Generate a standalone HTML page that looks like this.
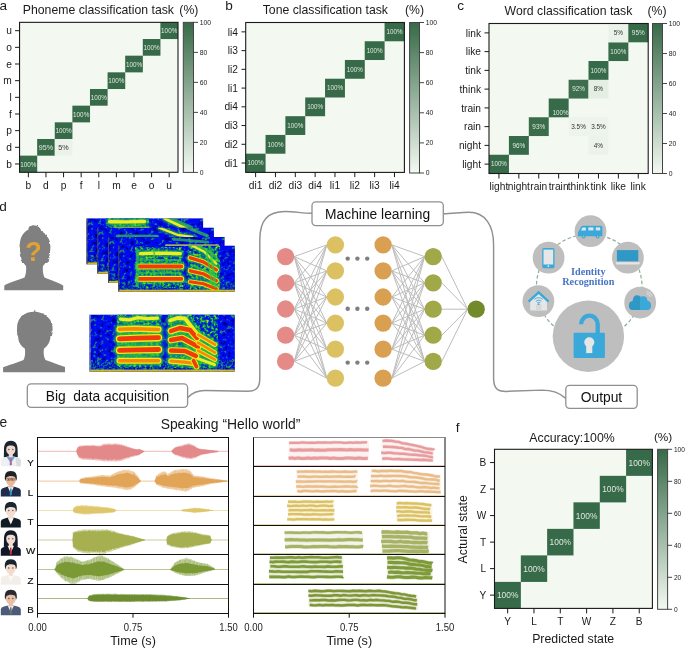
<!DOCTYPE html>
<html><head><meta charset="utf-8"><title>Figure</title>
<style>html,body{margin:0;padding:0;background:#fff;overflow:hidden}svg{display:block}</style>
</head><body>
<svg width="685" height="648" viewBox="0 0 685 648" font-family="Liberation Sans, Arial, sans-serif">
<rect width="685" height="648" fill="#fff"/>
<defs><linearGradient id="cbg" x1="0" y1="1" x2="0" y2="0"><stop offset="0" stop-color="#f3f9f1"/><stop offset="1" stop-color="#376a48"/></linearGradient></defs>
<rect x="19.55" y="22.35" width="158.45" height="149.95" fill="#f3f9f1"/>
<rect x="19.55" y="155.64" width="17.66" height="16.71" fill="#376a48"/>
<text x="28.35" y="166.56" font-size="7.2" text-anchor="middle" fill="#dfe9de" textLength="16.2" lengthAdjust="spacingAndGlyphs">100%</text>
<rect x="37.16" y="138.98" width="17.66" height="16.71" fill="#376a48"/>
<text x="45.96" y="149.90" font-size="7.2" text-anchor="middle" fill="#dfe9de" >95%</text>
<rect x="54.76" y="122.32" width="17.66" height="16.71" fill="#376a48"/>
<text x="63.56" y="133.24" font-size="7.2" text-anchor="middle" fill="#dfe9de" textLength="16.2" lengthAdjust="spacingAndGlyphs">100%</text>
<rect x="72.37" y="105.66" width="17.66" height="16.71" fill="#376a48"/>
<text x="81.17" y="116.58" font-size="7.2" text-anchor="middle" fill="#dfe9de" textLength="16.2" lengthAdjust="spacingAndGlyphs">100%</text>
<rect x="89.97" y="88.99" width="17.66" height="16.71" fill="#376a48"/>
<text x="98.77" y="99.92" font-size="7.2" text-anchor="middle" fill="#dfe9de" textLength="16.2" lengthAdjust="spacingAndGlyphs">100%</text>
<rect x="107.58" y="72.33" width="17.66" height="16.71" fill="#376a48"/>
<text x="116.38" y="83.26" font-size="7.2" text-anchor="middle" fill="#dfe9de" textLength="16.2" lengthAdjust="spacingAndGlyphs">100%</text>
<rect x="125.18" y="55.67" width="17.66" height="16.71" fill="#376a48"/>
<text x="133.99" y="66.59" font-size="7.2" text-anchor="middle" fill="#dfe9de" textLength="16.2" lengthAdjust="spacingAndGlyphs">100%</text>
<rect x="142.79" y="39.01" width="17.66" height="16.71" fill="#376a48"/>
<text x="151.59" y="49.93" font-size="7.2" text-anchor="middle" fill="#dfe9de" textLength="16.2" lengthAdjust="spacingAndGlyphs">100%</text>
<rect x="160.39" y="22.35" width="17.66" height="16.71" fill="#376a48"/>
<text x="169.20" y="33.27" font-size="7.2" text-anchor="middle" fill="#dfe9de" textLength="16.2" lengthAdjust="spacingAndGlyphs">100%</text>
<rect x="54.76" y="138.98" width="17.66" height="16.71" fill="#eaf2e9"/>
<text x="63.56" y="149.90" font-size="7.2" text-anchor="middle" fill="#333" >5%</text>
<rect x="19.55" y="22.35" width="158.45" height="149.95" fill="none" stroke="#1a1a1a" stroke-width="1.1"/>
<line x1="15.05" y1="163.97" x2="19.55" y2="163.97" stroke="#1a1a1a" stroke-width="1"/>
<text x="11.85" y="167.64" font-size="10.2" text-anchor="end" fill="#1a1a1a" >b</text>
<line x1="28.35" y1="172.3" x2="28.35" y2="177.3" stroke="#1a1a1a" stroke-width="1"/>
<text x="28.35" y="188.50" font-size="10.2" text-anchor="middle" fill="#1a1a1a" >b</text>
<line x1="15.05" y1="147.31" x2="19.55" y2="147.31" stroke="#1a1a1a" stroke-width="1"/>
<text x="11.85" y="150.98" font-size="10.2" text-anchor="end" fill="#1a1a1a" >d</text>
<line x1="45.96" y1="172.3" x2="45.96" y2="177.3" stroke="#1a1a1a" stroke-width="1"/>
<text x="45.96" y="188.50" font-size="10.2" text-anchor="middle" fill="#1a1a1a" >d</text>
<line x1="15.05" y1="130.65" x2="19.55" y2="130.65" stroke="#1a1a1a" stroke-width="1"/>
<text x="11.85" y="134.32" font-size="10.2" text-anchor="end" fill="#1a1a1a" >p</text>
<line x1="63.56" y1="172.3" x2="63.56" y2="177.3" stroke="#1a1a1a" stroke-width="1"/>
<text x="63.56" y="188.50" font-size="10.2" text-anchor="middle" fill="#1a1a1a" >p</text>
<line x1="15.05" y1="113.99" x2="19.55" y2="113.99" stroke="#1a1a1a" stroke-width="1"/>
<text x="11.85" y="117.66" font-size="10.2" text-anchor="end" fill="#1a1a1a" >f</text>
<line x1="81.17" y1="172.3" x2="81.17" y2="177.3" stroke="#1a1a1a" stroke-width="1"/>
<text x="81.17" y="188.50" font-size="10.2" text-anchor="middle" fill="#1a1a1a" >f</text>
<line x1="15.05" y1="97.33" x2="19.55" y2="97.33" stroke="#1a1a1a" stroke-width="1"/>
<text x="11.85" y="101.00" font-size="10.2" text-anchor="end" fill="#1a1a1a" >l</text>
<line x1="98.77" y1="172.3" x2="98.77" y2="177.3" stroke="#1a1a1a" stroke-width="1"/>
<text x="98.77" y="188.50" font-size="10.2" text-anchor="middle" fill="#1a1a1a" >l</text>
<line x1="15.05" y1="80.66" x2="19.55" y2="80.66" stroke="#1a1a1a" stroke-width="1"/>
<text x="11.85" y="84.34" font-size="10.2" text-anchor="end" fill="#1a1a1a" >m</text>
<line x1="116.38" y1="172.3" x2="116.38" y2="177.3" stroke="#1a1a1a" stroke-width="1"/>
<text x="116.38" y="188.50" font-size="10.2" text-anchor="middle" fill="#1a1a1a" >m</text>
<line x1="15.05" y1="64.00" x2="19.55" y2="64.00" stroke="#1a1a1a" stroke-width="1"/>
<text x="11.85" y="67.67" font-size="10.2" text-anchor="end" fill="#1a1a1a" >e</text>
<line x1="133.99" y1="172.3" x2="133.99" y2="177.3" stroke="#1a1a1a" stroke-width="1"/>
<text x="133.99" y="188.50" font-size="10.2" text-anchor="middle" fill="#1a1a1a" >e</text>
<line x1="15.05" y1="47.34" x2="19.55" y2="47.34" stroke="#1a1a1a" stroke-width="1"/>
<text x="11.85" y="51.01" font-size="10.2" text-anchor="end" fill="#1a1a1a" >o</text>
<line x1="151.59" y1="172.3" x2="151.59" y2="177.3" stroke="#1a1a1a" stroke-width="1"/>
<text x="151.59" y="188.50" font-size="10.2" text-anchor="middle" fill="#1a1a1a" >o</text>
<line x1="15.05" y1="30.68" x2="19.55" y2="30.68" stroke="#1a1a1a" stroke-width="1"/>
<text x="11.85" y="34.35" font-size="10.2" text-anchor="end" fill="#1a1a1a" >u</text>
<line x1="169.20" y1="172.3" x2="169.20" y2="177.3" stroke="#1a1a1a" stroke-width="1"/>
<text x="169.20" y="188.50" font-size="10.2" text-anchor="middle" fill="#1a1a1a" >u</text>
<rect x="183.3" y="22.35" width="10.20" height="150.05" fill="url(#cbg)"/>
<rect x="183.3" y="22.35" width="10.20" height="150.05" fill="none" stroke="#444" stroke-width="1"/>
<line x1="193.5" y1="172.40" x2="198.0" y2="172.40" stroke="#333" stroke-width="0.9"/>
<text x="199.80" y="174.85" font-size="6.8" text-anchor="start" fill="#222" >0</text>
<line x1="193.5" y1="142.39" x2="198.0" y2="142.39" stroke="#333" stroke-width="0.9"/>
<text x="199.80" y="144.84" font-size="6.8" text-anchor="start" fill="#222" >20</text>
<line x1="193.5" y1="112.38" x2="198.0" y2="112.38" stroke="#333" stroke-width="0.9"/>
<text x="199.80" y="114.83" font-size="6.8" text-anchor="start" fill="#222" >40</text>
<line x1="193.5" y1="82.37" x2="198.0" y2="82.37" stroke="#333" stroke-width="0.9"/>
<text x="199.80" y="84.82" font-size="6.8" text-anchor="start" fill="#222" >60</text>
<line x1="193.5" y1="52.36" x2="198.0" y2="52.36" stroke="#333" stroke-width="0.9"/>
<text x="199.80" y="54.81" font-size="6.8" text-anchor="start" fill="#222" >80</text>
<line x1="193.5" y1="22.35" x2="198.0" y2="22.35" stroke="#333" stroke-width="0.9"/>
<text x="199.80" y="24.80" font-size="6.8" text-anchor="start" fill="#222" >100</text>
<text x="-0.50" y="9.80" font-size="13.6" text-anchor="start" fill="#1a1a1a" >a</text>
<text x="22.80" y="14.00" font-size="12.25" text-anchor="start" fill="#1a1a1a" >Phoneme classification task</text>
<text x="179.30" y="14.00" font-size="12.25" text-anchor="start" fill="#1a1a1a" >(%)</text>
<rect x="245.7" y="22.5" width="158.70" height="149.90" fill="#f3f9f1"/>
<rect x="245.70" y="153.66" width="19.89" height="18.79" fill="#376a48"/>
<text x="255.62" y="165.34" font-size="6.4" text-anchor="middle" fill="#dfe9de" textLength="16.0" lengthAdjust="spacingAndGlyphs">100%</text>
<rect x="265.54" y="134.93" width="19.89" height="18.79" fill="#376a48"/>
<text x="275.46" y="146.60" font-size="6.4" text-anchor="middle" fill="#dfe9de" textLength="16.0" lengthAdjust="spacingAndGlyphs">100%</text>
<rect x="285.38" y="116.19" width="19.89" height="18.79" fill="#376a48"/>
<text x="295.29" y="127.86" font-size="6.4" text-anchor="middle" fill="#dfe9de" textLength="16.0" lengthAdjust="spacingAndGlyphs">100%</text>
<rect x="305.21" y="97.45" width="19.89" height="18.79" fill="#376a48"/>
<text x="315.13" y="109.12" font-size="6.4" text-anchor="middle" fill="#dfe9de" textLength="16.0" lengthAdjust="spacingAndGlyphs">100%</text>
<rect x="325.05" y="78.71" width="19.89" height="18.79" fill="#376a48"/>
<text x="334.97" y="90.39" font-size="6.4" text-anchor="middle" fill="#dfe9de" textLength="16.0" lengthAdjust="spacingAndGlyphs">100%</text>
<rect x="344.89" y="59.97" width="19.89" height="18.79" fill="#376a48"/>
<text x="354.81" y="71.65" font-size="6.4" text-anchor="middle" fill="#dfe9de" textLength="16.0" lengthAdjust="spacingAndGlyphs">100%</text>
<rect x="364.72" y="41.24" width="19.89" height="18.79" fill="#376a48"/>
<text x="374.64" y="52.91" font-size="6.4" text-anchor="middle" fill="#dfe9de" textLength="16.0" lengthAdjust="spacingAndGlyphs">100%</text>
<rect x="384.56" y="22.50" width="19.89" height="18.79" fill="#376a48"/>
<text x="394.48" y="34.17" font-size="6.4" text-anchor="middle" fill="#dfe9de" textLength="16.0" lengthAdjust="spacingAndGlyphs">100%</text>
<rect x="245.7" y="22.5" width="158.70" height="149.90" fill="none" stroke="#1a1a1a" stroke-width="1.1"/>
<line x1="241.5" y1="163.03" x2="245.7" y2="163.03" stroke="#1a1a1a" stroke-width="1"/>
<text x="238.00" y="166.70" font-size="10.2" text-anchor="end" fill="#1a1a1a" >di1</text>
<line x1="255.62" y1="172.4" x2="255.62" y2="177.1" stroke="#1a1a1a" stroke-width="1"/>
<text x="255.62" y="188.50" font-size="10.2" text-anchor="middle" fill="#1a1a1a" >di1</text>
<line x1="241.5" y1="144.29" x2="245.7" y2="144.29" stroke="#1a1a1a" stroke-width="1"/>
<text x="238.00" y="147.97" font-size="10.2" text-anchor="end" fill="#1a1a1a" >di2</text>
<line x1="275.46" y1="172.4" x2="275.46" y2="177.1" stroke="#1a1a1a" stroke-width="1"/>
<text x="275.46" y="188.50" font-size="10.2" text-anchor="middle" fill="#1a1a1a" >di2</text>
<line x1="241.5" y1="125.56" x2="245.7" y2="125.56" stroke="#1a1a1a" stroke-width="1"/>
<text x="238.00" y="129.23" font-size="10.2" text-anchor="end" fill="#1a1a1a" >di3</text>
<line x1="295.29" y1="172.4" x2="295.29" y2="177.1" stroke="#1a1a1a" stroke-width="1"/>
<text x="295.29" y="188.50" font-size="10.2" text-anchor="middle" fill="#1a1a1a" >di3</text>
<line x1="241.5" y1="106.82" x2="245.7" y2="106.82" stroke="#1a1a1a" stroke-width="1"/>
<text x="238.00" y="110.49" font-size="10.2" text-anchor="end" fill="#1a1a1a" >di4</text>
<line x1="315.13" y1="172.4" x2="315.13" y2="177.1" stroke="#1a1a1a" stroke-width="1"/>
<text x="315.13" y="188.50" font-size="10.2" text-anchor="middle" fill="#1a1a1a" >di4</text>
<line x1="241.5" y1="88.08" x2="245.7" y2="88.08" stroke="#1a1a1a" stroke-width="1"/>
<text x="238.00" y="91.75" font-size="10.2" text-anchor="end" fill="#1a1a1a" >li1</text>
<line x1="334.97" y1="172.4" x2="334.97" y2="177.1" stroke="#1a1a1a" stroke-width="1"/>
<text x="334.97" y="188.50" font-size="10.2" text-anchor="middle" fill="#1a1a1a" >li1</text>
<line x1="241.5" y1="69.34" x2="245.7" y2="69.34" stroke="#1a1a1a" stroke-width="1"/>
<text x="238.00" y="73.02" font-size="10.2" text-anchor="end" fill="#1a1a1a" >li2</text>
<line x1="354.81" y1="172.4" x2="354.81" y2="177.1" stroke="#1a1a1a" stroke-width="1"/>
<text x="354.81" y="188.50" font-size="10.2" text-anchor="middle" fill="#1a1a1a" >li2</text>
<line x1="241.5" y1="50.61" x2="245.7" y2="50.61" stroke="#1a1a1a" stroke-width="1"/>
<text x="238.00" y="54.28" font-size="10.2" text-anchor="end" fill="#1a1a1a" >li3</text>
<line x1="374.64" y1="172.4" x2="374.64" y2="177.1" stroke="#1a1a1a" stroke-width="1"/>
<text x="374.64" y="188.50" font-size="10.2" text-anchor="middle" fill="#1a1a1a" >li3</text>
<line x1="241.5" y1="31.87" x2="245.7" y2="31.87" stroke="#1a1a1a" stroke-width="1"/>
<text x="238.00" y="35.54" font-size="10.2" text-anchor="end" fill="#1a1a1a" >li4</text>
<line x1="394.48" y1="172.4" x2="394.48" y2="177.1" stroke="#1a1a1a" stroke-width="1"/>
<text x="394.48" y="188.50" font-size="10.2" text-anchor="middle" fill="#1a1a1a" >li4</text>
<rect x="409.6" y="22.5" width="9.90" height="150.50" fill="url(#cbg)"/>
<rect x="409.6" y="22.5" width="9.90" height="150.50" fill="none" stroke="#444" stroke-width="1"/>
<line x1="419.5" y1="173.00" x2="424.0" y2="173.00" stroke="#333" stroke-width="0.9"/>
<text x="425.80" y="175.45" font-size="6.8" text-anchor="start" fill="#222" >0</text>
<line x1="419.5" y1="142.90" x2="424.0" y2="142.90" stroke="#333" stroke-width="0.9"/>
<text x="425.80" y="145.35" font-size="6.8" text-anchor="start" fill="#222" >20</text>
<line x1="419.5" y1="112.80" x2="424.0" y2="112.80" stroke="#333" stroke-width="0.9"/>
<text x="425.80" y="115.25" font-size="6.8" text-anchor="start" fill="#222" >40</text>
<line x1="419.5" y1="82.70" x2="424.0" y2="82.70" stroke="#333" stroke-width="0.9"/>
<text x="425.80" y="85.15" font-size="6.8" text-anchor="start" fill="#222" >60</text>
<line x1="419.5" y1="52.60" x2="424.0" y2="52.60" stroke="#333" stroke-width="0.9"/>
<text x="425.80" y="55.05" font-size="6.8" text-anchor="start" fill="#222" >80</text>
<line x1="419.5" y1="22.50" x2="424.0" y2="22.50" stroke="#333" stroke-width="0.9"/>
<text x="425.80" y="24.95" font-size="6.8" text-anchor="start" fill="#222" >100</text>
<text x="225.30" y="9.80" font-size="13.6" text-anchor="start" fill="#1a1a1a" >b</text>
<text x="262.70" y="14.00" font-size="12.25" text-anchor="start" fill="#1a1a1a" >Tone classification task</text>
<text x="405.00" y="14.00" font-size="12.25" text-anchor="start" fill="#1a1a1a" >(%)</text>
<rect x="489.0" y="23.5" width="159.20" height="150.00" fill="#f3f9f1"/>
<rect x="489.00" y="154.75" width="19.95" height="18.80" fill="#376a48"/>
<text x="498.95" y="166.43" font-size="6.4" text-anchor="middle" fill="#dfe9de" textLength="16.0" lengthAdjust="spacingAndGlyphs">100%</text>
<rect x="508.90" y="136.00" width="19.95" height="18.80" fill="#376a48"/>
<text x="518.85" y="147.68" font-size="6.4" text-anchor="middle" fill="#dfe9de" >96%</text>
<rect x="588.50" y="136.00" width="19.95" height="18.80" fill="#ebf3ea"/>
<text x="598.45" y="147.68" font-size="6.4" text-anchor="middle" fill="#333" >4%</text>
<rect x="528.80" y="117.25" width="19.95" height="18.80" fill="#3b6d4b"/>
<text x="538.75" y="128.93" font-size="6.4" text-anchor="middle" fill="#dfe9de" >93%</text>
<rect x="568.60" y="117.25" width="19.95" height="18.80" fill="#ecf4eb"/>
<text x="578.55" y="128.93" font-size="6.4" text-anchor="middle" fill="#333" >3.5%</text>
<rect x="588.50" y="117.25" width="19.95" height="18.80" fill="#ecf4eb"/>
<text x="598.45" y="128.93" font-size="6.4" text-anchor="middle" fill="#333" >3.5%</text>
<rect x="548.70" y="98.50" width="19.95" height="18.80" fill="#376a48"/>
<text x="560.65" y="114.98" font-size="6.4" text-anchor="middle" fill="#dfe9de" textLength="16.0" lengthAdjust="spacingAndGlyphs">100%</text>
<rect x="568.60" y="79.75" width="19.95" height="18.80" fill="#3d6e4d"/>
<text x="578.55" y="91.43" font-size="6.4" text-anchor="middle" fill="#dfe9de" >92%</text>
<rect x="588.50" y="79.75" width="19.95" height="18.80" fill="#e4eee3"/>
<text x="598.45" y="91.43" font-size="6.4" text-anchor="middle" fill="#333" >8%</text>
<rect x="588.50" y="61.00" width="19.95" height="18.80" fill="#376a48"/>
<text x="598.45" y="72.68" font-size="6.4" text-anchor="middle" fill="#dfe9de" textLength="16.0" lengthAdjust="spacingAndGlyphs">100%</text>
<rect x="608.40" y="42.25" width="19.95" height="18.80" fill="#376a48"/>
<text x="618.35" y="53.93" font-size="6.4" text-anchor="middle" fill="#dfe9de" textLength="16.0" lengthAdjust="spacingAndGlyphs">100%</text>
<rect x="608.40" y="23.50" width="19.95" height="18.80" fill="#eaf2e9"/>
<text x="618.35" y="35.18" font-size="6.4" text-anchor="middle" fill="#333" >5%</text>
<rect x="628.30" y="23.50" width="19.95" height="18.80" fill="#376a48"/>
<text x="638.25" y="35.18" font-size="6.4" text-anchor="middle" fill="#dfe9de" >95%</text>
<rect x="489.0" y="23.5" width="159.20" height="150.00" fill="none" stroke="#1a1a1a" stroke-width="1.1"/>
<line x1="484.5" y1="164.12" x2="489.0" y2="164.12" stroke="#1a1a1a" stroke-width="1"/>
<text x="481.00" y="167.80" font-size="10.2" text-anchor="end" fill="#1a1a1a" >light</text>
<line x1="498.95" y1="173.5" x2="498.95" y2="178.5" stroke="#1a1a1a" stroke-width="1"/>
<text x="498.95" y="189.50" font-size="10.2" text-anchor="middle" fill="#1a1a1a" >light</text>
<line x1="484.5" y1="145.38" x2="489.0" y2="145.38" stroke="#1a1a1a" stroke-width="1"/>
<text x="481.00" y="149.05" font-size="10.2" text-anchor="end" fill="#1a1a1a" >night</text>
<line x1="518.85" y1="173.5" x2="518.85" y2="178.5" stroke="#1a1a1a" stroke-width="1"/>
<text x="518.85" y="189.50" font-size="10.2" text-anchor="middle" fill="#1a1a1a" >night</text>
<line x1="484.5" y1="126.62" x2="489.0" y2="126.62" stroke="#1a1a1a" stroke-width="1"/>
<text x="481.00" y="130.30" font-size="10.2" text-anchor="end" fill="#1a1a1a" >rain</text>
<line x1="538.75" y1="173.5" x2="538.75" y2="178.5" stroke="#1a1a1a" stroke-width="1"/>
<text x="538.75" y="189.50" font-size="10.2" text-anchor="middle" fill="#1a1a1a" >rain</text>
<line x1="484.5" y1="107.88" x2="489.0" y2="107.88" stroke="#1a1a1a" stroke-width="1"/>
<text x="481.00" y="111.55" font-size="10.2" text-anchor="end" fill="#1a1a1a" >train</text>
<line x1="558.65" y1="173.5" x2="558.65" y2="178.5" stroke="#1a1a1a" stroke-width="1"/>
<text x="558.65" y="189.50" font-size="10.2" text-anchor="middle" fill="#1a1a1a" >train</text>
<line x1="484.5" y1="89.12" x2="489.0" y2="89.12" stroke="#1a1a1a" stroke-width="1"/>
<text x="481.00" y="92.80" font-size="10.2" text-anchor="end" fill="#1a1a1a" >think</text>
<line x1="578.55" y1="173.5" x2="578.55" y2="178.5" stroke="#1a1a1a" stroke-width="1"/>
<text x="578.55" y="189.50" font-size="10.2" text-anchor="middle" fill="#1a1a1a" >think</text>
<line x1="484.5" y1="70.38" x2="489.0" y2="70.38" stroke="#1a1a1a" stroke-width="1"/>
<text x="481.00" y="74.05" font-size="10.2" text-anchor="end" fill="#1a1a1a" >tink</text>
<line x1="598.45" y1="173.5" x2="598.45" y2="178.5" stroke="#1a1a1a" stroke-width="1"/>
<text x="598.45" y="189.50" font-size="10.2" text-anchor="middle" fill="#1a1a1a" >tink</text>
<line x1="484.5" y1="51.62" x2="489.0" y2="51.62" stroke="#1a1a1a" stroke-width="1"/>
<text x="481.00" y="55.30" font-size="10.2" text-anchor="end" fill="#1a1a1a" >like</text>
<line x1="618.35" y1="173.5" x2="618.35" y2="178.5" stroke="#1a1a1a" stroke-width="1"/>
<text x="618.35" y="189.50" font-size="10.2" text-anchor="middle" fill="#1a1a1a" >like</text>
<line x1="484.5" y1="32.88" x2="489.0" y2="32.88" stroke="#1a1a1a" stroke-width="1"/>
<text x="481.00" y="36.55" font-size="10.2" text-anchor="end" fill="#1a1a1a" >link</text>
<line x1="638.25" y1="173.5" x2="638.25" y2="178.5" stroke="#1a1a1a" stroke-width="1"/>
<text x="638.25" y="189.50" font-size="10.2" text-anchor="middle" fill="#1a1a1a" >link</text>
<rect x="652.5" y="23.5" width="10.00" height="150.00" fill="url(#cbg)"/>
<rect x="652.5" y="23.5" width="10.00" height="150.00" fill="none" stroke="#444" stroke-width="1"/>
<line x1="662.5" y1="173.50" x2="667.0" y2="173.50" stroke="#333" stroke-width="0.9"/>
<text x="668.80" y="175.95" font-size="6.8" text-anchor="start" fill="#222" >0</text>
<line x1="662.5" y1="143.50" x2="667.0" y2="143.50" stroke="#333" stroke-width="0.9"/>
<text x="668.80" y="145.95" font-size="6.8" text-anchor="start" fill="#222" >20</text>
<line x1="662.5" y1="113.50" x2="667.0" y2="113.50" stroke="#333" stroke-width="0.9"/>
<text x="668.80" y="115.95" font-size="6.8" text-anchor="start" fill="#222" >40</text>
<line x1="662.5" y1="83.50" x2="667.0" y2="83.50" stroke="#333" stroke-width="0.9"/>
<text x="668.80" y="85.95" font-size="6.8" text-anchor="start" fill="#222" >60</text>
<line x1="662.5" y1="53.50" x2="667.0" y2="53.50" stroke="#333" stroke-width="0.9"/>
<text x="668.80" y="55.95" font-size="6.8" text-anchor="start" fill="#222" >80</text>
<line x1="662.5" y1="23.50" x2="667.0" y2="23.50" stroke="#333" stroke-width="0.9"/>
<text x="668.80" y="25.95" font-size="6.8" text-anchor="start" fill="#222" >100</text>
<text x="457.30" y="9.90" font-size="13.6" text-anchor="start" fill="#1a1a1a" >c</text>
<text x="504.60" y="14.60" font-size="12.25" text-anchor="start" fill="#1a1a1a" >Word classification task</text>
<text x="647.50" y="14.60" font-size="12.25" text-anchor="start" fill="#1a1a1a" >(%)</text>
<rect x="494.5" y="449.3" width="157.90" height="159.10" fill="#f3f9f1"/>
<rect x="494.50" y="581.88" width="26.37" height="26.57" fill="#376a48"/>
<text x="507.66" y="598.20" font-size="8.5" text-anchor="middle" fill="#dfe9de" textLength="21.5" lengthAdjust="spacingAndGlyphs">100%</text>
<rect x="520.82" y="555.37" width="26.37" height="26.57" fill="#376a48"/>
<text x="533.97" y="571.68" font-size="8.5" text-anchor="middle" fill="#dfe9de" textLength="21.5" lengthAdjust="spacingAndGlyphs">100%</text>
<rect x="547.13" y="528.85" width="26.37" height="26.57" fill="#376a48"/>
<text x="560.29" y="545.17" font-size="8.5" text-anchor="middle" fill="#dfe9de" textLength="21.5" lengthAdjust="spacingAndGlyphs">100%</text>
<rect x="573.45" y="502.33" width="26.37" height="26.57" fill="#376a48"/>
<text x="586.61" y="518.65" font-size="8.5" text-anchor="middle" fill="#dfe9de" textLength="21.5" lengthAdjust="spacingAndGlyphs">100%</text>
<rect x="599.77" y="475.82" width="26.37" height="26.57" fill="#376a48"/>
<text x="612.92" y="492.13" font-size="8.5" text-anchor="middle" fill="#dfe9de" textLength="21.5" lengthAdjust="spacingAndGlyphs">100%</text>
<rect x="626.08" y="449.30" width="26.37" height="26.57" fill="#376a48"/>
<text x="639.24" y="465.62" font-size="8.5" text-anchor="middle" fill="#dfe9de" textLength="21.5" lengthAdjust="spacingAndGlyphs">100%</text>
<rect x="494.5" y="449.3" width="157.90" height="159.10" fill="none" stroke="#1a1a1a" stroke-width="1.1"/>
<line x1="490.0" y1="595.14" x2="494.5" y2="595.14" stroke="#1a1a1a" stroke-width="1"/>
<text x="486.20" y="598.78" font-size="10.1" text-anchor="end" fill="#1a1a1a" >Y</text>
<line x1="507.66" y1="608.4" x2="507.66" y2="613.4" stroke="#1a1a1a" stroke-width="1"/>
<text x="507.66" y="624.50" font-size="10.1" text-anchor="middle" fill="#1a1a1a" >Y</text>
<line x1="490.0" y1="568.62" x2="494.5" y2="568.62" stroke="#1a1a1a" stroke-width="1"/>
<text x="486.20" y="572.26" font-size="10.1" text-anchor="end" fill="#1a1a1a" >L</text>
<line x1="533.98" y1="608.4" x2="533.98" y2="613.4" stroke="#1a1a1a" stroke-width="1"/>
<text x="533.98" y="624.50" font-size="10.1" text-anchor="middle" fill="#1a1a1a" >L</text>
<line x1="490.0" y1="542.11" x2="494.5" y2="542.11" stroke="#1a1a1a" stroke-width="1"/>
<text x="486.20" y="545.74" font-size="10.1" text-anchor="end" fill="#1a1a1a" >T</text>
<line x1="560.29" y1="608.4" x2="560.29" y2="613.4" stroke="#1a1a1a" stroke-width="1"/>
<text x="560.29" y="624.50" font-size="10.1" text-anchor="middle" fill="#1a1a1a" >T</text>
<line x1="490.0" y1="515.59" x2="494.5" y2="515.59" stroke="#1a1a1a" stroke-width="1"/>
<text x="486.20" y="519.23" font-size="10.1" text-anchor="end" fill="#1a1a1a" >W</text>
<line x1="586.61" y1="608.4" x2="586.61" y2="613.4" stroke="#1a1a1a" stroke-width="1"/>
<text x="586.61" y="624.50" font-size="10.1" text-anchor="middle" fill="#1a1a1a" >W</text>
<line x1="490.0" y1="489.07" x2="494.5" y2="489.07" stroke="#1a1a1a" stroke-width="1"/>
<text x="486.20" y="492.71" font-size="10.1" text-anchor="end" fill="#1a1a1a" >Z</text>
<line x1="612.92" y1="608.4" x2="612.92" y2="613.4" stroke="#1a1a1a" stroke-width="1"/>
<text x="612.92" y="624.50" font-size="10.1" text-anchor="middle" fill="#1a1a1a" >Z</text>
<line x1="490.0" y1="462.56" x2="494.5" y2="462.56" stroke="#1a1a1a" stroke-width="1"/>
<text x="486.20" y="466.19" font-size="10.1" text-anchor="end" fill="#1a1a1a" >B</text>
<line x1="639.24" y1="608.4" x2="639.24" y2="613.4" stroke="#1a1a1a" stroke-width="1"/>
<text x="639.24" y="624.50" font-size="10.1" text-anchor="middle" fill="#1a1a1a" >B</text>
<rect x="657.6" y="449.3" width="10.00" height="160.00" fill="url(#cbg)"/>
<rect x="657.6" y="449.3" width="10.00" height="160.00" fill="none" stroke="#444" stroke-width="1"/>
<line x1="667.6" y1="609.30" x2="672.1" y2="609.30" stroke="#333" stroke-width="0.9"/>
<text x="673.90" y="611.68" font-size="6.6" text-anchor="start" fill="#222" >0</text>
<line x1="667.6" y1="577.30" x2="672.1" y2="577.30" stroke="#333" stroke-width="0.9"/>
<text x="673.90" y="579.68" font-size="6.6" text-anchor="start" fill="#222" >20</text>
<line x1="667.6" y1="545.30" x2="672.1" y2="545.30" stroke="#333" stroke-width="0.9"/>
<text x="673.90" y="547.68" font-size="6.6" text-anchor="start" fill="#222" >40</text>
<line x1="667.6" y1="513.30" x2="672.1" y2="513.30" stroke="#333" stroke-width="0.9"/>
<text x="673.90" y="515.68" font-size="6.6" text-anchor="start" fill="#222" >60</text>
<line x1="667.6" y1="481.30" x2="672.1" y2="481.30" stroke="#333" stroke-width="0.9"/>
<text x="673.90" y="483.68" font-size="6.6" text-anchor="start" fill="#222" >80</text>
<line x1="667.6" y1="449.30" x2="672.1" y2="449.30" stroke="#333" stroke-width="0.9"/>
<text x="673.90" y="451.68" font-size="6.6" text-anchor="start" fill="#222" >100</text>
<text x="455.80" y="432.00" font-size="13.6" text-anchor="start" fill="#1a1a1a" >f</text>
<text x="572.00" y="441.50" font-size="12.3" text-anchor="middle" fill="#1a1a1a" >Accuracy:100%</text>
<text x="653.90" y="441.00" font-size="11.8" text-anchor="start" fill="#1a1a1a" >(%)</text>
<text x="573.20" y="642.50" font-size="12.3" text-anchor="middle" fill="#1a1a1a" >Predicted state</text>
<text transform="translate(466.8,529.3) rotate(-90)" font-size="12.3" text-anchor="middle" fill="#1a1a1a">Actural state</text>
<text x="-0.80" y="210.80" font-size="13.6" text-anchor="start" fill="#1a1a1a" >d</text>
<path d="M312,213.3 C302,213.3 295,211.5 285,211.5 C268,211.5 259.8,220 259.8,240 L259.8,378 C259.8,388 256,391.2 248,391.2 L205,390.5 C196,390.5 191,394 187.6,397.7" fill="none" stroke="#909090" stroke-width="1.45"/>
<path d="M443.3,213.7 C452,213.7 460,212.3 469,212.3 C485,212.3 493.6,225 493.6,245 L493.6,378 C493.6,388 497,391.4 506,391.4 L542,390.1 C552,390.1 560,393 565.8,398.4" fill="none" stroke="#909090" stroke-width="1.45"/>
<rect x="312.0" y="201.8" width="131.30" height="23.80" rx="3.8" fill="#fff" stroke="#909090" stroke-width="1.3"/>
<text x="377.65" y="218.67" font-size="13.8" text-anchor="middle" fill="#111" >Machine learning</text>
<rect x="27.3" y="383.8" width="160.30" height="23.60" rx="3.8" fill="#fff" stroke="#909090" stroke-width="1.3"/>
<text x="107.45" y="400.57" font-size="13.8" text-anchor="middle" fill="#111" >Big&#160;&#160;data acquisition</text>
<rect x="565.8" y="385.3" width="71.40" height="23.00" rx="3.8" fill="#fff" stroke="#909090" stroke-width="1.3"/>
<text x="601.50" y="401.77" font-size="13.8" text-anchor="middle" fill="#111" >Output</text>
<g stroke="#bdbdbd" stroke-width="1.0"><line x1="294.2" y1="256.6" x2="326.8" y2="244.9"/><line x1="294.2" y1="256.6" x2="326.8" y2="270.9"/><line x1="294.2" y1="256.6" x2="326.8" y2="297.0"/><line x1="294.2" y1="256.6" x2="326.8" y2="323.1"/><line x1="294.2" y1="256.6" x2="326.8" y2="349.2"/><line x1="294.2" y1="256.6" x2="326.8" y2="378.2"/><line x1="294.2" y1="282.9" x2="326.8" y2="244.9"/><line x1="294.2" y1="282.9" x2="326.8" y2="270.9"/><line x1="294.2" y1="282.9" x2="326.8" y2="297.0"/><line x1="294.2" y1="282.9" x2="326.8" y2="323.1"/><line x1="294.2" y1="282.9" x2="326.8" y2="349.2"/><line x1="294.2" y1="282.9" x2="326.8" y2="378.2"/><line x1="294.2" y1="309.0" x2="326.8" y2="244.9"/><line x1="294.2" y1="309.0" x2="326.8" y2="270.9"/><line x1="294.2" y1="309.0" x2="326.8" y2="297.0"/><line x1="294.2" y1="309.0" x2="326.8" y2="323.1"/><line x1="294.2" y1="309.0" x2="326.8" y2="349.2"/><line x1="294.2" y1="309.0" x2="326.8" y2="378.2"/><line x1="294.2" y1="335.2" x2="326.8" y2="244.9"/><line x1="294.2" y1="335.2" x2="326.8" y2="270.9"/><line x1="294.2" y1="335.2" x2="326.8" y2="297.0"/><line x1="294.2" y1="335.2" x2="326.8" y2="323.1"/><line x1="294.2" y1="335.2" x2="326.8" y2="349.2"/><line x1="294.2" y1="335.2" x2="326.8" y2="378.2"/><line x1="294.2" y1="361.4" x2="326.8" y2="244.9"/><line x1="294.2" y1="361.4" x2="326.8" y2="270.9"/><line x1="294.2" y1="361.4" x2="326.8" y2="297.0"/><line x1="294.2" y1="361.4" x2="326.8" y2="323.1"/><line x1="294.2" y1="361.4" x2="326.8" y2="349.2"/><line x1="294.2" y1="361.4" x2="326.8" y2="378.2"/><line x1="391.8" y1="244.9" x2="424.6" y2="256.6"/><line x1="391.8" y1="244.9" x2="424.6" y2="282.9"/><line x1="391.8" y1="244.9" x2="424.6" y2="309.2"/><line x1="391.8" y1="244.9" x2="424.6" y2="335.2"/><line x1="391.8" y1="244.9" x2="424.6" y2="361.4"/><line x1="391.8" y1="270.9" x2="424.6" y2="256.6"/><line x1="391.8" y1="270.9" x2="424.6" y2="282.9"/><line x1="391.8" y1="270.9" x2="424.6" y2="309.2"/><line x1="391.8" y1="270.9" x2="424.6" y2="335.2"/><line x1="391.8" y1="270.9" x2="424.6" y2="361.4"/><line x1="391.8" y1="297.0" x2="424.6" y2="256.6"/><line x1="391.8" y1="297.0" x2="424.6" y2="282.9"/><line x1="391.8" y1="297.0" x2="424.6" y2="309.2"/><line x1="391.8" y1="297.0" x2="424.6" y2="335.2"/><line x1="391.8" y1="297.0" x2="424.6" y2="361.4"/><line x1="391.8" y1="323.1" x2="424.6" y2="256.6"/><line x1="391.8" y1="323.1" x2="424.6" y2="282.9"/><line x1="391.8" y1="323.1" x2="424.6" y2="309.2"/><line x1="391.8" y1="323.1" x2="424.6" y2="335.2"/><line x1="391.8" y1="323.1" x2="424.6" y2="361.4"/><line x1="391.8" y1="349.2" x2="424.6" y2="256.6"/><line x1="391.8" y1="349.2" x2="424.6" y2="282.9"/><line x1="391.8" y1="349.2" x2="424.6" y2="309.2"/><line x1="391.8" y1="349.2" x2="424.6" y2="335.2"/><line x1="391.8" y1="349.2" x2="424.6" y2="361.4"/><line x1="391.8" y1="378.2" x2="424.6" y2="256.6"/><line x1="391.8" y1="378.2" x2="424.6" y2="282.9"/><line x1="391.8" y1="378.2" x2="424.6" y2="309.2"/><line x1="391.8" y1="378.2" x2="424.6" y2="335.2"/><line x1="391.8" y1="378.2" x2="424.6" y2="361.4"/><line x1="441.8" y1="256.6" x2="467.6" y2="309.2"/><line x1="441.8" y1="282.9" x2="467.6" y2="309.2"/><line x1="441.8" y1="309.2" x2="467.6" y2="309.2"/><line x1="441.8" y1="335.2" x2="467.6" y2="309.2"/><line x1="441.8" y1="361.4" x2="467.6" y2="309.2"/></g>
<circle cx="285.6" cy="256.6" r="8.65" fill="#e48a87"/>
<circle cx="285.6" cy="282.9" r="8.65" fill="#e48a87"/>
<circle cx="285.6" cy="309.0" r="8.65" fill="#e48a87"/>
<circle cx="285.6" cy="335.2" r="8.65" fill="#e48a87"/>
<circle cx="285.6" cy="361.4" r="8.65" fill="#e48a87"/>
<circle cx="335.4" cy="244.9" r="8.65" fill="#dcc163"/>
<circle cx="335.4" cy="270.9" r="8.65" fill="#dcc163"/>
<circle cx="335.4" cy="297.0" r="8.65" fill="#dcc163"/>
<circle cx="335.4" cy="323.1" r="8.65" fill="#dcc163"/>
<circle cx="335.4" cy="349.2" r="8.65" fill="#dcc163"/>
<circle cx="335.4" cy="378.2" r="8.65" fill="#dcc163"/>
<circle cx="383.1" cy="244.9" r="8.65" fill="#d9a052"/>
<circle cx="383.1" cy="270.9" r="8.65" fill="#d9a052"/>
<circle cx="383.1" cy="297.0" r="8.65" fill="#d9a052"/>
<circle cx="383.1" cy="323.1" r="8.65" fill="#d9a052"/>
<circle cx="383.1" cy="349.2" r="8.65" fill="#d9a052"/>
<circle cx="383.1" cy="378.2" r="8.65" fill="#d9a052"/>
<circle cx="433.2" cy="256.6" r="8.65" fill="#a0a848"/>
<circle cx="433.2" cy="282.9" r="8.65" fill="#a0a848"/>
<circle cx="433.2" cy="309.2" r="8.65" fill="#a0a848"/>
<circle cx="433.2" cy="335.2" r="8.65" fill="#a0a848"/>
<circle cx="433.2" cy="361.4" r="8.65" fill="#a0a848"/>
<circle cx="476.2" cy="309.2" r="8.65" fill="#738a2a"/>
<circle cx="347.7" cy="258.6" r="2.2" fill="#7f7f7f"/>
<circle cx="357.4" cy="258.6" r="2.2" fill="#7f7f7f"/>
<circle cx="367.2" cy="258.6" r="2.2" fill="#7f7f7f"/>
<circle cx="347.7" cy="308.8" r="2.2" fill="#7f7f7f"/>
<circle cx="357.4" cy="308.8" r="2.2" fill="#7f7f7f"/>
<circle cx="367.2" cy="308.8" r="2.2" fill="#7f7f7f"/>
<circle cx="347.7" cy="362.6" r="2.2" fill="#7f7f7f"/>
<circle cx="357.4" cy="362.6" r="2.2" fill="#7f7f7f"/>
<circle cx="367.2" cy="362.6" r="2.2" fill="#7f7f7f"/>
<path d="M4.3,290.3 L4.3,285.5 C8,283 18,280 24.5,277.5 C26,274 26.5,270 26,266 C22,262 20,255 19.8,246 C19.6,236 25,231 28.5,229.5 C28,226.5 31,225.3 34,225.5 C37.5,225.5 40.5,227.5 40,230 C45,233 49.4,238 49.4,246 C49.4,255 47,262 43,266 C42.5,270 43,274 44.5,277.5 C51,280 59,283 63.2,285.5 L63.2,290.3 Z" fill="#808080"/>
<defs><filter id="rough" x="-0.1" y="-0.1" width="1.2" height="1.2"><feTurbulence type="turbulence" baseFrequency="0.9" numOctaves="1" seed="2" result="t"/><feDisplacementMap in="SourceGraphic" in2="t" scale="1.8" xChannelSelector="R" yChannelSelector="G"/></filter></defs>
<path d="M21,262 C19.8,255 19.6,246 19.8,242 C20,236 25,231 28.5,229.5 C28,226.5 31,225.3 34,225.5 C37.5,225.5 40.5,227.5 40,230 C45,233 49.4,238 49.4,244 C49.4,252 48.5,256 47.5,262 Z" fill="#808080" filter="url(#rough)"/>
<path d="M17.6,336 C16.8,332 16.8,328 17.2,325 C18,317 25,311.7 34,311.7 C43,311.7 50.5,317 51.4,325 C51.8,328 51.6,332 51,336 Z" fill="#808080" filter="url(#rough)"/>
<path d="M33,313.5 L35,309.3 L35.6,313 Z" fill="#808080"/>
<text x="33.6" y="261" font-size="27" font-weight="bold" text-anchor="middle" fill="#e2a230">?</text>
<path d="M3.1,372.2 L3.1,367.3 C8,365.5 17,362.5 23.5,360 C25.2,357 25.5,352 24.8,348.5 C20.5,346 18,341 18.2,336.8 C16.8,334 16.8,330 17.2,326 C18,317 25,311.7 34,311.7 C43,311.7 50.5,317 51.4,326 C51.8,330 51.6,334 50.4,336.8 C50.4,341 48,346 44,348.5 C43.3,352 43.6,357 45.5,360 C52,362.5 60,365 65,367 L65,372.2 Z" fill="#808080"/>
<defs>
<filter id="nz" x="0" y="0" width="1" height="1" color-interpolation-filters="sRGB"><feTurbulence type="fractalNoise" baseFrequency="0.26" numOctaves="2" seed="11"/><feColorMatrix type="matrix" values="1 0 0 0 0  1 0 0 0 0  1 0 0 0 0  0 0 0 0 1"/><feComponentTransfer><feFuncR type="table" tableValues="0 0 0 0 0 0 0 0.08 0.12 0.2 0.3"/><feFuncG type="table" tableValues="0 0 0 0 0.03 0.04 0.07 0.42 0.55 0.65 0.7"/><feFuncB type="table" tableValues="0.45 0.45 0.5 0.62 0.9 0.94 0.94 0.55 0.35 0.25 0.2"/></feComponentTransfer></filter>
<filter id="nzv" x="0" y="0" width="1" height="1" color-interpolation-filters="sRGB"><feTurbulence type="fractalNoise" baseFrequency="0.36" numOctaves="2" seed="23"/><feColorMatrix type="matrix" values="1 0 0 0 0  1 0 0 0 0  1 0 0 0 0  0 0 0 0 1"/><feComponentTransfer><feFuncR type="table" tableValues="0 0 0 0 0 0 0.05 0.4 0.85 0.9 0.9"/><feFuncG type="table" tableValues="0 0 0.02 0.06 0.12 0.35 0.72 0.86 0.9 0.9 0.9"/><feFuncB type="table" tableValues="0.6 0.6 0.8 0.9 0.9 0.65 0.2 0.06 0 0 0"/></feComponentTransfer></filter>
<filter id="nzg" x="0" y="0" width="1" height="1" color-interpolation-filters="sRGB"><feTurbulence type="fractalNoise" baseFrequency="0.5" numOctaves="2" seed="4"/><feColorMatrix type="matrix" values="0 0 0 0 0.15  0 0 0 0 0.8  0 0 0 0 0.2  3 0 0 0 -1.2"/></filter>
<filter id="bl" x="-0.2" y="-0.2" width="1.4" height="1.4"><feGaussianBlur stdDeviation="0.55"/></filter>
<filter id="bl3" x="-0.2" y="-0.2" width="1.4" height="1.4"><feGaussianBlur stdDeviation="1.3"/></filter>
</defs>
<g transform="translate(86.6,218.5)"><clipPath id="cspb1"><rect x="0" y="0" width="116.5" height="45.7"/></clipPath><g clip-path="url(#cspb1)"><rect x="0" y="0" width="116.5" height="45.7" fill="#0010f0"/><rect x="0" y="0" width="116.5" height="45.7" filter="url(#nz)"/><rect x="0" y="36.6" width="116.5" height="9.1" filter="url(#nzg)" opacity="0.45"/><rect x="20" y="0" width="42" height="11" filter="url(#nzv)" opacity="0.9"/><g filter="url(#bl3)"><path d="M23.0,3.2 L40.0,3.4 L58.0,3.0" fill="none" stroke="#28c83c" stroke-width="7.2" stroke-linecap="round" stroke-linejoin="round" opacity="0.75"/><path d="M28.0,10.0 L62.0,10.0" fill="none" stroke="#28c83c" stroke-width="4.8" stroke-linecap="round" stroke-linejoin="round" opacity="0.75"/><path d="M78.0,0.0 L95.0,8.0 L110.0,15.0" fill="none" stroke="#28c83c" stroke-width="5.6" stroke-linecap="round" stroke-linejoin="round" opacity="0.75"/></g><g filter="url(#bl)"><path d="M23.0,3.2 L40.0,3.4 L58.0,3.0" fill="none" stroke="#f0ec20" stroke-width="3.4" stroke-linecap="round" stroke-linejoin="round" opacity="1"/><path d="M28.0,10.0 L62.0,10.0" fill="none" stroke="#f0ec20" stroke-width="2.3" stroke-linecap="round" stroke-linejoin="round" opacity="1"/><path d="M78.0,0.0 L95.0,8.0 L110.0,15.0" fill="none" stroke="#f0ec20" stroke-width="2.7" stroke-linecap="round" stroke-linejoin="round" opacity="1"/><path d="M85.0,0.0 L105.0,9.0" fill="none" stroke="#34c840" stroke-width="3.2" stroke-linecap="round" stroke-linejoin="round" opacity="0.7"/></g></g><rect x="0" y="43.9" width="116.5" height="1.8" fill="#d8b800"/><rect x="0" y="0" width="1" height="45.7" fill="#4a4a5a"/></g>
<g transform="translate(97.3,227.8)"><clipPath id="cspb2"><rect x="0" y="0" width="116.5" height="45.7"/></clipPath><g clip-path="url(#cspb2)"><rect x="0" y="0" width="116.5" height="45.7" fill="#0010f0"/><rect x="0" y="0" width="116.5" height="45.7" filter="url(#nz)"/><rect x="0" y="36.6" width="116.5" height="9.1" filter="url(#nzg)" opacity="0.45"/><g filter="url(#bl3)"><path d="M62.0,0.0 L80.0,7.0 L95.0,9.0" fill="none" stroke="#28c83c" stroke-width="4.8" stroke-linecap="round" stroke-linejoin="round" opacity="0.75"/></g><g filter="url(#bl)"><path d="M20.0,8.3 L60.0,8.5" fill="none" stroke="#34c840" stroke-width="3.2" stroke-linecap="round" stroke-linejoin="round" opacity="0.7"/><path d="M62.0,0.0 L80.0,7.0 L95.0,9.0" fill="none" stroke="#f0ec20" stroke-width="2.3" stroke-linecap="round" stroke-linejoin="round" opacity="1"/><path d="M90.0,0.0 L110.0,8.0" fill="none" stroke="#34c840" stroke-width="3.2" stroke-linecap="round" stroke-linejoin="round" opacity="0.7"/></g></g><rect x="0" y="43.9" width="116.5" height="1.8" fill="#d8b800"/><rect x="0" y="0" width="1" height="45.7" fill="#4a4a5a"/></g>
<g transform="translate(108.0,237.1)"><clipPath id="cspb3"><rect x="0" y="0" width="116.5" height="45.7"/></clipPath><g clip-path="url(#cspb3)"><rect x="0" y="0" width="116.5" height="45.7" fill="#0010f0"/><rect x="0" y="0" width="116.5" height="45.7" filter="url(#nz)"/><rect x="0" y="36.6" width="116.5" height="9.1" filter="url(#nzg)" opacity="0.45"/><g filter="url(#bl3)"><path d="M58.0,8.4 L110.0,8.4" fill="none" stroke="#28c83c" stroke-width="4.4" stroke-linecap="round" stroke-linejoin="round" opacity="0.75"/></g><g filter="url(#bl)"><path d="M58.0,8.4 L110.0,8.4" fill="none" stroke="#f0ec20" stroke-width="2.1" stroke-linecap="round" stroke-linejoin="round" opacity="1"/><path d="M65.0,2.0 L100.0,5.0" fill="none" stroke="#34c840" stroke-width="2.6" stroke-linecap="round" stroke-linejoin="round" opacity="0.7"/></g></g><rect x="0" y="43.9" width="116.5" height="1.8" fill="#d8b800"/><rect x="0" y="0" width="1" height="45.7" fill="#4a4a5a"/></g>
<g transform="translate(118.3,245.8)"><clipPath id="csp1"><rect x="0" y="0" width="116.5" height="45.7"/></clipPath><g clip-path="url(#csp1)"><rect x="0" y="0" width="116.5" height="45.7" fill="#0010f0"/><rect x="0" y="0" width="116.5" height="45.7" filter="url(#nz)"/><rect x="0" y="36.6" width="116.5" height="9.1" filter="url(#nzg)" opacity="0.45"/><rect x="17" y="2" width="48" height="40" filter="url(#nzv)" opacity="0.9"/><rect x="70" y="0" width="31" height="44" filter="url(#nzv)" opacity="0.9"/><g filter="url(#bl3)"><path d="M22.0,7.9 L40.0,7.3 L62.0,7.9" fill="none" stroke="#28c83c" stroke-width="6.8" stroke-linecap="round" stroke-linejoin="round" opacity="0.75"/><path d="M21.0,20.7 L63.0,20.7" fill="none" stroke="#28c83c" stroke-width="9.0" stroke-linecap="round" stroke-linejoin="round" opacity="0.75"/><path d="M21.0,33.1 L63.0,33.1" fill="none" stroke="#28c83c" stroke-width="9.0" stroke-linecap="round" stroke-linejoin="round" opacity="0.75"/><path d="M74.0,0.0 L86.0,6.0 L98.0,18.0" fill="none" stroke="#28c83c" stroke-width="4.8" stroke-linecap="round" stroke-linejoin="round" opacity="0.75"/><path d="M72.0,12.0 L85.0,16.0 L98.0,24.0" fill="none" stroke="#28c83c" stroke-width="7.9" stroke-linecap="round" stroke-linejoin="round" opacity="0.75"/><path d="M72.0,25.0 L85.0,28.0 L98.0,35.0" fill="none" stroke="#28c83c" stroke-width="7.9" stroke-linecap="round" stroke-linejoin="round" opacity="0.75"/><path d="M72.0,36.0 L85.0,38.0 L98.0,43.0" fill="none" stroke="#28c83c" stroke-width="7.5" stroke-linecap="round" stroke-linejoin="round" opacity="0.75"/></g><g filter="url(#bl)"><path d="M22.0,7.9 L40.0,7.3 L62.0,7.9" fill="none" stroke="#f0ec20" stroke-width="3.2" stroke-linecap="round" stroke-linejoin="round" opacity="1"/><path d="M35.9,3.0 L35.9,40.0" fill="none" stroke="#34c840" stroke-width="1.9" stroke-linecap="round" stroke-linejoin="round" opacity="0.7"/><path d="M21.0,20.7 L63.0,20.7" fill="none" stroke="#f2ea14" stroke-width="5.7" stroke-linecap="round" stroke-linejoin="round" opacity="1"/><path d="M21.0,20.7 L63.0,20.7" fill="none" stroke="#f03a0a" stroke-width="3.8" stroke-linecap="round" stroke-linejoin="round" opacity="1"/><path d="M21.0,33.1 L63.0,33.1" fill="none" stroke="#f2ea14" stroke-width="5.7" stroke-linecap="round" stroke-linejoin="round" opacity="1"/><path d="M21.0,33.1 L63.0,33.1" fill="none" stroke="#f03a0a" stroke-width="3.8" stroke-linecap="round" stroke-linejoin="round" opacity="1"/><path d="M21.0,14.3 L62.0,14.3" fill="none" stroke="#34c840" stroke-width="2.2" stroke-linecap="round" stroke-linejoin="round" opacity="0.7"/><path d="M21.0,27.0 L62.0,27.0" fill="none" stroke="#34c840" stroke-width="2.2" stroke-linecap="round" stroke-linejoin="round" opacity="0.7"/><path d="M19.0,4.0 L19.0,40.0" fill="none" stroke="#34c840" stroke-width="2.9" stroke-linecap="round" stroke-linejoin="round" opacity="0.7"/><path d="M74.0,0.0 L86.0,6.0 L98.0,18.0" fill="none" stroke="#f0ec20" stroke-width="2.3" stroke-linecap="round" stroke-linejoin="round" opacity="1"/><path d="M80.0,0.0 L92.0,6.0 L100.0,14.0" fill="none" stroke="#34c840" stroke-width="2.6" stroke-linecap="round" stroke-linejoin="round" opacity="0.7"/><path d="M72.0,12.0 L85.0,16.0 L98.0,24.0" fill="none" stroke="#f2ea14" stroke-width="5.0" stroke-linecap="round" stroke-linejoin="round" opacity="1"/><path d="M72.0,12.0 L85.0,16.0 L98.0,24.0" fill="none" stroke="#f03a0a" stroke-width="3.3" stroke-linecap="round" stroke-linejoin="round" opacity="1"/><path d="M72.0,25.0 L85.0,28.0 L98.0,35.0" fill="none" stroke="#f2ea14" stroke-width="5.0" stroke-linecap="round" stroke-linejoin="round" opacity="1"/><path d="M72.0,25.0 L85.0,28.0 L98.0,35.0" fill="none" stroke="#f03a0a" stroke-width="3.3" stroke-linecap="round" stroke-linejoin="round" opacity="1"/><path d="M72.0,36.0 L85.0,38.0 L98.0,43.0" fill="none" stroke="#f2ea14" stroke-width="4.8" stroke-linecap="round" stroke-linejoin="round" opacity="1"/><path d="M72.0,36.0 L85.0,38.0 L98.0,43.0" fill="none" stroke="#f03a0a" stroke-width="3.1" stroke-linecap="round" stroke-linejoin="round" opacity="1"/><path d="M73.0,19.0 L98.0,30.0" fill="none" stroke="#34c840" stroke-width="2.2" stroke-linecap="round" stroke-linejoin="round" opacity="0.7"/><path d="M92.0,2.0 L97.0,41.0" fill="none" stroke="#34c840" stroke-width="2.9" stroke-linecap="round" stroke-linejoin="round" opacity="0.7"/><path d="M88.0,4.0 L94.0,40.0" fill="none" stroke="#34c840" stroke-width="1.9" stroke-linecap="round" stroke-linejoin="round" opacity="0.7"/></g></g><rect x="0" y="43.9" width="116.5" height="1.8" fill="#d8b800"/><rect x="0" y="0" width="1" height="45.7" fill="#4a4a5a"/></g>
<g transform="translate(89.5,314.7)"><clipPath id="csp2"><rect x="0" y="0" width="145.2" height="56.7"/></clipPath><g clip-path="url(#csp2)"><rect x="0" y="0" width="145.2" height="56.7" fill="#0010f0"/><rect x="0" y="0" width="145.2" height="56.7" filter="url(#nz)"/><rect x="0" y="45.4" width="145.2" height="11.3" filter="url(#nzg)" opacity="0.6"/><rect x="28" y="0" width="43" height="52" filter="url(#nzv)" opacity="0.9"/><rect x="79" y="0" width="49" height="53" filter="url(#nzv)" opacity="0.9"/><g filter="url(#bl3)"><path d="M31.0,4.5 L40.0,5.2 L48.0,3.0 L58.0,4.0 L68.0,3.5" fill="none" stroke="#28c83c" stroke-width="6.8" stroke-linecap="round" stroke-linejoin="round" opacity="0.75"/><path d="M30.0,14.6 L45.0,14.0 L69.0,14.8" fill="none" stroke="#28c83c" stroke-width="10.5" stroke-linecap="round" stroke-linejoin="round" opacity="0.75"/><path d="M30.0,24.2 L48.0,23.5 L69.0,23.0" fill="none" stroke="#28c83c" stroke-width="11.6" stroke-linecap="round" stroke-linejoin="round" opacity="0.75"/><path d="M30.0,35.6 L48.0,35.2 L69.0,34.8" fill="none" stroke="#28c83c" stroke-width="11.6" stroke-linecap="round" stroke-linejoin="round" opacity="0.75"/><path d="M30.0,46.1 L69.0,46.1" fill="none" stroke="#28c83c" stroke-width="10.0" stroke-linecap="round" stroke-linejoin="round" opacity="0.75"/><path d="M80.5,5.8 L88.0,3.3 L95.5,3.8 L108.5,20.3" fill="none" stroke="#28c83c" stroke-width="8.0" stroke-linecap="round" stroke-linejoin="round" opacity="0.75"/><path d="M81.5,16.3 L90.5,13.3 L100.5,15.3 L107.5,23.3" fill="none" stroke="#28c83c" stroke-width="10.4" stroke-linecap="round" stroke-linejoin="round" opacity="0.75"/><path d="M81.5,25.3 L92.5,23.3 L105.5,30.3 L108.5,32.3" fill="none" stroke="#28c83c" stroke-width="10.4" stroke-linecap="round" stroke-linejoin="round" opacity="0.75"/><path d="M81.5,35.8 L95.5,36.3 L106.5,41.3" fill="none" stroke="#28c83c" stroke-width="10.4" stroke-linecap="round" stroke-linejoin="round" opacity="0.75"/><path d="M81.5,46.3 L95.0,47.5 L105.5,48.8" fill="none" stroke="#28c83c" stroke-width="9.5" stroke-linecap="round" stroke-linejoin="round" opacity="0.75"/><path d="M108.5,20.0 L125.5,30.0" fill="none" stroke="#28c83c" stroke-width="7.5" stroke-linecap="round" stroke-linejoin="round" opacity="0.75"/><path d="M108.5,28.0 L125.5,38.0" fill="none" stroke="#28c83c" stroke-width="7.5" stroke-linecap="round" stroke-linejoin="round" opacity="0.75"/><path d="M108.5,36.0 L125.5,45.0" fill="none" stroke="#28c83c" stroke-width="7.5" stroke-linecap="round" stroke-linejoin="round" opacity="0.75"/><path d="M108.5,44.0 L125.0,50.0" fill="none" stroke="#28c83c" stroke-width="6.4" stroke-linecap="round" stroke-linejoin="round" opacity="0.75"/><path d="M104.0,46.0 L107.0,52.0" fill="none" stroke="#28c83c" stroke-width="8.8" stroke-linecap="round" stroke-linejoin="round" opacity="0.75"/></g><g filter="url(#bl)"><path d="M31.0,4.5 L40.0,5.2 L48.0,3.0 L58.0,4.0 L68.0,3.5" fill="none" stroke="#f0ec20" stroke-width="3.2" stroke-linecap="round" stroke-linejoin="round" opacity="1"/><path d="M30.0,14.6 L45.0,14.0 L69.0,14.8" fill="none" stroke="#f2ea14" stroke-width="6.3" stroke-linecap="round" stroke-linejoin="round" opacity="1"/><path d="M30.0,14.6 L45.0,14.0 L69.0,14.8" fill="none" stroke="#f5880e" stroke-width="3.6" stroke-linecap="round" stroke-linejoin="round" opacity="1"/><path d="M30.0,24.2 L48.0,23.5 L69.0,23.0" fill="none" stroke="#f2ea14" stroke-width="7.4" stroke-linecap="round" stroke-linejoin="round" opacity="1"/><path d="M30.0,24.2 L48.0,23.5 L69.0,23.0" fill="none" stroke="#f03a0a" stroke-width="4.8" stroke-linecap="round" stroke-linejoin="round" opacity="1"/><path d="M30.0,35.6 L48.0,35.2 L69.0,34.8" fill="none" stroke="#f2ea14" stroke-width="7.4" stroke-linecap="round" stroke-linejoin="round" opacity="1"/><path d="M30.0,35.6 L48.0,35.2 L69.0,34.8" fill="none" stroke="#f03a0a" stroke-width="4.8" stroke-linecap="round" stroke-linejoin="round" opacity="1"/><path d="M30.0,46.1 L69.0,46.1" fill="none" stroke="#f2ea14" stroke-width="6.0" stroke-linecap="round" stroke-linejoin="round" opacity="1"/><path d="M30.0,46.1 L69.0,46.1" fill="none" stroke="#f5880e" stroke-width="3.4" stroke-linecap="round" stroke-linejoin="round" opacity="1"/><path d="M80.5,5.8 L88.0,3.3 L95.5,3.8 L108.5,20.3" fill="none" stroke="#f0ec20" stroke-width="3.8" stroke-linecap="round" stroke-linejoin="round" opacity="1"/><path d="M81.5,16.3 L90.5,13.3 L100.5,15.3 L107.5,23.3" fill="none" stroke="#f2ea14" stroke-width="6.6" stroke-linecap="round" stroke-linejoin="round" opacity="1"/><path d="M81.5,16.3 L90.5,13.3 L100.5,15.3 L107.5,23.3" fill="none" stroke="#f03a0a" stroke-width="4.4" stroke-linecap="round" stroke-linejoin="round" opacity="1"/><path d="M81.5,25.3 L92.5,23.3 L105.5,30.3 L108.5,32.3" fill="none" stroke="#f2ea14" stroke-width="6.6" stroke-linecap="round" stroke-linejoin="round" opacity="1"/><path d="M81.5,25.3 L92.5,23.3 L105.5,30.3 L108.5,32.3" fill="none" stroke="#f03a0a" stroke-width="4.4" stroke-linecap="round" stroke-linejoin="round" opacity="1"/><path d="M81.5,35.8 L95.5,36.3 L106.5,41.3" fill="none" stroke="#f2ea14" stroke-width="6.6" stroke-linecap="round" stroke-linejoin="round" opacity="1"/><path d="M81.5,35.8 L95.5,36.3 L106.5,41.3" fill="none" stroke="#f03a0a" stroke-width="4.4" stroke-linecap="round" stroke-linejoin="round" opacity="1"/><path d="M81.5,46.3 L95.0,47.5 L105.5,48.8" fill="none" stroke="#f2ea14" stroke-width="5.7" stroke-linecap="round" stroke-linejoin="round" opacity="1"/><path d="M81.5,46.3 L95.0,47.5 L105.5,48.8" fill="none" stroke="#f5880e" stroke-width="3.2" stroke-linecap="round" stroke-linejoin="round" opacity="1"/><path d="M108.5,20.0 L125.5,30.0" fill="none" stroke="#f2ea14" stroke-width="4.5" stroke-linecap="round" stroke-linejoin="round" opacity="1"/><path d="M108.5,20.0 L125.5,30.0" fill="none" stroke="#f5880e" stroke-width="2.5" stroke-linecap="round" stroke-linejoin="round" opacity="1"/><path d="M108.5,28.0 L125.5,38.0" fill="none" stroke="#f2ea14" stroke-width="4.5" stroke-linecap="round" stroke-linejoin="round" opacity="1"/><path d="M108.5,28.0 L125.5,38.0" fill="none" stroke="#f5880e" stroke-width="2.5" stroke-linecap="round" stroke-linejoin="round" opacity="1"/><path d="M108.5,36.0 L125.5,45.0" fill="none" stroke="#f2ea14" stroke-width="4.5" stroke-linecap="round" stroke-linejoin="round" opacity="1"/><path d="M108.5,36.0 L125.5,45.0" fill="none" stroke="#f5880e" stroke-width="2.5" stroke-linecap="round" stroke-linejoin="round" opacity="1"/><path d="M108.5,44.0 L125.0,50.0" fill="none" stroke="#f0ec20" stroke-width="3.0" stroke-linecap="round" stroke-linejoin="round" opacity="1"/><path d="M104.0,46.0 L107.0,52.0" fill="none" stroke="#f2ea14" stroke-width="5.6" stroke-linecap="round" stroke-linejoin="round" opacity="1"/><path d="M104.0,46.0 L107.0,52.0" fill="none" stroke="#f03a0a" stroke-width="3.7" stroke-linecap="round" stroke-linejoin="round" opacity="1"/></g></g><rect x="0" y="54.9" width="145.2" height="1.8" fill="#d8b800"/><rect x="0" y="0" width="1" height="56.7" fill="#9a9ab4"/></g>
<circle cx="589.2" cy="287.0" r="52.8" fill="none" stroke="#8fae92" stroke-width="1.2" stroke-dasharray="3.6 2.2"/>
<circle cx="590.5" cy="231.2" r="15.9" fill="#bebebe"/>
<circle cx="548.6" cy="257.7" r="15.9" fill="#bebebe"/>
<circle cx="627.9" cy="257.7" r="15.9" fill="#bebebe"/>
<circle cx="538.4" cy="301.2" r="15.9" fill="#bebebe"/>
<circle cx="640.2" cy="302.6" r="15.9" fill="#bebebe"/>
<circle cx="588.4" cy="336.3" r="35.7" fill="#bebebe"/>
<path d="M577.9,236.3 L577.9,232.6 L581.4,226.6 Q581.9,225.8 583.0,225.8 L601.0,225.8 Q602.4,225.8 602.4,227.3 L602.4,236.3 Z" fill="#3aa9d9"/>
<path d="M581.0,230.4 L582.6,227.4 L585.8,227.4 L585.8,230.4 Z" fill="#dde8ee"/>
<rect x="588.4" y="227.4" width="5.0" height="3.0" fill="#dde8ee"/>
<rect x="595.8" y="227.4" width="4.4" height="3.0" fill="#dde8ee"/>
<circle cx="583.6" cy="236.5" r="2.0" fill="#3aa9d9"/><circle cx="583.6" cy="236.5" r="0.85" fill="#bebebe"/>
<circle cx="597.6" cy="236.5" r="2.0" fill="#3aa9d9"/><circle cx="597.6" cy="236.5" r="0.85" fill="#bebebe"/>
<rect x="542.2" y="248.1" width="12.3" height="20.1" rx="1.6" fill="#3aa9d9"/>
<rect x="543.5" y="249.6" width="9.7" height="14.9" fill="#e6e6e6"/>
<circle cx="548.35" cy="266.2" r="0.9" fill="#e6e6e6"/>
<rect x="616.9" y="250.1" width="21.4" height="11.2" fill="#2f98c6"/>
<path d="M615.4,262.2 L640.2,262.2 L639.2,264.4 L616.4,264.4 Z" fill="#e6e6e6"/>
<path d="M530.2,298.8 L538.6,293.0 L547.0,298.8 L547.0,310.6 L530.2,310.6 Z" fill="#e6e6e6"/>
<rect x="535.8" y="304.2" width="5.6" height="6.4" fill="#d9d9d9"/>
<path d="M528.6,301.6 L538.6,292.4 L548.6,301.6" fill="none" stroke="#3aa9d9" stroke-width="2.4" stroke-linejoin="miter"/>
<path d="M534.4,299.4 Q538.6,296.0 542.8,299.4 M535.8,301.2 Q538.6,298.9 541.4,301.2 M537.1,302.8 Q538.6,301.7 540.1,302.8" fill="none" stroke="#3aa9d9" stroke-width="0.9"/><circle cx="538.6" cy="304.2" r="0.9" fill="#3aa9d9"/>
<path d="M640,310 L632.6,310 Q628.9,310 628.9,305.8 Q628.9,301.4 632.6,301.1 Q633.1,295.3 637,295.3 Q639.4,295.3 640.2,296.6 Z" fill="#2f98c6"/>
<path d="M640,296.8 Q641,296.2 643.4,296.2 Q647,296.2 647.4,300.6 Q651.1,301.5 651.1,305.6 Q651.1,310 647.4,310 L640,310 Z" fill="#3aa9d9"/>
<path d="M646.4,293.6 Q649.4,294 650.2,296.9 M646.6,291.6 Q651.2,292 652.2,296.3" fill="none" stroke="#e2e2e2" stroke-width="0.95"/>
<path d="M581.1,324.2 A8.3,8.5 0 0 1 597.7,324.2 L597.7,333.5" fill="none" stroke="#3aa9d9" stroke-width="4.3"/>
<rect x="573.6" y="332.7" width="31.3" height="25.2" rx="1" fill="#3aa9d9"/>
<circle cx="589.3" cy="342.2" r="5.0" fill="#e6e6e6"/><rect x="586.2" y="343" width="6.1" height="10.1" fill="#e6e6e6"/>
<text x="588.3" y="274.5" font-family="Liberation Serif, serif" font-weight="bold" font-size="10.2" text-anchor="middle" fill="#4874c6">Identity</text>
<text x="588.3" y="284.7" font-family="Liberation Serif, serif" font-weight="bold" font-size="10.2" text-anchor="middle" fill="#4874c6">Recognition</text>
<text x="-0.50" y="426.50" font-size="13.8" text-anchor="start" fill="#1a1a1a" >e</text>
<text x="230.50" y="428.60" font-size="13.9" text-anchor="middle" fill="#1a1a1a" >Speaking “Hello world”</text>
<line x1="37.5" y1="451.3" x2="228.5" y2="451.3" stroke="#e3898a" stroke-width="0.8" opacity="0.75"/>
<path d="M76.5,451.3 L77.2,447.6 L77.9,446.9 L78.6,446.4 L79.3,445.8 L80.0,445.5 L80.7,445.4 L81.4,445.6 L82.1,445.4 L82.8,445.3 L83.5,445.5 L84.2,445.2 L84.9,445.3 L85.6,445.0 L86.3,445.0 L87.0,444.8 L87.7,444.9 L88.4,445.0 L89.1,444.9 L89.8,445.0 L90.5,445.1 L91.2,444.8 L91.9,445.1 L92.6,445.1 L93.3,445.0 L94.0,445.0 L94.7,445.3 L95.4,445.2 L96.1,445.3 L96.8,445.4 L97.5,445.4 L98.2,445.5 L98.9,445.3 L99.6,445.5 L100.3,445.4 L101.0,445.3 L101.7,444.9 L102.4,444.2 L103.1,443.9 L103.8,443.6 L104.5,443.8 L105.2,443.6 L105.9,443.7 L106.6,443.5 L107.3,443.6 L108.0,443.5 L108.7,443.5 L109.4,443.6 L110.1,443.6 L110.8,443.7 L111.5,443.6 L112.2,443.7 L112.9,443.7 L113.6,443.7 L114.3,443.6 L115.0,443.3 L115.7,443.6 L116.4,443.7 L117.1,443.7 L117.8,443.7 L118.5,443.9 L119.2,443.8 L119.9,444.2 L120.6,444.3 L121.3,444.3 L122.0,444.3 L122.7,444.8 L123.4,445.0 L124.1,444.8 L124.8,445.4 L125.5,445.5 L126.2,445.7 L126.9,446.0 L127.6,446.4 L128.3,446.7 L129.0,446.7 L129.7,447.2 L130.4,447.3 L131.1,447.7 L131.8,447.9 L132.5,448.3 L133.2,448.5 L133.9,448.5 L134.6,448.8 L135.3,448.8 L136.0,448.9 L136.7,449.1 L137.4,449.1 L138.1,449.0 L138.8,448.6 L139.5,448.9 L140.2,449.1 L140.9,449.4 L141.6,449.9 L142.3,450.1 L143.0,450.5 L143.7,450.8 L144.4,451.1 L144.8,451.3 L144.8,451.3 L144.4,451.6 L143.7,452.1 L143.0,452.5 L142.3,453.0 L141.6,453.5 L140.9,454.1 L140.2,454.4 L139.5,454.9 L138.8,455.5 L138.1,455.5 L137.4,455.6 L136.7,455.8 L136.0,456.2 L135.3,456.3 L134.6,456.2 L133.9,456.5 L133.2,456.6 L132.5,456.9 L131.8,457.1 L131.1,457.4 L130.4,457.5 L129.7,457.9 L129.0,458.2 L128.3,458.4 L127.6,458.5 L126.9,458.8 L126.2,459.0 L125.5,459.5 L124.8,459.8 L124.1,459.6 L123.4,459.9 L122.7,460.4 L122.0,460.4 L121.3,460.9 L120.6,461.1 L119.9,461.1 L119.2,461.1 L118.5,461.3 L117.8,461.5 L117.1,461.6 L116.4,461.2 L115.7,461.4 L115.0,461.2 L114.3,461.5 L113.6,461.5 L112.9,461.6 L112.2,461.3 L111.5,461.4 L110.8,461.6 L110.1,461.6 L109.4,461.2 L108.7,461.6 L108.0,461.5 L107.3,461.2 L106.6,461.3 L105.9,461.7 L105.2,461.2 L104.5,461.5 L103.8,461.5 L103.1,461.2 L102.4,461.3 L101.7,461.2 L101.0,461.1 L100.3,461.1 L99.6,460.8 L98.9,460.8 L98.2,460.9 L97.5,460.4 L96.8,460.5 L96.1,460.7 L95.4,460.7 L94.7,460.2 L94.0,460.1 L93.3,460.3 L92.6,460.0 L91.9,460.1 L91.2,460.0 L90.5,460.2 L89.8,459.9 L89.1,459.9 L88.4,460.1 L87.7,459.8 L87.0,459.9 L86.3,460.0 L85.6,459.7 L84.9,459.7 L84.2,459.4 L83.5,459.7 L82.8,459.7 L82.1,459.2 L81.4,459.1 L80.7,458.8 L80.0,458.4 L79.3,458.3 L78.6,457.1 L77.9,455.9 L77.2,454.6 L76.5,451.3Z" fill="#e3898a" opacity="0.42"/>
<path d="M76.9,448.8V453.3M78.3,447.1V456.6M79.3,445.7V458.1M81.0,445.5V459.0M82.4,446.4V459.3M83.5,446.0V459.3M84.8,445.7V459.8M86.3,445.6V458.7M88.0,445.4V459.7M89.2,445.8V459.4M90.8,445.9V459.9M92.6,445.1V460.1M93.5,445.4V460.2M94.4,445.9V459.2M95.8,445.8V459.7M97.4,446.4V459.1M98.4,446.2V459.2M100.2,445.4V459.4M101.5,445.6V460.0M102.7,444.5V460.7M104.0,444.7V460.3M105.0,444.1V461.1M106.2,444.8V460.0M107.5,444.0V461.2M108.7,443.6V460.9M110.0,444.3V460.7M111.5,444.2V461.1M112.8,444.5V460.7M114.4,444.7V460.5M115.6,443.4V461.6M116.9,443.4V461.3M118.0,444.3V459.9M119.6,444.3V461.3M121.3,444.6V460.5M122.7,445.7V459.8M123.6,445.8V459.8M124.5,446.1V458.4M126.2,446.6V457.8M127.9,447.2V458.5M129.4,447.0V458.1M130.8,447.6V456.4M132.4,448.4V456.7M133.4,448.5V456.7M134.3,448.9V456.1M136.0,449.2V455.4M137.1,449.3V455.7M138.4,449.2V455.2M139.6,449.1V454.4M140.9,449.5V453.8M142.5,450.4V452.9" stroke="#e3898a" stroke-width="0.7" opacity="0.55" fill="none"/>
<path d="M76.5,451.3 L77.2,448.4 L77.9,447.6 L78.6,447.0 L79.3,446.9 L80.0,446.9 L80.7,446.6 L81.4,446.5 L82.1,446.6 L82.8,446.2 L83.5,446.2 L84.2,446.1 L84.9,446.3 L85.6,446.0 L86.3,445.9 L87.0,446.2 L87.7,446.3 L88.4,445.9 L89.1,446.2 L89.8,446.0 L90.5,446.3 L91.2,446.2 L91.9,446.0 L92.6,446.0 L93.3,445.9 L94.0,446.2 L94.7,446.2 L95.4,446.1 L96.1,446.2 L96.8,446.2 L97.5,446.5 L98.2,446.2 L98.9,446.7 L99.6,446.4 L100.3,446.5 L101.0,446.2 L101.7,446.2 L102.4,445.9 L103.1,445.4 L103.8,445.0 L104.5,445.2 L105.2,445.3 L105.9,444.9 L106.6,445.1 L107.3,445.3 L108.0,444.9 L108.7,444.7 L109.4,444.7 L110.1,445.1 L110.8,445.0 L111.5,445.3 L112.2,445.2 L112.9,444.7 L113.6,444.6 L114.3,444.7 L115.0,444.6 L115.7,445.0 L116.4,445.1 L117.1,445.2 L117.8,444.8 L118.5,445.4 L119.2,445.1 L119.9,445.3 L120.6,445.6 L121.3,445.3 L122.0,445.4 L122.7,446.0 L123.4,445.8 L124.1,446.0 L124.8,446.4 L125.5,446.7 L126.2,446.5 L126.9,446.9 L127.6,447.2 L128.3,447.4 L129.0,447.5 L129.7,447.9 L130.4,448.3 L131.1,448.3 L131.8,448.5 L132.5,448.6 L133.2,448.9 L133.9,449.1 L134.6,449.0 L135.3,449.3 L136.0,449.5 L136.7,449.4 L137.4,449.7 L138.1,449.5 L138.8,449.2 L139.5,449.4 L140.2,449.5 L140.9,449.9 L141.6,450.1 L142.3,450.4 L143.0,450.6 L143.7,450.9 L144.4,451.2 L144.8,451.3 L144.8,451.3 L144.4,451.5 L143.7,451.9 L143.0,452.4 L142.3,452.7 L141.6,453.0 L140.9,453.5 L140.2,454.0 L139.5,454.3 L138.8,454.7 L138.1,455.1 L137.4,454.9 L136.7,455.2 L136.0,455.2 L135.3,455.3 L134.6,455.4 L133.9,455.5 L133.2,455.5 L132.5,456.1 L131.8,455.9 L131.1,456.2 L130.4,456.5 L129.7,456.4 L129.0,457.0 L128.3,457.0 L127.6,456.9 L126.9,457.4 L126.2,457.7 L125.5,457.9 L124.8,458.2 L124.1,457.9 L123.4,458.1 L122.7,458.4 L122.0,459.3 L121.3,458.7 L120.6,459.5 L119.9,459.7 L119.2,459.5 L118.5,459.6 L117.8,459.9 L117.1,459.7 L116.4,460.0 L115.7,459.5 L115.0,459.3 L114.3,459.3 L113.6,459.4 L112.9,459.7 L112.2,459.9 L111.5,459.9 L110.8,459.4 L110.1,459.3 L109.4,460.0 L108.7,460.0 L108.0,459.9 L107.3,460.0 L106.6,459.2 L105.9,459.8 L105.2,459.3 L104.5,459.6 L103.8,459.7 L103.1,459.7 L102.4,459.6 L101.7,459.1 L101.0,459.6 L100.3,459.3 L99.6,459.7 L98.9,458.8 L98.2,459.2 L97.5,459.2 L96.8,459.1 L96.1,458.6 L95.4,458.8 L94.7,458.5 L94.0,458.5 L93.3,459.0 L92.6,458.9 L91.9,458.7 L91.2,458.5 L90.5,458.3 L89.8,458.4 L89.1,458.3 L88.4,458.2 L87.7,458.5 L87.0,458.6 L86.3,457.9 L85.6,458.6 L84.9,458.1 L84.2,457.8 L83.5,458.4 L82.8,458.0 L82.1,457.8 L81.4,458.0 L80.7,457.5 L80.0,457.2 L79.3,457.0 L78.6,456.2 L77.9,455.1 L77.2,454.2 L76.5,451.3Z" fill="#e3898a"/>
<path d="M171.5,451.3 L172.2,449.9 L172.9,449.1 L173.6,448.5 L174.3,447.9 L175.0,447.0 L175.7,446.9 L176.4,446.7 L177.1,446.3 L177.8,446.4 L178.5,446.1 L179.2,446.1 L179.9,445.8 L180.6,445.6 L181.3,445.3 L182.0,445.2 L182.7,445.1 L183.4,444.8 L184.1,444.4 L184.8,444.3 L185.5,444.0 L186.2,443.7 L186.9,443.6 L187.6,443.5 L188.3,443.5 L189.0,443.4 L189.7,443.4 L190.4,443.8 L191.1,444.1 L191.8,444.4 L192.5,444.8 L193.2,445.0 L193.9,445.3 L194.6,445.9 L195.3,446.2 L196.0,446.6 L196.7,447.3 L197.4,447.7 L198.1,448.1 L198.8,448.4 L199.5,448.5 L200.2,448.7 L200.9,448.7 L201.6,448.8 L202.3,448.9 L203.0,449.1 L203.7,449.1 L204.4,449.3 L205.1,449.3 L205.8,449.4 L206.5,449.5 L207.2,449.6 L207.9,449.6 L208.6,449.7 L209.3,449.8 L210.0,449.8 L210.7,449.9 L211.4,450.0 L212.1,450.1 L212.8,450.2 L213.5,450.3 L214.2,450.4 L214.9,450.4 L215.6,450.6 L216.3,450.6 L217.0,450.7 L217.7,450.9 L218.4,451.1 L219.0,451.3 L219.0,451.3 L218.4,451.7 L217.7,452.1 L217.0,452.3 L216.3,452.4 L215.6,452.5 L214.9,452.6 L214.2,452.7 L213.5,452.8 L212.8,453.0 L212.1,453.1 L211.4,453.1 L210.7,453.2 L210.0,453.4 L209.3,453.5 L208.6,453.7 L207.9,453.7 L207.2,453.9 L206.5,454.0 L205.8,454.2 L205.1,454.3 L204.4,454.6 L203.7,454.6 L203.0,454.8 L202.3,455.0 L201.6,455.1 L200.9,455.5 L200.2,455.6 L199.5,456.2 L198.8,456.6 L198.1,456.6 L197.4,457.1 L196.7,457.6 L196.0,458.0 L195.3,458.0 L194.6,458.1 L193.9,458.4 L193.2,458.7 L192.5,458.7 L191.8,459.2 L191.1,459.0 L190.4,459.1 L189.7,459.3 L189.0,459.2 L188.3,459.0 L187.6,458.9 L186.9,458.9 L186.2,458.7 L185.5,458.2 L184.8,457.9 L184.1,457.9 L183.4,457.9 L182.7,457.6 L182.0,457.4 L181.3,457.1 L180.6,457.1 L179.9,456.9 L179.2,456.6 L178.5,456.2 L177.8,456.1 L177.1,455.7 L176.4,455.6 L175.7,455.3 L175.0,455.2 L174.3,454.5 L173.6,453.9 L172.9,453.3 L172.2,452.7 L171.5,451.3Z" fill="#e3898a" opacity="0.42"/>
<path d="M171.9,450.5V452.1M172.9,449.5V453.3M174.4,447.7V454.5M175.7,446.8V455.2M176.9,447.0V455.0M178.1,446.1V455.4M179.5,446.7V455.8M181.0,446.2V456.2M182.1,445.4V457.1M183.0,445.6V457.8M184.1,444.9V457.3M185.7,444.4V458.2M187.1,444.8V457.7M188.0,443.7V457.7M188.9,443.4V457.9M190.7,445.0V458.6M191.8,444.4V458.7M193.2,445.2V458.7M194.4,446.0V457.8M195.4,446.4V457.7M197.1,447.9V456.9M198.4,448.4V455.8M199.6,448.8V455.3M201.0,448.8V455.0M202.5,449.1V454.4M203.7,449.1V454.3M205.0,449.7V454.0M206.0,449.4V454.1M207.7,449.6V453.7M209.5,449.9V453.3M211.2,450.0V453.2M212.6,450.2V452.8M214.4,450.4V452.5M216.1,450.7V452.2M217.6,450.9V452.1" stroke="#e3898a" stroke-width="0.7" opacity="0.55" fill="none"/>
<path d="M171.5,451.3 L172.2,450.2 L172.9,449.5 L173.6,449.0 L174.3,448.3 L175.0,447.9 L175.7,447.7 L176.4,447.3 L177.1,447.1 L177.8,447.1 L178.5,447.0 L179.2,446.6 L179.9,446.5 L180.6,446.7 L181.3,446.5 L182.0,446.5 L182.7,446.4 L183.4,446.1 L184.1,445.6 L184.8,445.2 L185.5,445.2 L186.2,445.2 L186.9,445.2 L187.6,445.1 L188.3,444.9 L189.0,445.2 L189.7,444.6 L190.4,445.1 L191.1,445.6 L191.8,445.8 L192.5,445.7 L193.2,446.0 L193.9,446.6 L194.6,446.5 L195.3,446.9 L196.0,447.5 L196.7,447.9 L197.4,448.2 L198.1,448.5 L198.8,448.8 L199.5,449.1 L200.2,449.1 L200.9,449.3 L201.6,449.4 L202.3,449.5 L203.0,449.4 L203.7,449.5 L204.4,449.5 L205.1,449.7 L205.8,449.7 L206.5,449.7 L207.2,449.9 L207.9,449.9 L208.6,450.0 L209.3,450.0 L210.0,450.2 L210.7,450.2 L211.4,450.2 L212.1,450.3 L212.8,450.4 L213.5,450.5 L214.2,450.6 L214.9,450.7 L215.6,450.7 L216.3,450.7 L217.0,450.8 L217.7,451.0 L218.4,451.1 L219.0,451.3 L219.0,451.3 L218.4,451.6 L217.7,452.0 L217.0,452.1 L216.3,452.2 L215.6,452.3 L214.9,452.3 L214.2,452.5 L213.5,452.6 L212.8,452.7 L212.1,452.7 L211.4,452.8 L210.7,452.8 L210.0,452.9 L209.3,453.2 L208.6,453.3 L207.9,453.3 L207.2,453.5 L206.5,453.7 L205.8,453.6 L205.1,453.9 L204.4,453.9 L203.7,453.9 L203.0,454.0 L202.3,454.3 L201.6,454.5 L200.9,454.6 L200.2,455.1 L199.5,455.0 L198.8,455.4 L198.1,456.0 L197.4,456.1 L196.7,456.4 L196.0,456.6 L195.3,457.3 L194.6,457.0 L193.9,456.9 L193.2,457.1 L192.5,457.3 L191.8,457.8 L191.1,457.8 L190.4,457.9 L189.7,458.0 L189.0,457.2 L188.3,457.6 L187.6,457.2 L186.9,457.4 L186.2,457.3 L185.5,457.1 L184.8,456.9 L184.1,456.4 L183.4,456.5 L182.7,456.7 L182.0,456.5 L181.3,456.2 L180.6,456.1 L179.9,455.8 L179.2,455.4 L178.5,455.2 L177.8,455.1 L177.1,455.0 L176.4,454.6 L175.7,454.5 L175.0,454.3 L174.3,454.1 L173.6,453.5 L172.9,453.0 L172.2,452.5 L171.5,451.3Z" fill="#e3898a"/>
<line x1="37.5" y1="481.1" x2="228.5" y2="481.1" stroke="#e2a457" stroke-width="0.8" opacity="0.75"/>
<path d="M79.5,481.1 L80.2,478.7 L80.9,478.5 L81.6,478.2 L82.3,478.1 L83.0,478.0 L83.7,477.6 L84.4,477.5 L85.1,477.4 L85.8,477.1 L86.5,477.1 L87.2,476.9 L87.9,476.8 L88.6,477.0 L89.3,476.7 L90.0,476.8 L90.7,476.5 L91.4,476.7 L92.1,476.5 L92.8,476.4 L93.5,476.2 L94.2,476.0 L94.9,476.1 L95.6,475.9 L96.3,475.8 L97.0,475.9 L97.7,475.8 L98.4,475.4 L99.1,475.6 L99.8,475.4 L100.5,475.2 L101.2,475.0 L101.9,475.0 L102.6,475.2 L103.3,475.0 L104.0,475.0 L104.7,475.1 L105.4,475.2 L106.1,475.3 L106.8,475.6 L107.5,475.3 L108.2,475.4 L108.9,475.8 L109.6,475.8 L110.3,475.4 L111.0,474.8 L111.7,474.5 L112.4,474.4 L113.1,473.8 L113.8,473.6 L114.5,473.0 L115.2,472.5 L115.9,472.4 L116.6,472.2 L117.3,472.0 L118.0,471.6 L118.7,471.3 L119.4,471.2 L120.1,470.9 L120.8,470.7 L121.5,470.7 L122.2,470.0 L122.9,470.1 L123.6,470.3 L124.3,470.2 L125.0,469.6 L125.7,470.1 L126.4,469.9 L127.1,469.4 L127.8,469.4 L128.5,469.3 L129.2,469.5 L129.9,470.4 L130.6,470.3 L131.3,470.9 L132.0,470.8 L132.7,471.0 L133.4,471.8 L134.1,472.1 L134.8,472.8 L135.5,473.5 L136.2,474.3 L136.9,475.2 L137.6,475.8 L138.3,476.8 L139.0,477.9 L139.7,479.2 L140.4,480.5 L141.0,481.1 L141.0,481.1 L140.4,482.0 L139.7,482.6 L139.0,483.2 L138.3,483.8 L137.6,484.5 L136.9,485.1 L136.2,485.5 L135.5,486.3 L134.8,486.7 L134.1,487.4 L133.4,488.0 L132.7,488.3 L132.0,488.7 L131.3,489.6 L130.6,489.6 L129.9,489.4 L129.2,489.7 L128.5,489.9 L127.8,489.7 L127.1,490.3 L126.4,490.1 L125.7,490.3 L125.0,489.9 L124.3,489.7 L123.6,489.5 L122.9,489.4 L122.2,489.2 L121.5,488.8 L120.8,488.8 L120.1,488.8 L119.4,488.5 L118.7,488.4 L118.0,488.4 L117.3,488.3 L116.6,488.0 L115.9,488.0 L115.2,488.0 L114.5,487.9 L113.8,487.6 L113.1,487.4 L112.4,487.4 L111.7,487.4 L111.0,487.3 L110.3,487.2 L109.6,487.2 L108.9,487.1 L108.2,486.9 L107.5,486.8 L106.8,486.9 L106.1,486.6 L105.4,486.7 L104.7,486.7 L104.0,486.6 L103.3,486.3 L102.6,486.4 L101.9,486.2 L101.2,486.3 L100.5,485.9 L99.8,485.8 L99.1,485.8 L98.4,485.8 L97.7,485.5 L97.0,485.4 L96.3,485.3 L95.6,485.0 L94.9,484.9 L94.2,484.9 L93.5,484.8 L92.8,484.7 L92.1,484.5 L91.4,484.6 L90.7,484.4 L90.0,484.4 L89.3,484.3 L88.6,484.2 L87.9,484.2 L87.2,484.1 L86.5,483.9 L85.8,484.0 L85.1,483.8 L84.4,483.7 L83.7,483.6 L83.0,483.6 L82.3,483.5 L81.6,483.5 L80.9,483.4 L80.2,483.3 L79.5,481.1Z" fill="#e2a457" opacity="0.42"/>
<path d="M79.9,479.3V482.6M81.7,478.4V483.1M83.0,478.0V483.7M83.9,478.3V483.5M85.2,477.3V483.9M86.4,477.4V483.8M88.1,477.5V483.9M89.1,477.0V483.8M90.8,476.9V484.3M91.8,477.1V484.3M93.5,476.6V484.4M95.3,476.2V484.8M96.3,476.5V485.3M97.4,476.1V485.3M98.6,475.6V485.7M100.3,475.4V485.3M101.2,475.7V485.6M102.3,475.0V485.7M103.9,475.1V485.7M105.6,475.9V486.0M106.7,476.4V486.4M108.0,475.5V486.9M108.9,476.1V486.5M110.0,476.1V486.4M111.5,475.3V486.4M112.6,474.7V487.1M113.7,473.8V486.8M115.2,473.2V486.9M116.8,472.8V487.6M118.2,472.0V487.6M119.2,471.3V488.4M120.5,471.4V487.8M122.2,470.6V488.2M123.9,469.6V488.9M125.7,470.6V489.0M127.2,470.8V489.8M128.6,471.3V489.2M130.3,471.1V489.0M132.0,471.8V488.3M133.4,471.7V486.9M134.4,472.3V486.6M135.6,473.4V486.1M136.9,475.0V485.0M138.5,477.5V483.2M140.0,479.9V482.2" stroke="#e2a457" stroke-width="0.7" opacity="0.55" fill="none"/>
<path d="M79.5,481.1 L80.2,479.3 L80.9,479.3 L81.6,479.1 L82.3,479.0 L83.0,478.8 L83.7,478.8 L84.4,478.6 L85.1,478.6 L85.8,478.3 L86.5,478.3 L87.2,478.1 L87.9,478.1 L88.6,478.2 L89.3,477.9 L90.0,477.8 L90.7,477.9 L91.4,477.8 L92.1,477.8 L92.8,477.6 L93.5,477.6 L94.2,477.7 L94.9,477.8 L95.6,477.7 L96.3,477.5 L97.0,477.3 L97.7,477.1 L98.4,477.1 L99.1,477.1 L99.8,477.3 L100.5,476.8 L101.2,477.2 L101.9,476.9 L102.6,476.8 L103.3,476.8 L104.0,477.2 L104.7,476.8 L105.4,477.1 L106.1,477.1 L106.8,477.0 L107.5,477.0 L108.2,477.5 L108.9,477.4 L109.6,477.4 L110.3,477.2 L111.0,476.6 L111.7,476.6 L112.4,476.4 L113.1,475.9 L113.8,475.8 L114.5,475.9 L115.2,475.2 L115.9,475.3 L116.6,474.5 L117.3,474.8 L118.0,474.3 L118.7,474.3 L119.4,474.0 L120.1,474.3 L120.8,474.1 L121.5,473.7 L122.2,473.7 L122.9,473.3 L123.6,473.7 L124.3,473.1 L125.0,473.3 L125.7,473.3 L126.4,473.0 L127.1,472.6 L127.8,472.7 L128.5,473.2 L129.2,472.9 L129.9,473.7 L130.6,473.6 L131.3,474.3 L132.0,474.4 L132.7,474.5 L133.4,474.4 L134.1,474.3 L134.8,475.2 L135.5,475.9 L136.2,476.6 L136.9,476.7 L137.6,477.3 L138.3,478.3 L139.0,478.9 L139.7,479.8 L140.4,480.7 L141.0,481.1 L141.0,481.1 L140.4,481.7 L139.7,482.2 L139.0,482.6 L138.3,483.0 L137.6,483.4 L136.9,484.0 L136.2,484.1 L135.5,484.4 L134.8,484.9 L134.1,485.6 L133.4,485.8 L132.7,486.5 L132.0,486.6 L131.3,486.6 L130.6,487.2 L129.9,487.1 L129.2,487.1 L128.5,487.5 L127.8,486.9 L127.1,487.5 L126.4,487.7 L125.7,487.1 L125.0,487.7 L124.3,487.3 L123.6,487.0 L122.9,486.9 L122.2,486.5 L121.5,486.9 L120.8,486.5 L120.1,486.1 L119.4,486.5 L118.7,486.2 L118.0,486.1 L117.3,486.0 L116.6,485.8 L115.9,485.8 L115.2,485.7 L114.5,485.6 L113.8,485.8 L113.1,485.6 L112.4,485.7 L111.7,485.6 L111.0,485.7 L110.3,485.6 L109.6,485.4 L108.9,485.2 L108.2,485.2 L107.5,485.1 L106.8,485.2 L106.1,485.3 L105.4,485.0 L104.7,485.1 L104.0,485.0 L103.3,484.7 L102.6,484.8 L101.9,484.8 L101.2,484.7 L100.5,484.5 L99.8,484.5 L99.1,484.2 L98.4,484.3 L97.7,484.1 L97.0,484.3 L96.3,483.8 L95.6,484.0 L94.9,483.8 L94.2,483.9 L93.5,483.8 L92.8,483.5 L92.1,483.6 L91.4,483.7 L90.7,483.4 L90.0,483.5 L89.3,483.3 L88.6,483.2 L87.9,483.3 L87.2,483.2 L86.5,483.1 L85.8,483.2 L85.1,483.1 L84.4,483.1 L83.7,482.8 L83.0,482.8 L82.3,482.9 L81.6,482.8 L80.9,482.7 L80.2,482.6 L79.5,481.1Z" fill="#e2a457"/>
<path d="M154.7,481.1 L155.4,478.5 L156.1,476.2 L156.8,475.1 L157.5,474.9 L158.2,474.1 L158.9,473.6 L159.6,473.4 L160.3,472.8 L161.0,472.6 L161.7,472.2 L162.4,472.0 L163.1,471.4 L163.8,471.5 L164.5,471.2 L165.2,471.6 L165.9,471.8 L166.6,472.6 L167.3,473.6 L168.0,474.1 L168.7,473.4 L169.4,473.1 L170.1,472.5 L170.8,471.9 L171.5,471.5 L172.2,471.1 L172.9,470.6 L173.6,470.5 L174.3,470.6 L175.0,470.1 L175.7,470.1 L176.4,469.7 L177.1,469.6 L177.8,469.6 L178.5,469.6 L179.2,469.7 L179.9,469.3 L180.6,469.0 L181.3,469.1 L182.0,468.8 L182.7,468.9 L183.4,469.1 L184.1,469.1 L184.8,468.9 L185.5,469.0 L186.2,469.1 L186.9,469.3 L187.6,469.7 L188.3,469.7 L189.0,470.2 L189.7,470.1 L190.4,470.9 L191.1,471.8 L191.8,472.5 L192.5,473.7 L193.2,474.6 L193.9,475.4 L194.6,475.8 L195.3,475.7 L196.0,475.7 L196.7,475.8 L197.4,475.8 L198.1,476.0 L198.8,476.1 L199.5,476.2 L200.2,476.1 L200.9,476.3 L201.6,476.3 L202.3,476.4 L203.0,476.6 L203.7,476.7 L204.4,476.8 L205.1,477.0 L205.8,477.2 L206.5,477.4 L207.2,477.5 L207.9,477.5 L208.6,477.8 L209.3,477.9 L210.0,478.1 L210.7,478.2 L211.4,478.2 L212.1,478.4 L212.8,478.5 L213.5,478.5 L214.2,478.6 L214.9,478.8 L215.6,478.8 L216.3,479.0 L217.0,479.1 L217.7,479.1 L218.4,479.2 L219.1,479.3 L219.8,479.5 L220.5,479.6 L221.2,479.7 L221.9,479.8 L222.6,480.0 L223.3,480.0 L224.0,480.1 L224.7,480.3 L225.4,480.4 L226.1,480.5 L226.8,480.6 L227.5,480.7 L227.7,480.8 L227.7,481.4 L227.5,481.4 L226.8,481.6 L226.1,481.7 L225.4,481.8 L224.7,481.9 L224.0,482.0 L223.3,482.1 L222.6,482.2 L221.9,482.4 L221.2,482.4 L220.5,482.6 L219.8,482.7 L219.1,482.8 L218.4,482.8 L217.7,483.0 L217.0,483.1 L216.3,483.2 L215.6,483.3 L214.9,483.5 L214.2,483.6 L213.5,483.6 L212.8,483.8 L212.1,483.8 L211.4,484.0 L210.7,484.0 L210.0,484.2 L209.3,484.3 L208.6,484.5 L207.9,484.7 L207.2,484.9 L206.5,485.1 L205.8,485.2 L205.1,485.5 L204.4,485.6 L203.7,485.8 L203.0,486.0 L202.3,486.0 L201.6,486.3 L200.9,486.5 L200.2,486.6 L199.5,486.6 L198.8,486.9 L198.1,487.1 L197.4,487.1 L196.7,487.1 L196.0,487.3 L195.3,487.3 L194.6,487.6 L193.9,487.8 L193.2,487.9 L192.5,488.1 L191.8,488.4 L191.1,489.0 L190.4,489.5 L189.7,489.9 L189.0,490.4 L188.3,490.7 L187.6,490.8 L186.9,491.8 L186.2,491.5 L185.5,491.7 L184.8,491.5 L184.1,491.2 L183.4,491.1 L182.7,491.2 L182.0,491.1 L181.3,490.7 L180.6,491.1 L179.9,490.7 L179.2,490.7 L178.5,490.3 L177.8,490.5 L177.1,490.0 L176.4,490.2 L175.7,490.1 L175.0,489.7 L174.3,490.0 L173.6,489.7 L172.9,489.7 L172.2,489.3 L171.5,489.0 L170.8,488.9 L170.1,488.8 L169.4,489.1 L168.7,488.9 L168.0,488.8 L167.3,488.7 L166.6,488.3 L165.9,488.2 L165.2,488.0 L164.5,487.9 L163.8,488.0 L163.1,487.7 L162.4,487.5 L161.7,487.1 L161.0,486.8 L160.3,486.6 L159.6,486.3 L158.9,486.0 L158.2,485.5 L157.5,485.4 L156.8,484.9 L156.1,484.6 L155.4,482.8 L154.7,481.1Z" fill="#e2a457" opacity="0.42"/>
<path d="M155.1,479.9V482.1M156.3,475.8V484.2M157.3,475.0V484.6M158.7,473.8V485.2M160.2,473.0V486.2M161.8,472.4V486.1M162.9,472.4V487.8M164.0,471.9V487.0M165.7,472.6V487.8M167.2,474.5V488.3M168.8,473.4V487.9M169.9,473.8V489.1M171.2,472.6V488.7M172.7,472.0V488.6M174.3,470.6V488.8M175.3,470.0V489.7M176.7,470.9V490.4M178.0,471.0V489.0M179.2,470.0V489.7M181.0,469.7V490.1M182.5,469.7V490.6M183.8,469.8V490.5M185.4,470.9V491.3M186.6,469.5V489.9M188.0,470.7V490.6M189.0,471.3V488.8M190.4,471.6V487.9M191.5,473.5V488.8M192.8,474.4V487.1M194.3,475.7V487.4M195.2,476.2V487.0M196.1,475.9V486.6M197.3,476.2V486.8M198.7,476.0V486.4M199.9,477.0V486.3M201.1,476.6V485.8M202.0,477.2V485.5M203.0,476.6V485.7M204.1,476.9V485.5M205.1,477.1V484.9M206.8,477.9V484.5M208.0,477.6V484.7M209.4,478.4V484.1M210.9,478.6V484.1M212.6,478.4V483.7M214.0,478.5V483.3M215.2,479.1V483.1M216.8,479.3V483.1M218.1,479.2V482.9M219.6,479.4V482.4M220.7,479.8V482.4M222.3,479.9V482.3M224.0,480.2V481.9M225.3,480.4V481.8M226.6,480.6V481.6" stroke="#e2a457" stroke-width="0.7" opacity="0.55" fill="none"/>
<path d="M154.7,481.1 L155.4,479.3 L156.1,477.6 L156.8,477.0 L157.5,476.9 L158.2,476.5 L158.9,476.0 L159.6,475.9 L160.3,475.6 L161.0,474.8 L161.7,475.1 L162.4,475.0 L163.1,474.9 L163.8,474.6 L164.5,474.1 L165.2,474.0 L165.9,474.9 L166.6,475.1 L167.3,476.0 L168.0,476.2 L168.7,476.0 L169.4,475.3 L170.1,474.9 L170.8,475.1 L171.5,474.6 L172.2,474.0 L172.9,474.0 L173.6,473.8 L174.3,473.8 L175.0,473.6 L175.7,473.2 L176.4,473.8 L177.1,473.5 L177.8,473.3 L178.5,472.7 L179.2,472.6 L179.9,473.1 L180.6,473.2 L181.3,472.9 L182.0,472.4 L182.7,472.9 L183.4,472.7 L184.1,472.5 L184.8,472.8 L185.5,472.8 L186.2,473.1 L186.9,473.3 L187.6,473.6 L188.3,472.8 L189.0,473.4 L189.7,473.9 L190.4,474.2 L191.1,474.7 L191.8,475.5 L192.5,475.6 L193.2,476.7 L193.9,477.2 L194.6,477.4 L195.3,477.3 L196.0,477.5 L196.7,477.3 L197.4,477.5 L198.1,477.4 L198.8,477.8 L199.5,477.8 L200.2,477.7 L200.9,477.8 L201.6,477.7 L202.3,477.9 L203.0,477.8 L203.7,478.2 L204.4,478.3 L205.1,478.4 L205.8,478.2 L206.5,478.6 L207.2,478.4 L207.9,478.7 L208.6,478.8 L209.3,478.7 L210.0,478.9 L210.7,479.1 L211.4,479.1 L212.1,479.1 L212.8,479.3 L213.5,479.3 L214.2,479.5 L214.9,479.4 L215.6,479.4 L216.3,479.7 L217.0,479.6 L217.7,479.7 L218.4,479.8 L219.1,479.8 L219.8,480.0 L220.5,480.1 L221.2,480.1 L221.9,480.2 L222.6,480.3 L223.3,480.4 L224.0,480.5 L224.7,480.5 L225.4,480.6 L226.1,480.7 L226.8,480.8 L227.5,480.9 L227.7,480.9 L227.7,481.3 L227.5,481.3 L226.8,481.4 L226.1,481.5 L225.4,481.6 L224.7,481.6 L224.0,481.7 L223.3,481.8 L222.6,481.9 L221.9,481.9 L221.2,482.0 L220.5,482.2 L219.8,482.3 L219.1,482.3 L218.4,482.4 L217.7,482.5 L217.0,482.4 L216.3,482.7 L215.6,482.6 L214.9,482.6 L214.2,482.9 L213.5,482.8 L212.8,483.0 L212.1,483.0 L211.4,483.1 L210.7,483.0 L210.0,483.2 L209.3,483.3 L208.6,483.6 L207.9,483.5 L207.2,483.9 L206.5,483.7 L205.8,484.1 L205.1,484.0 L204.4,484.3 L203.7,484.5 L203.0,484.6 L202.3,484.6 L201.6,484.8 L200.9,484.7 L200.2,484.7 L199.5,484.8 L198.8,485.3 L198.1,485.3 L197.4,485.0 L196.7,485.1 L196.0,485.6 L195.3,485.3 L194.6,485.5 L193.9,485.7 L193.2,485.5 L192.5,486.2 L191.8,486.3 L191.1,486.7 L190.4,487.1 L189.7,487.5 L189.0,487.5 L188.3,487.7 L187.6,487.9 L186.9,488.0 L186.2,488.3 L185.5,488.0 L184.8,487.9 L184.1,487.9 L183.4,487.9 L182.7,488.4 L182.0,488.5 L181.3,487.9 L180.6,488.2 L179.9,488.2 L179.2,487.9 L178.5,487.4 L177.8,487.5 L177.1,487.2 L176.4,487.8 L175.7,487.0 L175.0,487.4 L174.3,487.0 L173.6,487.2 L172.9,487.2 L172.2,486.9 L171.5,486.5 L170.8,486.8 L170.1,486.9 L169.4,486.6 L168.7,486.7 L168.0,486.2 L167.3,486.4 L166.6,486.2 L165.9,486.0 L165.2,486.3 L164.5,486.1 L163.8,485.9 L163.1,485.6 L162.4,485.7 L161.7,485.1 L161.0,484.9 L160.3,484.9 L159.6,484.5 L158.9,484.6 L158.2,484.2 L157.5,484.2 L156.8,483.9 L156.1,483.4 L155.4,482.3 L154.7,481.1Z" fill="#e2a457"/>
<line x1="37.5" y1="510.4" x2="228.5" y2="510.4" stroke="#e0c66a" stroke-width="0.8" opacity="0.75"/>
<path d="M73.0,510.4 L73.7,507.8 L74.4,507.2 L75.1,506.6 L75.8,506.0 L76.5,505.7 L77.2,505.6 L77.9,505.6 L78.6,505.4 L79.3,505.4 L80.0,505.4 L80.7,505.1 L81.4,505.2 L82.1,505.0 L82.8,505.2 L83.5,505.1 L84.2,505.2 L84.9,505.2 L85.6,505.1 L86.3,505.3 L87.0,505.4 L87.7,505.4 L88.4,505.5 L89.1,505.6 L89.8,505.6 L90.5,505.7 L91.2,505.5 L91.9,505.8 L92.6,505.8 L93.3,506.0 L94.0,505.8 L94.7,505.9 L95.4,506.2 L96.1,506.1 L96.8,506.2 L97.5,506.3 L98.2,506.3 L98.9,506.4 L99.6,506.5 L100.3,506.7 L101.0,506.6 L101.7,506.8 L102.4,506.7 L103.1,506.9 L103.8,506.9 L104.5,507.0 L105.2,507.1 L105.9,507.1 L106.6,507.3 L107.3,507.3 L108.0,507.3 L108.7,507.5 L109.4,507.6 L110.1,507.8 L110.8,508.0 L111.5,508.2 L112.2,508.3 L112.9,508.4 L113.6,508.5 L114.3,508.9 L115.0,509.3 L115.7,509.8 L116.4,510.2 L116.8,510.4 L116.8,510.4 L116.4,510.7 L115.7,511.2 L115.0,511.7 L114.3,512.3 L113.6,512.6 L112.9,512.7 L112.2,512.8 L111.5,512.9 L110.8,512.8 L110.1,513.0 L109.4,513.0 L108.7,513.1 L108.0,513.1 L107.3,513.1 L106.6,513.3 L105.9,513.3 L105.2,513.5 L104.5,513.4 L103.8,513.6 L103.1,513.5 L102.4,513.5 L101.7,513.7 L101.0,513.6 L100.3,513.7 L99.6,513.8 L98.9,513.7 L98.2,513.8 L97.5,513.9 L96.8,513.8 L96.1,513.9 L95.4,513.9 L94.7,514.0 L94.0,514.0 L93.3,514.1 L92.6,514.1 L91.9,514.1 L91.2,514.2 L90.5,514.2 L89.8,514.3 L89.1,514.4 L88.4,514.4 L87.7,514.5 L87.0,514.6 L86.3,514.5 L85.6,514.7 L84.9,514.8 L84.2,514.7 L83.5,514.4 L82.8,514.6 L82.1,514.4 L81.4,514.2 L80.7,514.0 L80.0,514.1 L79.3,513.9 L78.6,513.8 L77.9,513.7 L77.2,513.7 L76.5,513.6 L75.8,513.4 L75.1,513.2 L74.4,512.8 L73.7,512.6 L73.0,510.4Z" fill="#e0c66a" opacity="0.42"/>
<path d="M73.4,508.4V511.9M74.7,506.9V512.7M75.8,506.0V513.1M77.5,505.7V513.3M78.7,506.2V513.9M80.0,505.8V513.5M81.1,505.0V513.6M82.5,505.3V514.1M83.8,505.6V514.0M85.5,505.2V514.4M86.6,505.2V514.0M87.7,505.6V514.5M89.1,506.2V514.5M90.1,506.1V514.4M91.7,505.8V513.6M93.4,506.3V513.4M95.0,505.9V513.4M96.3,506.1V513.5M97.5,506.3V513.6M99.3,506.4V513.8M100.8,507.1V513.6M102.2,507.0V513.4M103.4,507.3V513.6M104.6,507.5V513.5M106.0,507.3V513.0M107.0,507.6V513.2M108.2,507.4V512.8M109.9,508.1V512.8M110.9,508.3V512.7M112.1,508.4V512.5M113.3,508.7V512.7M114.3,509.0V512.2M115.7,509.8V511.2" stroke="#e0c66a" stroke-width="0.7" opacity="0.55" fill="none"/>
<path d="M73.0,510.4 L73.7,508.3 L74.4,507.9 L75.1,507.6 L75.8,506.8 L76.5,506.6 L77.2,506.8 L77.9,506.5 L78.6,506.6 L79.3,506.3 L80.0,506.4 L80.7,506.5 L81.4,506.2 L82.1,506.1 L82.8,506.3 L83.5,506.4 L84.2,506.1 L84.9,506.2 L85.6,506.3 L86.3,506.4 L87.0,506.4 L87.7,506.6 L88.4,506.4 L89.1,506.8 L89.8,506.6 L90.5,506.5 L91.2,506.5 L91.9,506.6 L92.6,506.7 L93.3,507.0 L94.0,506.9 L94.7,507.0 L95.4,507.2 L96.1,507.3 L96.8,507.2 L97.5,507.1 L98.2,507.2 L98.9,507.3 L99.6,507.3 L100.3,507.3 L101.0,507.4 L101.7,507.4 L102.4,507.7 L103.1,507.7 L103.8,507.7 L104.5,507.7 L105.2,507.8 L105.9,507.9 L106.6,507.8 L107.3,508.1 L108.0,508.0 L108.7,508.1 L109.4,508.4 L110.1,508.5 L110.8,508.5 L111.5,508.5 L112.2,508.7 L112.9,508.9 L113.6,509.0 L114.3,509.2 L115.0,509.6 L115.7,509.9 L116.4,510.2 L116.8,510.4 L116.8,510.4 L116.4,510.6 L115.7,511.0 L115.0,511.4 L114.3,511.8 L113.6,512.0 L112.9,512.1 L112.2,512.2 L111.5,512.3 L110.8,512.2 L110.1,512.3 L109.4,512.4 L108.7,512.4 L108.0,512.4 L107.3,512.7 L106.6,512.7 L105.9,512.6 L105.2,512.9 L104.5,512.6 L103.8,512.7 L103.1,512.9 L102.4,512.8 L101.7,513.0 L101.0,512.9 L100.3,513.0 L99.6,513.1 L98.9,513.1 L98.2,513.1 L97.5,513.1 L96.8,513.1 L96.1,513.2 L95.4,513.3 L94.7,513.2 L94.0,513.1 L93.3,513.3 L92.6,513.4 L91.9,513.3 L91.2,513.4 L90.5,513.6 L89.8,513.4 L89.1,513.5 L88.4,513.6 L87.7,513.5 L87.0,513.6 L86.3,513.5 L85.6,513.6 L84.9,513.7 L84.2,513.7 L83.5,513.8 L82.8,513.5 L82.1,513.5 L81.4,513.5 L80.7,513.4 L80.0,513.3 L79.3,513.1 L78.6,512.9 L77.9,512.8 L77.2,512.9 L76.5,513.0 L75.8,512.8 L75.1,512.6 L74.4,512.3 L73.7,512.0 L73.0,510.4Z" fill="#e0c66a"/>
<path d="M181.0,510.4 L181.7,509.8 L182.4,509.5 L183.1,509.4 L183.8,509.3 L184.5,509.2 L185.2,509.1 L185.9,509.0 L186.6,508.9 L187.3,508.9 L188.0,508.7 L188.7,508.6 L189.4,508.4 L190.1,508.4 L190.8,508.2 L191.5,508.1 L192.2,507.9 L192.9,507.9 L193.6,507.7 L194.3,507.7 L195.0,507.8 L195.7,507.8 L196.4,507.8 L197.1,507.8 L197.8,507.9 L198.5,507.8 L199.2,507.9 L199.9,508.0 L200.6,508.0 L201.3,508.1 L202.0,508.4 L202.7,508.4 L203.4,508.6 L204.1,508.7 L204.8,508.8 L205.5,508.9 L206.2,509.0 L206.9,509.1 L207.6,509.3 L208.3,509.3 L209.0,509.5 L209.7,509.6 L210.4,509.7 L211.1,509.8 L211.8,509.9 L212.5,510.0 L213.0,510.1 L213.0,510.7 L212.5,510.8 L211.8,510.9 L211.1,511.0 L210.4,511.1 L209.7,511.2 L209.0,511.3 L208.3,511.4 L207.6,511.5 L206.9,511.6 L206.2,511.6 L205.5,511.8 L204.8,511.9 L204.1,512.0 L203.4,512.0 L202.7,512.2 L202.0,512.2 L201.3,512.4 L200.6,512.6 L199.9,512.6 L199.2,512.6 L198.5,512.6 L197.8,512.6 L197.1,512.8 L196.4,512.8 L195.7,512.9 L195.0,512.9 L194.3,512.9 L193.6,512.8 L192.9,512.8 L192.2,512.6 L191.5,512.5 L190.8,512.4 L190.1,512.3 L189.4,512.2 L188.7,512.1 L188.0,511.9 L187.3,511.9 L186.6,511.8 L185.9,511.7 L185.2,511.6 L184.5,511.6 L183.8,511.5 L183.1,511.3 L182.4,511.3 L181.7,511.0 L181.0,510.4Z" fill="#e0c66a" opacity="0.42"/>
<path d="M183.1,509.6V511.3M184.1,509.2V511.4M185.6,509.1V511.5M187.3,509.0V511.8M188.6,508.7V511.9M189.7,508.7V512.2M191.0,508.5V512.2M192.5,508.2V512.6M194.1,507.8V512.9M195.3,507.7V512.9M196.7,508.3V512.4M198.2,507.9V512.6M199.6,508.1V512.3M201.0,508.1V512.2M202.5,508.4V512.2M203.7,508.8V512.0M205.4,508.9V511.7M207.0,509.2V511.4M208.6,509.5V511.2M209.5,509.6V511.2M210.4,509.8V511.0M211.5,509.9V510.9" stroke="#e0c66a" stroke-width="0.7" opacity="0.55" fill="none"/>
<path d="M181.0,510.4 L181.7,509.9 L182.4,509.7 L183.1,509.6 L183.8,509.5 L184.5,509.5 L185.2,509.4 L185.9,509.3 L186.6,509.3 L187.3,509.2 L188.0,509.1 L188.7,508.9 L189.4,508.9 L190.1,508.9 L190.8,508.6 L191.5,508.7 L192.2,508.5 L192.9,508.6 L193.6,508.4 L194.3,508.2 L195.0,508.3 L195.7,508.5 L196.4,508.5 L197.1,508.5 L197.8,508.5 L198.5,508.5 L199.2,508.6 L199.9,508.6 L200.6,508.7 L201.3,508.7 L202.0,508.9 L202.7,509.0 L203.4,509.0 L204.1,509.0 L204.8,509.1 L205.5,509.3 L206.2,509.3 L206.9,509.5 L207.6,509.5 L208.3,509.6 L209.0,509.6 L209.7,509.8 L210.4,509.9 L211.1,510.0 L211.8,510.0 L212.5,510.1 L213.0,510.2 L213.0,510.7 L212.5,510.7 L211.8,510.8 L211.1,510.9 L210.4,510.9 L209.7,511.0 L209.0,511.0 L208.3,511.2 L207.6,511.2 L206.9,511.4 L206.2,511.4 L205.5,511.5 L204.8,511.5 L204.1,511.7 L203.4,511.7 L202.7,511.8 L202.0,511.9 L201.3,512.0 L200.6,512.1 L199.9,512.1 L199.2,512.1 L198.5,512.1 L197.8,512.2 L197.1,512.1 L196.4,512.3 L195.7,512.3 L195.0,512.2 L194.3,512.4 L193.6,512.4 L192.9,512.2 L192.2,512.0 L191.5,512.0 L190.8,511.9 L190.1,511.8 L189.4,511.8 L188.7,511.7 L188.0,511.6 L187.3,511.6 L186.6,511.4 L185.9,511.4 L185.2,511.3 L184.5,511.3 L183.8,511.2 L183.1,511.2 L182.4,511.1 L181.7,510.9 L181.0,510.4Z" fill="#e0c66a"/>
<line x1="37.5" y1="540.0" x2="228.5" y2="540.0" stroke="#a7b050" stroke-width="0.8" opacity="0.75"/>
<path d="M72.6,540.0 L73.3,531.8 L74.0,531.8 L74.7,531.4 L75.4,530.9 L76.1,530.9 L76.8,531.0 L77.5,530.8 L78.2,530.3 L78.9,530.0 L79.6,530.0 L80.3,530.1 L81.0,529.7 L81.7,530.0 L82.4,529.4 L83.1,529.6 L83.8,529.5 L84.5,529.2 L85.2,529.4 L85.9,529.5 L86.6,529.3 L87.3,529.4 L88.0,529.5 L88.7,529.7 L89.4,529.3 L90.1,529.2 L90.8,529.4 L91.5,529.5 L92.2,529.4 L92.9,529.7 L93.6,529.2 L94.3,529.4 L95.0,529.4 L95.7,529.2 L96.4,529.4 L97.1,529.4 L97.8,529.3 L98.5,529.6 L99.2,529.7 L99.9,529.7 L100.6,529.2 L101.3,529.3 L102.0,529.7 L102.7,529.1 L103.4,529.1 L104.1,529.1 L104.8,529.7 L105.5,529.4 L106.2,529.4 L106.9,529.1 L107.6,529.7 L108.3,529.7 L109.0,529.7 L109.7,530.1 L110.4,530.1 L111.1,530.1 L111.8,530.3 L112.5,530.6 L113.2,530.7 L113.9,531.1 L114.6,531.1 L115.3,531.4 L116.0,532.0 L116.7,532.2 L117.4,532.4 L118.1,532.4 L118.8,532.7 L119.5,532.9 L120.2,533.3 L120.9,533.2 L121.6,533.5 L122.3,533.6 L123.0,533.9 L123.7,533.9 L124.4,533.9 L125.1,534.2 L125.8,534.5 L126.5,534.4 L127.2,534.7 L127.9,534.7 L128.6,534.9 L129.3,535.2 L130.0,535.2 L130.7,535.5 L131.4,535.7 L132.1,535.8 L132.8,536.0 L133.5,536.2 L134.2,536.3 L134.9,536.6 L135.6,536.8 L136.3,537.0 L137.0,537.2 L137.7,537.5 L138.4,537.7 L139.1,537.9 L139.8,538.1 L140.5,538.3 L141.2,538.6 L141.9,538.8 L142.6,539.0 L143.3,539.2 L144.0,539.4 L144.7,539.7 L145.4,539.9 L145.8,540.0 L145.8,540.0 L145.4,540.1 L144.7,540.4 L144.0,540.6 L143.3,540.8 L142.6,541.1 L141.9,541.3 L141.2,541.5 L140.5,541.8 L139.8,542.0 L139.1,542.2 L138.4,542.4 L137.7,542.6 L137.0,543.0 L136.3,543.2 L135.6,543.5 L134.9,543.5 L134.2,543.8 L133.5,544.2 L132.8,544.2 L132.1,544.7 L131.4,544.7 L130.7,545.0 L130.0,545.3 L129.3,545.4 L128.6,545.8 L127.9,545.9 L127.2,546.2 L126.5,546.2 L125.8,546.5 L125.1,546.8 L124.4,547.1 L123.7,547.3 L123.0,547.3 L122.3,547.5 L121.6,547.9 L120.9,547.9 L120.2,548.1 L119.5,548.4 L118.8,548.6 L118.1,548.8 L117.4,549.2 L116.7,549.6 L116.0,549.8 L115.3,549.8 L114.6,550.0 L113.9,550.5 L113.2,550.7 L112.5,550.9 L111.8,551.3 L111.1,551.5 L110.4,551.5 L109.7,551.6 L109.0,551.8 L108.3,552.6 L107.6,552.2 L106.9,552.6 L106.2,553.0 L105.5,553.0 L104.8,553.8 L104.1,554.1 L103.4,553.9 L102.7,553.9 L102.0,553.6 L101.3,554.0 L100.6,553.4 L99.9,553.5 L99.2,553.9 L98.5,553.2 L97.8,553.2 L97.1,553.3 L96.4,553.9 L95.7,553.4 L95.0,553.6 L94.3,553.4 L93.6,553.3 L92.9,553.7 L92.2,553.5 L91.5,553.3 L90.8,553.2 L90.1,553.3 L89.4,553.5 L88.7,553.0 L88.0,553.0 L87.3,553.1 L86.6,553.4 L85.9,553.3 L85.2,553.3 L84.5,553.2 L83.8,553.1 L83.1,552.9 L82.4,552.8 L81.7,552.6 L81.0,552.0 L80.3,552.5 L79.6,552.0 L78.9,551.9 L78.2,551.4 L77.5,551.4 L76.8,550.4 L76.1,550.0 L75.4,549.5 L74.7,549.2 L74.0,548.6 L73.3,548.3 L72.6,540.0Z" fill="#a7b050" opacity="0.42"/>
<path d="M73.0,531.9V547.2M74.3,532.0V548.1M75.8,532.4V548.6M76.8,531.6V550.7M78.2,530.8V551.9M79.9,531.2V550.5M81.2,531.1V551.7M82.2,530.6V552.2M83.3,530.9V552.5M84.4,529.3V552.4M86.1,530.1V552.3M87.2,531.1V553.6M88.3,531.1V553.6M89.7,530.0V553.6M91.3,530.7V551.9M92.8,529.8V551.7M93.9,530.2V551.3M95.5,529.8V551.6M96.9,530.0V551.4M98.2,529.5V552.5M99.8,530.8V554.0M101.3,530.0V551.3M102.5,531.3V552.5M103.6,530.7V552.2M104.6,530.6V552.7M105.6,530.0V553.6M107.2,529.2V550.8M108.7,530.8V552.4M110.0,530.2V551.6M111.0,531.7V551.3M112.7,531.5V549.0M113.6,531.1V550.2M114.8,531.7V550.0M115.7,531.9V550.0M117.4,532.2V548.4M118.9,533.8V548.6M120.3,533.8V546.9M121.4,534.0V548.0M122.7,533.7V546.5M123.9,534.7V546.3M125.5,534.9V545.9M127.0,535.1V546.2M128.5,535.0V545.2M129.8,535.7V545.5M131.5,535.9V544.4M132.5,535.9V544.2M133.8,536.7V543.7M135.3,537.1V543.1M136.7,537.3V542.5M137.6,537.7V542.7M138.9,538.2V542.0M139.9,538.2V541.7M141.7,538.9V541.2M142.6,539.1V541.0M144.2,539.5V540.5" stroke="#a7b050" stroke-width="0.7" opacity="0.55" fill="none"/>
<path d="M72.6,540.0 L73.3,533.0 L74.0,532.9 L74.7,532.4 L75.4,532.2 L76.1,531.8 L76.8,532.2 L77.5,532.2 L78.2,531.4 L78.9,531.4 L79.6,531.8 L80.3,531.7 L81.0,530.9 L81.7,531.8 L82.4,531.4 L83.1,531.3 L83.8,530.8 L84.5,531.5 L85.2,530.9 L85.9,531.1 L86.6,531.5 L87.3,531.4 L88.0,530.6 L88.7,530.5 L89.4,530.6 L90.1,530.5 L90.8,531.4 L91.5,531.0 L92.2,530.9 L92.9,530.8 L93.6,531.0 L94.3,530.9 L95.0,531.2 L95.7,530.9 L96.4,531.4 L97.1,531.4 L97.8,531.4 L98.5,531.3 L99.2,530.6 L99.9,530.9 L100.6,531.4 L101.3,530.8 L102.0,531.1 L102.7,530.6 L103.4,531.3 L104.1,530.8 L104.8,530.8 L105.5,531.3 L106.2,530.5 L106.9,530.4 L107.6,530.9 L108.3,530.9 L109.0,530.7 L109.7,531.2 L110.4,531.8 L111.1,532.1 L111.8,532.3 L112.5,532.4 L113.2,531.8 L113.9,532.3 L114.6,532.6 L115.3,532.4 L116.0,533.3 L116.7,533.0 L117.4,533.6 L118.1,533.7 L118.8,533.6 L119.5,533.8 L120.2,534.1 L120.9,534.1 L121.6,534.1 L122.3,534.5 L123.0,534.5 L123.7,534.7 L124.4,535.1 L125.1,535.2 L125.8,535.2 L126.5,535.1 L127.2,535.6 L127.9,535.5 L128.6,535.5 L129.3,536.0 L130.0,536.2 L130.7,536.0 L131.4,536.3 L132.1,536.6 L132.8,536.6 L133.5,536.6 L134.2,536.7 L134.9,536.9 L135.6,537.4 L136.3,537.6 L137.0,537.5 L137.7,537.9 L138.4,537.9 L139.1,538.3 L139.8,538.4 L140.5,538.6 L141.2,538.8 L141.9,538.9 L142.6,539.1 L143.3,539.3 L144.0,539.5 L144.7,539.7 L145.4,539.9 L145.8,540.0 L145.8,540.0 L145.4,540.1 L144.7,540.3 L144.0,540.5 L143.3,540.7 L142.6,541.0 L141.9,541.1 L141.2,541.2 L140.5,541.6 L139.8,541.8 L139.1,542.0 L138.4,542.0 L137.7,542.3 L137.0,542.5 L136.3,542.6 L135.6,542.9 L134.9,543.0 L134.2,543.5 L133.5,543.5 L132.8,543.8 L132.1,543.8 L131.4,543.9 L130.7,544.6 L130.0,544.8 L129.3,544.8 L128.6,545.0 L127.9,545.0 L127.2,545.4 L126.5,545.4 L125.8,545.3 L125.1,545.5 L124.4,546.0 L123.7,546.4 L123.0,546.4 L122.3,546.2 L121.6,546.8 L120.9,546.6 L120.2,547.5 L119.5,547.4 L118.8,547.4 L118.1,548.0 L117.4,548.2 L116.7,547.9 L116.0,547.8 L115.3,548.5 L114.6,548.8 L113.9,548.4 L113.2,549.1 L112.5,548.7 L111.8,549.2 L111.1,550.0 L110.4,549.3 L109.7,550.5 L109.0,549.8 L108.3,550.3 L107.6,551.0 L106.9,550.6 L106.2,551.1 L105.5,550.8 L104.8,552.1 L104.1,551.9 L103.4,552.0 L102.7,552.1 L102.0,551.9 L101.3,550.9 L100.6,551.6 L99.9,551.7 L99.2,552.3 L98.5,550.9 L97.8,552.2 L97.1,551.9 L96.4,551.1 L95.7,551.4 L95.0,551.7 L94.3,552.2 L93.6,551.3 L92.9,551.9 L92.2,551.7 L91.5,550.8 L90.8,551.8 L90.1,551.6 L89.4,551.5 L88.7,551.6 L88.0,551.5 L87.3,551.3 L86.6,550.7 L85.9,550.9 L85.2,551.8 L84.5,551.2 L83.8,551.0 L83.1,551.2 L82.4,550.5 L81.7,550.5 L81.0,550.5 L80.3,550.4 L79.6,550.7 L78.9,549.8 L78.2,550.0 L77.5,549.6 L76.8,548.7 L76.1,548.7 L75.4,548.5 L74.7,547.6 L74.0,547.0 L73.3,546.9 L72.6,540.0Z" fill="#a7b050"/>
<path d="M166.6,540.0 L167.3,536.0 L168.0,535.6 L168.7,535.2 L169.4,534.6 L170.1,534.5 L170.8,534.0 L171.5,533.4 L172.2,533.3 L172.9,532.9 L173.6,533.1 L174.3,532.6 L175.0,532.5 L175.7,532.6 L176.4,532.5 L177.1,532.4 L177.8,532.4 L178.5,531.9 L179.2,532.1 L179.9,531.8 L180.6,532.0 L181.3,531.8 L182.0,531.7 L182.7,531.4 L183.4,531.7 L184.1,531.4 L184.8,531.3 L185.5,531.3 L186.2,531.4 L186.9,531.1 L187.6,531.2 L188.3,531.2 L189.0,531.1 L189.7,531.2 L190.4,531.4 L191.1,531.7 L191.8,531.8 L192.5,531.7 L193.2,532.0 L193.9,532.2 L194.6,532.3 L195.3,532.1 L196.0,532.2 L196.7,532.8 L197.4,532.8 L198.1,532.8 L198.8,533.2 L199.5,533.3 L200.2,533.5 L200.9,533.5 L201.6,533.8 L202.3,533.9 L203.0,534.0 L203.7,534.1 L204.4,534.4 L205.1,534.5 L205.8,534.5 L206.5,534.5 L207.2,534.7 L207.9,535.0 L208.6,534.9 L209.3,535.0 L210.0,535.3 L210.7,536.9 L211.4,539.3 L211.6,540.0 L211.6,540.0 L211.4,540.5 L210.7,542.3 L210.0,543.6 L209.3,543.7 L208.6,543.9 L207.9,544.1 L207.2,544.1 L206.5,544.2 L205.8,544.4 L205.1,544.6 L204.4,544.8 L203.7,544.7 L203.0,545.0 L202.3,545.2 L201.6,545.3 L200.9,545.3 L200.2,545.6 L199.5,545.5 L198.8,545.8 L198.1,545.9 L197.4,546.2 L196.7,546.2 L196.0,546.4 L195.3,546.5 L194.6,546.8 L193.9,547.0 L193.2,546.9 L192.5,547.1 L191.8,547.5 L191.1,547.5 L190.4,547.8 L189.7,548.0 L189.0,547.7 L188.3,548.2 L187.6,548.0 L186.9,548.2 L186.2,548.1 L185.5,548.0 L184.8,548.2 L184.1,548.2 L183.4,548.3 L182.7,548.4 L182.0,548.2 L181.3,548.6 L180.6,548.2 L179.9,548.5 L179.2,548.2 L178.5,547.9 L177.8,547.8 L177.1,547.7 L176.4,547.7 L175.7,547.8 L175.0,547.3 L174.3,547.6 L173.6,547.2 L172.9,547.3 L172.2,547.0 L171.5,546.8 L170.8,546.4 L170.1,546.3 L169.4,545.8 L168.7,545.5 L168.0,545.2 L167.3,545.0 L166.6,540.0Z" fill="#a7b050" opacity="0.42"/>
<path d="M167.0,536.7V544.3M168.7,535.6V545.1M170.0,534.3V545.1M171.1,534.3V546.3M172.1,533.8V546.6M173.1,533.7V546.0M174.8,534.0V546.4M176.3,533.4V547.3M177.5,532.1V547.4M178.7,533.2V547.5M180.3,532.1V548.1M181.6,531.5V547.6M183.0,531.4V548.2M184.4,531.5V548.1M185.5,532.2V548.0M186.8,532.2V547.6M187.7,532.2V548.2M188.9,531.3V546.5M190.0,532.0V546.9M191.8,531.5V546.5M192.8,531.8V547.1M194.2,533.4V545.7M195.7,532.6V546.0M196.9,533.5V545.6M198.2,533.3V545.4M199.4,534.1V545.5M201.1,534.5V545.2M202.6,534.7V544.3M204.3,535.1V544.0M205.2,534.5V544.1M206.1,535.2V544.0M207.5,535.6V544.1M209.0,535.6V543.4M210.1,536.1V543.4M211.3,538.9V540.8" stroke="#a7b050" stroke-width="0.7" opacity="0.55" fill="none"/>
<path d="M166.6,540.0 L167.3,536.4 L168.0,536.2 L168.7,535.6 L169.4,535.4 L170.1,535.0 L170.8,534.6 L171.5,534.7 L172.2,534.3 L172.9,534.0 L173.6,533.6 L174.3,534.0 L175.0,533.7 L175.7,534.0 L176.4,533.7 L177.1,533.3 L177.8,533.6 L178.5,533.4 L179.2,533.1 L179.9,533.4 L180.6,532.8 L181.3,532.6 L182.0,532.5 L182.7,532.9 L183.4,532.6 L184.1,532.4 L184.8,532.3 L185.5,532.9 L186.2,532.4 L186.9,532.9 L187.6,532.9 L188.3,532.7 L189.0,532.3 L189.7,533.0 L190.4,532.8 L191.1,533.1 L191.8,533.3 L192.5,532.9 L193.2,533.0 L193.9,533.6 L194.6,533.1 L195.3,533.1 L196.0,533.2 L196.7,533.7 L197.4,533.7 L198.1,534.3 L198.8,533.7 L199.5,534.2 L200.2,534.5 L200.9,534.6 L201.6,534.9 L202.3,534.9 L203.0,535.2 L203.7,535.3 L204.4,535.4 L205.1,535.3 L205.8,535.3 L206.5,535.5 L207.2,535.4 L207.9,535.5 L208.6,535.7 L209.3,535.8 L210.0,535.9 L210.7,537.3 L211.4,539.5 L211.6,540.0 L211.6,540.0 L211.4,540.4 L210.7,542.0 L210.0,543.1 L209.3,543.3 L208.6,543.4 L207.9,543.4 L207.2,543.6 L206.5,543.7 L205.8,543.7 L205.1,544.0 L204.4,543.8 L203.7,544.3 L203.0,544.0 L202.3,544.4 L201.6,544.5 L200.9,544.6 L200.2,544.9 L199.5,544.9 L198.8,544.9 L198.1,545.0 L197.4,545.5 L196.7,545.2 L196.0,545.2 L195.3,545.4 L194.6,545.6 L193.9,546.1 L193.2,546.0 L192.5,546.5 L191.8,546.1 L191.1,546.5 L190.4,546.9 L189.7,546.3 L189.0,546.7 L188.3,547.2 L187.6,547.2 L186.9,546.9 L186.2,547.0 L185.5,546.6 L184.8,546.6 L184.1,547.3 L183.4,547.3 L182.7,547.1 L182.0,547.5 L181.3,547.4 L180.6,547.3 L179.9,547.3 L179.2,547.0 L178.5,546.9 L177.8,546.9 L177.1,547.1 L176.4,546.8 L175.7,546.3 L175.0,546.6 L174.3,546.6 L173.6,545.8 L172.9,546.2 L172.2,546.0 L171.5,545.9 L170.8,545.2 L170.1,545.2 L169.4,544.8 L168.7,544.6 L168.0,544.5 L167.3,544.4 L166.6,540.0Z" fill="#a7b050"/>
<line x1="37.5" y1="569.6" x2="228.5" y2="569.6" stroke="#7b9a36" stroke-width="0.8" opacity="0.75"/>
<path d="M54.5,569.6 L55.2,567.5 L55.9,565.1 L56.6,562.7 L57.3,561.1 L58.0,561.0 L58.7,560.2 L59.4,560.0 L60.1,559.1 L60.8,558.6 L61.5,558.3 L62.2,558.1 L62.9,557.4 L63.6,557.1 L64.3,556.6 L65.0,556.2 L65.7,556.7 L66.4,556.7 L67.1,556.4 L67.8,556.2 L68.5,556.9 L69.2,556.6 L69.9,556.9 L70.6,556.7 L71.3,556.5 L72.0,557.1 L72.7,556.9 L73.4,557.9 L74.1,557.7 L74.8,558.2 L75.5,558.4 L76.2,558.9 L76.9,559.6 L77.6,559.5 L78.3,559.8 L79.0,560.0 L79.7,560.2 L80.4,560.8 L81.1,560.9 L81.8,561.4 L82.5,561.6 L83.2,561.5 L83.9,561.5 L84.6,561.3 L85.3,560.8 L86.0,560.8 L86.7,560.6 L87.4,560.1 L88.1,560.2 L88.8,559.6 L89.5,559.8 L90.2,559.7 L90.9,559.2 L91.6,558.9 L92.3,558.5 L93.0,558.0 L93.7,557.4 L94.4,557.3 L95.1,556.9 L95.8,557.0 L96.5,556.7 L97.2,556.4 L97.9,555.6 L98.6,555.7 L99.3,555.6 L100.0,555.0 L100.7,555.7 L101.4,555.5 L102.1,555.6 L102.8,556.1 L103.5,556.5 L104.2,556.3 L104.9,556.8 L105.6,557.3 L106.3,557.7 L107.0,557.7 L107.7,558.1 L108.4,558.4 L109.1,559.1 L109.8,559.9 L110.5,559.9 L111.2,560.6 L111.9,561.0 L112.6,561.6 L113.3,562.0 L114.0,562.0 L114.7,562.6 L115.4,563.2 L116.1,563.5 L116.8,564.0 L117.5,564.1 L118.2,564.8 L118.9,565.2 L119.6,565.8 L120.3,566.3 L121.0,566.8 L121.7,567.4 L122.4,567.8 L123.1,568.4 L123.8,568.9 L124.5,569.4 L124.8,569.6 L124.8,569.6 L124.5,569.8 L123.8,570.1 L123.1,570.5 L122.4,570.9 L121.7,571.3 L121.0,571.7 L120.3,572.0 L119.6,572.5 L118.9,572.8 L118.2,573.2 L117.5,573.5 L116.8,574.1 L116.1,574.2 L115.4,574.6 L114.7,574.8 L114.0,575.3 L113.3,575.7 L112.6,576.1 L111.9,576.5 L111.2,576.9 L110.5,577.2 L109.8,577.4 L109.1,577.7 L108.4,577.9 L107.7,578.4 L107.0,578.4 L106.3,578.6 L105.6,578.8 L104.9,579.1 L104.2,579.2 L103.5,579.9 L102.8,580.0 L102.1,579.9 L101.4,580.3 L100.7,580.4 L100.0,580.9 L99.3,580.9 L98.6,581.0 L97.9,580.7 L97.2,580.5 L96.5,580.7 L95.8,580.4 L95.1,579.9 L94.4,579.9 L93.7,580.0 L93.0,579.8 L92.3,579.5 L91.6,579.7 L90.9,579.2 L90.2,579.1 L89.5,579.1 L88.8,578.9 L88.1,578.7 L87.4,579.1 L86.7,578.9 L86.0,579.4 L85.3,579.7 L84.6,579.4 L83.9,579.9 L83.2,579.8 L82.5,580.2 L81.8,580.0 L81.1,580.6 L80.4,580.7 L79.7,580.8 L79.0,581.5 L78.3,582.0 L77.6,582.3 L76.9,582.9 L76.2,583.4 L75.5,583.8 L74.8,584.2 L74.1,584.5 L73.4,584.6 L72.7,583.9 L72.0,584.3 L71.3,584.1 L70.6,583.8 L69.9,583.5 L69.2,583.0 L68.5,582.4 L67.8,582.1 L67.1,581.6 L66.4,581.3 L65.7,581.5 L65.0,581.2 L64.3,580.4 L63.6,579.7 L62.9,579.2 L62.2,578.4 L61.5,578.0 L60.8,577.6 L60.1,576.8 L59.4,576.1 L58.7,575.1 L58.0,574.4 L57.3,573.6 L56.6,572.9 L55.9,572.1 L55.2,571.0 L54.5,569.6Z" fill="#7b9a36" opacity="0.42"/>
<path d="M54.9,568.4V570.4M56.7,562.5V572.8M58.2,562.0V574.8M59.6,561.2V575.1M61.3,558.5V577.5M62.6,559.2V578.2M64.3,557.3V578.6M65.4,558.4V581.2M67.0,556.2V580.8M68.2,558.7V580.8M69.4,557.9V581.5M71.0,556.8V582.2M72.6,558.6V582.5M74.2,559.8V581.8M76.0,559.8V581.9M77.6,559.7V580.9M79.3,561.7V581.3M80.5,561.7V578.6M81.5,562.0V578.6M83.0,561.3V578.7M84.6,561.6V579.1M86.2,561.3V579.2M87.2,560.6V578.4M88.3,561.2V578.9M89.8,560.3V578.3M91.4,559.3V578.1M93.2,558.0V579.6M94.7,557.7V579.0M96.5,556.8V579.0M98.1,556.8V579.1M99.8,557.2V579.8M100.8,556.6V579.8M102.4,555.8V580.1M103.9,557.7V579.7M105.0,558.4V578.6M106.3,558.3V577.4M107.4,560.1V577.6M108.5,558.9V577.0M109.6,559.8V576.4M111.2,561.1V575.6M112.8,561.2V575.2M114.2,562.8V575.3M116.0,564.4V573.9M117.6,564.8V573.3M119.0,566.0V572.3M120.7,566.9V571.7M122.1,567.7V571.1M123.1,568.4V570.4" stroke="#7b9a36" stroke-width="0.7" opacity="0.55" fill="none"/>
<path d="M54.5,569.6 L55.2,568.4 L55.9,567.2 L56.6,565.7 L57.3,564.7 L58.0,564.6 L58.7,564.2 L59.4,563.5 L60.1,563.3 L60.8,563.6 L61.5,563.1 L62.2,562.4 L62.9,562.8 L63.6,562.6 L64.3,561.7 L65.0,562.4 L65.7,561.6 L66.4,561.9 L67.1,562.2 L67.8,562.0 L68.5,561.9 L69.2,562.0 L69.9,562.2 L70.6,562.6 L71.3,562.5 L72.0,562.7 L72.7,562.6 L73.4,562.6 L74.1,562.7 L74.8,563.4 L75.5,563.6 L76.2,563.3 L76.9,563.9 L77.6,563.8 L78.3,563.7 L79.0,564.1 L79.7,564.6 L80.4,564.5 L81.1,564.8 L81.8,565.0 L82.5,565.1 L83.2,564.8 L83.9,565.0 L84.6,564.4 L85.3,564.5 L86.0,564.1 L86.7,564.2 L87.4,564.4 L88.1,564.3 L88.8,564.3 L89.5,563.9 L90.2,563.7 L90.9,563.2 L91.6,563.3 L92.3,563.4 L93.0,562.8 L93.7,563.0 L94.4,562.3 L95.1,562.6 L95.8,561.8 L96.5,562.4 L97.2,561.3 L97.9,561.1 L98.6,561.4 L99.3,561.6 L100.0,561.6 L100.7,561.4 L101.4,561.8 L102.1,561.4 L102.8,561.6 L103.5,561.7 L104.2,561.8 L104.9,561.8 L105.6,562.2 L106.3,562.7 L107.0,562.9 L107.7,562.9 L108.4,563.4 L109.1,563.4 L109.8,564.0 L110.5,563.7 L111.2,564.5 L111.9,564.8 L112.6,564.9 L113.3,565.1 L114.0,565.6 L114.7,565.4 L115.4,565.6 L116.1,566.0 L116.8,566.4 L117.5,566.5 L118.2,566.7 L118.9,567.0 L119.6,567.4 L120.3,567.8 L121.0,567.9 L121.7,568.3 L122.4,568.5 L123.1,568.9 L123.8,569.2 L124.5,569.5 L124.8,569.6 L124.8,569.6 L124.5,569.7 L123.8,569.9 L123.1,570.1 L122.4,570.3 L121.7,570.6 L121.0,570.8 L120.3,571.1 L119.6,571.3 L118.9,571.4 L118.2,571.8 L117.5,571.8 L116.8,572.1 L116.1,572.2 L115.4,572.5 L114.7,572.6 L114.0,573.0 L113.3,573.3 L112.6,573.6 L111.9,573.4 L111.2,573.8 L110.5,573.9 L109.8,574.4 L109.1,574.2 L108.4,574.7 L107.7,574.5 L107.0,574.9 L106.3,575.2 L105.6,575.0 L104.9,575.2 L104.2,575.5 L103.5,575.4 L102.8,575.7 L102.1,575.9 L101.4,575.9 L100.7,575.7 L100.0,576.1 L99.3,576.6 L98.6,576.5 L97.9,576.0 L97.2,576.2 L96.5,576.1 L95.8,575.5 L95.1,575.9 L94.4,575.7 L93.7,575.7 L93.0,575.4 L92.3,575.5 L91.6,575.1 L90.9,575.0 L90.2,575.2 L89.5,575.2 L88.8,575.1 L88.1,574.9 L87.4,574.7 L86.7,575.1 L86.0,575.4 L85.3,575.1 L84.6,575.6 L83.9,575.3 L83.2,575.5 L82.5,575.5 L81.8,576.1 L81.1,575.6 L80.4,576.3 L79.7,576.4 L79.0,576.3 L78.3,576.3 L77.6,577.3 L76.9,576.9 L76.2,577.7 L75.5,577.9 L74.8,577.8 L74.1,578.2 L73.4,578.7 L72.7,578.3 L72.0,578.3 L71.3,578.1 L70.6,577.4 L69.9,577.5 L69.2,577.4 L68.5,577.2 L67.8,577.3 L67.1,577.0 L66.4,576.3 L65.7,576.1 L65.0,576.4 L64.3,575.5 L63.6,575.5 L62.9,574.9 L62.2,574.7 L61.5,574.7 L60.8,574.4 L60.1,573.8 L59.4,573.1 L58.7,573.0 L58.0,572.4 L57.3,572.0 L56.6,571.6 L55.9,571.0 L55.2,570.4 L54.5,569.6Z" fill="#7b9a36"/>
<path d="M170.0,569.6 L170.7,568.7 L171.4,567.6 L172.1,566.6 L172.8,565.6 L173.5,564.5 L174.2,563.4 L174.9,562.4 L175.6,562.2 L176.3,561.8 L177.0,561.4 L177.7,561.2 L178.4,560.8 L179.1,560.0 L179.8,559.6 L180.5,559.5 L181.2,559.3 L181.9,559.4 L182.6,558.6 L183.3,558.9 L184.0,558.8 L184.7,558.2 L185.4,558.4 L186.1,558.3 L186.8,557.6 L187.5,558.3 L188.2,558.4 L188.9,558.9 L189.6,558.8 L190.3,559.4 L191.0,559.2 L191.7,559.5 L192.4,560.1 L193.1,560.3 L193.8,560.6 L194.5,560.7 L195.2,561.3 L195.9,561.3 L196.6,561.6 L197.3,561.7 L198.0,562.2 L198.7,562.1 L199.4,562.6 L200.1,562.4 L200.8,562.8 L201.5,562.7 L202.2,562.9 L202.9,562.9 L203.6,563.2 L204.3,563.1 L205.0,563.5 L205.7,563.5 L206.4,563.7 L207.1,563.9 L207.8,564.1 L208.5,564.4 L209.2,565.0 L209.9,565.2 L210.6,565.8 L211.3,566.2 L212.0,566.5 L212.7,566.9 L213.4,567.4 L214.1,567.8 L214.8,568.9 L215.0,569.6 L215.0,569.6 L214.8,569.7 L214.1,569.9 L213.4,570.1 L212.7,570.3 L212.0,570.5 L211.3,570.7 L210.6,570.8 L209.9,571.1 L209.2,571.3 L208.5,571.4 L207.8,571.6 L207.1,571.9 L206.4,572.1 L205.7,572.2 L205.0,572.5 L204.3,572.6 L203.6,572.9 L202.9,573.0 L202.2,573.3 L201.5,573.5 L200.8,573.8 L200.1,574.0 L199.4,574.4 L198.7,574.6 L198.0,574.9 L197.3,574.9 L196.6,575.3 L195.9,575.3 L195.2,575.7 L194.5,575.8 L193.8,575.6 L193.1,575.9 L192.4,575.9 L191.7,575.9 L191.0,575.8 L190.3,576.1 L189.6,576.1 L188.9,575.9 L188.2,575.9 L187.5,576.1 L186.8,576.3 L186.1,575.8 L185.4,576.0 L184.7,575.7 L184.0,575.6 L183.3,575.6 L182.6,575.3 L181.9,575.1 L181.2,575.0 L180.5,574.7 L179.8,574.5 L179.1,574.1 L178.4,574.0 L177.7,573.8 L177.0,573.4 L176.3,573.1 L175.6,572.7 L174.9,572.5 L174.2,572.1 L173.5,571.8 L172.8,571.4 L172.1,571.0 L171.4,570.7 L170.7,570.3 L170.0,569.6Z" fill="#7b9a36" opacity="0.42"/>
<path d="M170.4,569.2V570.1M171.5,567.7V570.6M173.1,565.6V571.4M174.8,562.8V572.6M175.8,563.0V572.8M177.2,561.1V573.1M178.1,561.4V573.3M179.7,560.0V574.5M180.7,560.0V574.1M182.5,560.5V575.0M184.1,560.0V575.3M185.1,560.2V575.1M186.0,559.1V575.8M187.8,559.7V575.6M189.3,560.1V575.3M190.5,559.4V575.3M192.1,561.4V575.1M193.3,561.6V574.8M194.5,560.9V575.4M196.3,562.4V574.7M197.4,562.4V574.1M199.1,563.0V573.6M200.4,563.2V573.3M201.6,563.0V573.7M203.0,563.8V572.5M204.2,564.0V572.4M205.5,564.2V571.9M207.3,563.6V571.7M209.0,565.0V571.3M210.3,565.7V571.0M211.8,566.5V570.5M213.0,567.2V570.2M214.2,568.1V569.8" stroke="#7b9a36" stroke-width="0.7" opacity="0.55" fill="none"/>
<path d="M170.0,569.6 L170.7,569.1 L171.4,568.4 L172.1,567.8 L172.8,567.2 L173.5,566.9 L174.2,565.9 L174.9,565.2 L175.6,565.4 L176.3,564.9 L177.0,564.9 L177.7,564.5 L178.4,564.0 L179.1,563.8 L179.8,564.3 L180.5,563.4 L181.2,563.5 L181.9,563.3 L182.6,563.5 L183.3,563.2 L184.0,563.4 L184.7,562.9 L185.4,563.0 L186.1,563.3 L186.8,562.8 L187.5,563.3 L188.2,562.7 L188.9,563.6 L189.6,563.4 L190.3,564.0 L191.0,563.9 L191.7,563.7 L192.4,564.3 L193.1,564.0 L193.8,564.4 L194.5,564.7 L195.2,564.4 L195.9,564.5 L196.6,565.1 L197.3,564.9 L198.0,565.4 L198.7,565.3 L199.4,565.2 L200.1,565.7 L200.8,565.5 L201.5,565.5 L202.2,565.9 L202.9,566.0 L203.6,565.7 L204.3,566.1 L205.0,565.8 L205.7,566.2 L206.4,566.1 L207.1,566.1 L207.8,566.3 L208.5,566.5 L209.2,566.9 L209.9,567.1 L210.6,567.3 L211.3,567.6 L212.0,567.8 L212.7,568.0 L213.4,568.3 L214.1,568.6 L214.8,569.1 L215.0,569.6 L215.0,569.6 L214.8,569.6 L214.1,569.8 L213.4,569.9 L212.7,570.0 L212.0,570.1 L211.3,570.2 L210.6,570.4 L209.9,570.5 L209.2,570.6 L208.5,570.7 L207.8,570.7 L207.1,570.9 L206.4,571.1 L205.7,571.2 L205.0,571.3 L204.3,571.3 L203.6,571.6 L202.9,571.6 L202.2,571.8 L201.5,572.0 L200.8,572.0 L200.1,572.0 L199.4,572.3 L198.7,572.5 L198.0,572.6 L197.3,572.9 L196.6,572.7 L195.9,573.0 L195.2,573.3 L194.5,573.1 L193.8,573.3 L193.1,573.0 L192.4,573.4 L191.7,573.3 L191.0,573.1 L190.3,573.1 L189.6,573.3 L188.9,573.2 L188.2,573.2 L187.5,573.4 L186.8,573.5 L186.1,573.2 L185.4,573.3 L184.7,573.1 L184.0,572.9 L183.3,573.1 L182.6,572.7 L181.9,572.7 L181.2,572.7 L180.5,572.5 L179.8,572.4 L179.1,572.3 L178.4,572.0 L177.7,571.9 L177.0,571.9 L176.3,571.7 L175.6,571.5 L174.9,571.3 L174.2,571.0 L173.5,570.8 L172.8,570.7 L172.1,570.5 L171.4,570.2 L170.7,570.0 L170.0,569.6Z" fill="#7b9a36"/>
<line x1="37.5" y1="598.5" x2="228.5" y2="598.5" stroke="#6e8d30" stroke-width="0.8" opacity="0.75"/>
<path d="M87.2,598.5 L87.9,597.4 L88.6,596.2 L89.3,595.3 L90.0,595.1 L90.7,594.9 L91.4,594.9 L92.1,594.5 L92.8,594.4 L93.5,594.3 L94.2,594.0 L94.9,593.9 L95.6,593.8 L96.3,593.9 L97.0,593.9 L97.7,593.7 L98.4,593.8 L99.1,593.9 L99.8,593.8 L100.5,593.9 L101.2,593.7 L101.9,593.7 L102.6,593.6 L103.3,593.8 L104.0,593.7 L104.7,593.8 L105.4,593.7 L106.1,593.6 L106.8,593.8 L107.5,593.6 L108.2,593.8 L108.9,593.8 L109.6,593.7 L110.3,593.8 L111.0,593.7 L111.7,593.8 L112.4,593.9 L113.1,593.8 L113.8,593.8 L114.5,593.7 L115.2,593.7 L115.9,593.8 L116.6,593.8 L117.3,594.0 L118.0,593.9 L118.7,594.0 L119.4,593.9 L120.1,594.0 L120.8,593.8 L121.5,593.8 L122.2,594.0 L122.9,594.0 L123.6,593.8 L124.3,593.8 L125.0,593.9 L125.7,594.1 L126.4,594.0 L127.1,593.9 L127.8,594.0 L128.5,593.9 L129.2,594.0 L129.9,593.9 L130.6,594.1 L131.3,593.9 L132.0,594.0 L132.7,593.9 L133.4,593.9 L134.1,594.1 L134.8,594.1 L135.5,594.0 L136.2,594.2 L136.9,594.1 L137.6,594.0 L138.3,594.1 L139.0,593.9 L139.7,593.9 L140.4,594.1 L141.1,594.0 L141.8,594.2 L142.5,594.0 L143.2,594.0 L143.9,594.0 L144.6,594.2 L145.3,594.1 L146.0,594.0 L146.7,594.0 L147.4,594.1 L148.1,594.0 L148.8,594.2 L149.5,594.0 L150.2,594.2 L150.9,594.2 L151.6,594.1 L152.3,594.2 L153.0,594.3 L153.7,594.3 L154.4,594.3 L155.1,594.4 L155.8,594.3 L156.5,594.4 L157.2,594.3 L157.9,594.5 L158.6,594.6 L159.3,594.5 L160.0,594.6 L160.7,594.6 L161.4,594.6 L162.1,594.7 L162.8,594.8 L163.5,594.7 L164.2,594.7 L164.9,594.8 L165.6,594.9 L166.3,595.0 L167.0,595.0 L167.7,595.1 L168.4,595.2 L169.1,595.2 L169.8,595.3 L170.5,595.3 L171.2,595.4 L171.9,595.5 L172.6,595.7 L173.3,595.7 L174.0,595.8 L174.7,595.8 L175.4,595.9 L176.1,596.1 L176.8,596.2 L177.5,596.2 L178.2,596.3 L178.9,596.5 L179.6,596.5 L180.3,596.6 L181.0,596.7 L181.7,596.8 L182.4,596.8 L183.1,597.0 L183.8,597.0 L184.5,597.1 L185.2,597.3 L185.9,597.4 L186.6,597.6 L187.3,597.8 L188.0,597.9 L188.7,598.1 L189.4,598.2 L189.7,598.3 L189.7,598.7 L189.4,598.8 L188.7,598.9 L188.0,599.0 L187.3,599.1 L186.6,599.2 L185.9,599.3 L185.2,599.5 L184.5,599.6 L183.8,599.7 L183.1,599.9 L182.4,600.0 L181.7,600.1 L181.0,600.2 L180.3,600.4 L179.6,600.4 L178.9,600.5 L178.2,600.5 L177.5,600.5 L176.8,600.7 L176.1,600.7 L175.4,600.8 L174.7,600.9 L174.0,600.8 L173.3,601.0 L172.6,601.0 L171.9,601.0 L171.2,601.2 L170.5,601.1 L169.8,601.2 L169.1,601.3 L168.4,601.3 L167.7,601.3 L167.0,601.4 L166.3,601.5 L165.6,601.7 L164.9,601.7 L164.2,601.6 L163.5,601.6 L162.8,601.7 L162.1,601.7 L161.4,601.8 L160.7,601.6 L160.0,601.7 L159.3,601.7 L158.6,601.7 L157.9,601.8 L157.2,601.7 L156.5,601.7 L155.8,601.8 L155.1,601.9 L154.4,601.8 L153.7,601.8 L153.0,601.9 L152.3,601.7 L151.6,601.7 L150.9,601.8 L150.2,601.9 L149.5,601.9 L148.8,601.8 L148.1,601.8 L147.4,601.9 L146.7,601.8 L146.0,601.8 L145.3,601.9 L144.6,601.8 L143.9,601.8 L143.2,601.9 L142.5,602.0 L141.8,601.8 L141.1,602.0 L140.4,601.9 L139.7,601.9 L139.0,601.9 L138.3,601.9 L137.6,602.0 L136.9,601.9 L136.2,602.0 L135.5,602.0 L134.8,602.1 L134.1,602.0 L133.4,602.1 L132.7,602.1 L132.0,602.1 L131.3,602.0 L130.6,602.2 L129.9,602.0 L129.2,602.0 L128.5,602.0 L127.8,602.1 L127.1,602.1 L126.4,602.0 L125.7,602.0 L125.0,602.2 L124.3,602.0 L123.6,602.0 L122.9,602.0 L122.2,602.0 L121.5,602.1 L120.8,602.1 L120.1,602.0 L119.4,602.1 L118.7,602.1 L118.0,602.0 L117.3,602.0 L116.6,602.0 L115.9,602.0 L115.2,602.1 L114.5,602.0 L113.8,602.0 L113.1,602.1 L112.4,602.1 L111.7,602.1 L111.0,602.0 L110.3,602.1 L109.6,602.0 L108.9,602.1 L108.2,602.0 L107.5,602.2 L106.8,602.1 L106.1,602.1 L105.4,602.0 L104.7,602.1 L104.0,602.1 L103.3,602.1 L102.6,602.0 L101.9,602.1 L101.2,602.1 L100.5,602.0 L99.8,602.0 L99.1,602.0 L98.4,602.1 L97.7,602.2 L97.0,602.1 L96.3,602.1 L95.6,602.0 L94.9,602.1 L94.2,601.9 L93.5,601.8 L92.8,601.7 L92.1,601.6 L91.4,601.5 L90.7,601.4 L90.0,601.2 L89.3,601.1 L88.6,600.5 L87.9,599.5 L87.2,598.5Z" fill="#6e8d30" opacity="0.42"/>
<path d="M87.6,598.0V599.0M89.2,595.6V601.2M90.1,595.4V601.0M91.5,594.9V601.2M92.8,594.8V601.4M93.8,594.3V601.3M95.0,594.5V601.7M96.6,593.9V602.1M98.0,594.4V601.4M99.1,593.8V601.7M100.3,594.3V601.7M101.4,594.3V601.8M102.7,594.5V601.5M103.6,594.1V601.9M105.3,594.1V601.9M106.9,594.0V601.8M108.0,593.9V602.0M109.1,593.9V601.6M110.1,594.3V601.8M111.4,594.3V602.1M112.9,594.3V601.5M114.4,593.7V602.0M116.0,593.7V601.9M117.0,594.2V601.7M118.4,594.5V601.9M119.9,594.4V601.9M121.1,594.1V601.8M122.9,594.3V601.5M123.9,594.1V601.5M125.4,594.3V601.7M126.7,594.0V601.8M128.0,594.3V601.9M129.3,594.1V601.7M130.5,594.7V601.8M131.5,594.6V601.5M132.7,594.0V601.8M133.9,594.4V601.7M134.8,594.1V601.8M136.6,594.2V601.5M138.4,594.7V601.5M139.4,594.7V601.4M141.2,594.7V601.7M142.2,594.6V601.4M143.4,594.6V601.8M145.2,594.7V601.6M146.7,594.0V601.3M148.2,594.5V601.6M149.7,594.2V601.5M151.3,594.4V601.4M152.4,594.8V601.8M154.1,594.9V601.6M155.0,595.0V601.6M156.4,594.8V601.5M157.7,594.9V601.4M159.5,595.2V601.5M160.5,595.0V601.2M161.6,594.9V601.1M162.8,594.9V601.5M163.8,595.1V601.3M165.5,594.9V601.4M167.1,595.4V601.5M168.6,595.2V600.9M170.1,595.5V601.1M171.8,595.9V600.7M173.2,596.1V601.0M175.0,596.1V600.8M176.4,596.0V600.6M177.5,596.2V600.3M178.5,596.4V600.4M180.2,596.8V600.4M181.8,596.9V599.8M183.4,597.2V599.6M184.6,597.2V599.5M185.9,597.4V599.3M187.2,597.8V599.1M188.6,598.0V598.9" stroke="#6e8d30" stroke-width="0.7" opacity="0.55" fill="none"/>
<path d="M87.2,598.5 L87.9,597.7 L88.6,596.7 L89.3,595.9 L90.0,595.8 L90.7,595.8 L91.4,595.7 L92.1,595.6 L92.8,595.3 L93.5,595.3 L94.2,595.0 L94.9,594.7 L95.6,595.0 L96.3,594.8 L97.0,595.1 L97.7,594.8 L98.4,594.8 L99.1,595.0 L99.8,594.6 L100.5,595.1 L101.2,594.7 L101.9,594.6 L102.6,594.7 L103.3,594.6 L104.0,594.7 L104.7,594.8 L105.4,594.8 L106.1,594.6 L106.8,595.0 L107.5,594.6 L108.2,594.6 L108.9,594.7 L109.6,594.6 L110.3,595.0 L111.0,594.7 L111.7,594.6 L112.4,594.9 L113.1,594.8 L113.8,594.7 L114.5,594.8 L115.2,594.7 L115.9,594.7 L116.6,594.9 L117.3,594.8 L118.0,594.8 L118.7,594.9 L119.4,595.1 L120.1,595.0 L120.8,594.9 L121.5,594.8 L122.2,594.9 L122.9,594.8 L123.6,595.1 L124.3,595.1 L125.0,595.1 L125.7,594.9 L126.4,595.1 L127.1,594.9 L127.8,595.1 L128.5,595.2 L129.2,594.9 L129.9,594.8 L130.6,595.2 L131.3,595.0 L132.0,595.1 L132.7,595.2 L133.4,595.2 L134.1,594.8 L134.8,594.9 L135.5,595.0 L136.2,595.2 L136.9,595.1 L137.6,594.9 L138.3,594.9 L139.0,595.2 L139.7,595.2 L140.4,594.8 L141.1,595.0 L141.8,594.9 L142.5,595.0 L143.2,594.8 L143.9,595.0 L144.6,594.9 L145.3,594.9 L146.0,595.3 L146.7,594.9 L147.4,595.3 L148.1,595.2 L148.8,595.0 L149.5,595.0 L150.2,595.0 L150.9,595.0 L151.6,595.2 L152.3,595.0 L153.0,595.2 L153.7,595.2 L154.4,595.1 L155.1,595.5 L155.8,595.2 L156.5,595.4 L157.2,595.4 L157.9,595.5 L158.6,595.4 L159.3,595.4 L160.0,595.4 L160.7,595.6 L161.4,595.4 L162.1,595.6 L162.8,595.7 L163.5,595.6 L164.2,595.6 L164.9,595.7 L165.6,595.8 L166.3,595.7 L167.0,595.9 L167.7,596.0 L168.4,596.0 L169.1,595.9 L169.8,596.2 L170.5,596.1 L171.2,596.2 L171.9,596.1 L172.6,596.3 L173.3,596.3 L174.0,596.5 L174.7,596.4 L175.4,596.4 L176.1,596.5 L176.8,596.6 L177.5,596.8 L178.2,596.8 L178.9,596.9 L179.6,597.0 L180.3,596.9 L181.0,597.2 L181.7,597.1 L182.4,597.2 L183.1,597.3 L183.8,597.4 L184.5,597.5 L185.2,597.5 L185.9,597.7 L186.6,597.8 L187.3,597.9 L188.0,598.0 L188.7,598.2 L189.4,598.3 L189.7,598.3 L189.7,598.7 L189.4,598.7 L188.7,598.8 L188.0,598.9 L187.3,599.0 L186.6,599.1 L185.9,599.2 L185.2,599.3 L184.5,599.4 L183.8,599.5 L183.1,599.6 L182.4,599.6 L181.7,599.7 L181.0,599.8 L180.3,600.0 L179.6,600.0 L178.9,600.0 L178.2,600.2 L177.5,600.1 L176.8,600.1 L176.1,600.3 L175.4,600.2 L174.7,600.3 L174.0,600.4 L173.3,600.3 L172.6,600.5 L171.9,600.4 L171.2,600.6 L170.5,600.5 L169.8,600.7 L169.1,600.7 L168.4,600.7 L167.7,600.8 L167.0,600.8 L166.3,600.9 L165.6,600.9 L164.9,600.9 L164.2,601.0 L163.5,601.1 L162.8,600.8 L162.1,601.1 L161.4,601.0 L160.7,601.0 L160.0,600.9 L159.3,601.1 L158.6,600.9 L157.9,601.0 L157.2,601.1 L156.5,600.9 L155.8,601.0 L155.1,601.1 L154.4,601.1 L153.7,601.1 L153.0,601.0 L152.3,600.9 L151.6,601.0 L150.9,601.0 L150.2,601.2 L149.5,601.1 L148.8,601.2 L148.1,601.2 L147.4,601.0 L146.7,601.3 L146.0,601.1 L145.3,601.0 L144.6,601.1 L143.9,601.3 L143.2,601.2 L142.5,601.3 L141.8,601.0 L141.1,601.2 L140.4,601.1 L139.7,601.1 L139.0,601.1 L138.3,601.0 L137.6,601.1 L136.9,601.1 L136.2,601.3 L135.5,601.1 L134.8,601.2 L134.1,601.3 L133.4,601.2 L132.7,601.3 L132.0,601.3 L131.3,601.4 L130.6,601.3 L129.9,601.4 L129.2,601.2 L128.5,601.3 L127.8,601.4 L127.1,601.4 L126.4,601.2 L125.7,601.3 L125.0,601.4 L124.3,601.1 L123.6,601.3 L122.9,601.4 L122.2,601.3 L121.5,601.4 L120.8,601.2 L120.1,601.4 L119.4,601.3 L118.7,601.4 L118.0,601.2 L117.3,601.3 L116.6,601.3 L115.9,601.2 L115.2,601.1 L114.5,601.2 L113.8,601.3 L113.1,601.1 L112.4,601.1 L111.7,601.3 L111.0,601.3 L110.3,601.3 L109.6,601.3 L108.9,601.3 L108.2,601.3 L107.5,601.3 L106.8,601.1 L106.1,601.3 L105.4,601.1 L104.7,601.3 L104.0,601.2 L103.3,601.3 L102.6,601.2 L101.9,601.4 L101.2,601.3 L100.5,601.3 L99.8,601.3 L99.1,601.3 L98.4,601.4 L97.7,601.2 L97.0,601.3 L96.3,601.1 L95.6,601.3 L94.9,601.4 L94.2,601.1 L93.5,601.2 L92.8,601.1 L92.1,600.9 L91.4,600.9 L90.7,600.9 L90.0,600.6 L89.3,600.6 L88.6,600.2 L87.9,599.2 L87.2,598.5Z" fill="#6e8d30"/>
<text x="30.50" y="465.80" font-size="9.8" text-anchor="middle" fill="#111" stroke="#111" stroke-width="0.2">Y</text>
<text x="30.50" y="495.80" font-size="9.8" text-anchor="middle" fill="#111" stroke="#111" stroke-width="0.2">L</text>
<text x="30.50" y="524.80" font-size="9.8" text-anchor="middle" fill="#111" stroke="#111" stroke-width="0.2">T</text>
<text x="30.50" y="553.80" font-size="9.8" text-anchor="middle" fill="#111" stroke="#111" stroke-width="0.2">W</text>
<text x="30.50" y="583.80" font-size="9.8" text-anchor="middle" fill="#111" stroke="#111" stroke-width="0.2">Z</text>
<text x="30.50" y="612.80" font-size="9.8" text-anchor="middle" fill="#111" stroke="#111" stroke-width="0.2">B</text>
<g transform="translate(0,440.8)"><path d="M10.8,0 C5.5,0 4,4 4,9 L3.8,16.5 L8,17 L13.5,17 L17.8,16.5 L17.6,9 C17.6,4 16,0 10.8,0Z" fill="#1b2430"/><path d="M0.8,25.5 L0.8,19.5 Q1,17.5 4,16.8 L8,15.6 L13.6,15.6 L17.6,16.8 Q20.6,17.5 20.8,19.5 L20.8,25.5Z" fill="#eef0f2"/><path d="M6.4,15.6 L10.8,22.5 L15.2,15.6Z" fill="#6f9dcc"/><path d="M15.5,17.2 L17.6,16.8 Q20.6,17.5 20.8,19.5 L20.8,25.5 L16.5,25.5Z" fill="#d9dce1"/><path d="M10.1,17.4 L11.5,17.4 L11.9,23.5 L10.8,25 L9.7,23.5Z" fill="#b06aa2"/><rect x="8.8" y="11.5" width="4" height="5" fill="#f0d8cc"/><ellipse cx="10.8" cy="8.6" rx="4.6" ry="5.6" fill="#f0d8cc"/><path d="M6,6.5 C6.5,2.5 9,1.6 10.8,1.6 C13,1.6 15.2,2.5 15.6,6.5 C13.5,4 8,4 6,6.5Z" fill="#1b2430"/><circle cx="8.8" cy="8.6" r="0.75" fill="#556"/><circle cx="12.8" cy="8.6" r="0.75" fill="#556"/></g>
<g transform="translate(0,471.0)"><path d="M10.8,0 C6,0 4.6,3 4.8,7.5 L5.3,9.5 L16.3,9.5 L16.8,7.5 C17,3 15.6,0 10.8,0Z" fill="#1e2228"/><path d="M0.8,25.5 L0.8,19.5 Q1,17.5 4,16.8 L8,15.6 L13.6,15.6 L17.6,16.8 Q20.6,17.5 20.8,19.5 L20.8,25.5Z" fill="#1f2b4a"/><path d="M7.6,15.6 L10.8,22.5 L14.0,15.6Z" fill="#f4f0ea"/><path d="M10.1,17.4 L11.5,17.4 L11.9,23.5 L10.8,25 L9.7,23.5Z" fill="#2a92c8"/><rect x="8.8" y="11.5" width="4" height="5" fill="#e8b898"/><ellipse cx="10.8" cy="8.8" rx="5.0" ry="5.8" fill="#e8b898"/><path d="M5.6,7 C5.6,3 8,1.6 10.8,1.6 C13.8,1.6 16,3 16,7 C14.5,4.6 9,4.2 5.6,7Z" fill="#1e2228"/><circle cx="8.8" cy="8.6" r="0.75" fill="#556"/><circle cx="12.8" cy="8.6" r="0.75" fill="#556"/><rect x="7.0" y="7.7" width="3.2" height="2" fill="none" stroke="#3a3a3a" stroke-width="0.35"/><rect x="11.4" y="7.7" width="3.2" height="2" fill="none" stroke="#3a3a3a" stroke-width="0.35"/><path d="M10.2,8.2 h1.2" stroke="#3a3a3a" stroke-width="0.35"/></g>
<g transform="translate(0,502.0)"><path d="M10.8,0 C6,0 4.6,3 4.8,7.5 L5.3,9.5 L16.3,9.5 L16.8,7.5 C17,3 15.6,0 10.8,0Z" fill="#1a2630"/><path d="M0.8,25.5 L0.8,19.5 Q1,17.5 4,16.8 L8,15.6 L13.6,15.6 L17.6,16.8 Q20.6,17.5 20.8,19.5 L20.8,25.5Z" fill="#101b24"/><path d="M7.6,15.6 L10.8,22.5 L14.0,15.6Z" fill="#f6f3f0"/><rect x="8.8" y="11.5" width="4" height="5" fill="#f3ddd0"/><ellipse cx="10.8" cy="8.8" rx="5.0" ry="5.8" fill="#f3ddd0"/><path d="M5.6,7 C5.6,3 8,1.6 10.8,1.6 C13.8,1.6 16,3 16,7 C14.5,4.6 9,4.2 5.6,7Z" fill="#1a2630"/><circle cx="8.8" cy="8.6" r="0.75" fill="#556"/><circle cx="12.8" cy="8.6" r="0.75" fill="#556"/></g>
<g transform="translate(0,530.2)"><path d="M10.8,0 C5.5,0 4,4 4,9 L3.8,16.5 L8,17 L13.5,17 L17.8,16.5 L17.6,9 C17.6,4 16,0 10.8,0Z" fill="#141c2a"/><path d="M0.8,25.5 L0.8,19.5 Q1,17.5 4,16.8 L8,15.6 L13.6,15.6 L17.6,16.8 Q20.6,17.5 20.8,19.5 L20.8,25.5Z" fill="#101728"/><path d="M7.6,15.6 L10.8,22.5 L14.0,15.6Z" fill="#f6f3f0"/><path d="M10.1,17.4 L11.5,17.4 L11.9,23.5 L10.8,25 L9.7,23.5Z" fill="#c23038"/><rect x="8.8" y="11.5" width="4" height="5" fill="#f2dcd2"/><ellipse cx="10.8" cy="8.6" rx="4.6" ry="5.6" fill="#f2dcd2"/><path d="M6,6.5 C6.5,2.5 9,1.6 10.8,1.6 C13,1.6 15.2,2.5 15.6,6.5 C13.5,4 8,4 6,6.5Z" fill="#141c2a"/><circle cx="8.8" cy="8.6" r="0.75" fill="#556"/><circle cx="12.8" cy="8.6" r="0.75" fill="#556"/></g>
<g transform="translate(0,559.3)"><path d="M10.8,0 C6,0 4.6,3 4.8,7.5 L5.3,9.5 L16.3,9.5 L16.8,7.5 C17,3 15.6,0 10.8,0Z" fill="#1a2530"/><path d="M0.8,25.5 L0.8,19.5 Q1,17.5 4,16.8 L8,15.6 L13.6,15.6 L17.6,16.8 Q20.6,17.5 20.8,19.5 L20.8,25.5Z" fill="#f3eeea"/><path d="M7.6,15.6 L10.8,22.5 L14.0,15.6Z" fill="#fbf8f5"/><rect x="8.8" y="11.5" width="4" height="5" fill="#f2dccc"/><ellipse cx="10.8" cy="8.8" rx="5.0" ry="5.8" fill="#f2dccc"/><path d="M5.6,7 C5.6,3 8,1.6 10.8,1.6 C13.8,1.6 16,3 16,7 C14.5,4.6 9,4.2 5.6,7Z" fill="#1a2530"/><circle cx="8.8" cy="8.6" r="0.75" fill="#556"/><circle cx="12.8" cy="8.6" r="0.75" fill="#556"/></g>
<g transform="translate(0,589.8)"><path d="M10.8,0 C6,0 4.6,3 4.8,7.5 L5.3,9.5 L16.3,9.5 L16.8,7.5 C17,3 15.6,0 10.8,0Z" fill="#2a2a30"/><path d="M0.8,25.5 L0.8,19.5 Q1,17.5 4,16.8 L8,15.6 L13.6,15.6 L17.6,16.8 Q20.6,17.5 20.8,19.5 L20.8,25.5Z" fill="#4c5b78"/><path d="M7.6,15.6 L10.8,22.5 L14.0,15.6Z" fill="#f2f0ee"/><path d="M10.1,17.4 L11.5,17.4 L11.9,23.5 L10.8,25 L9.7,23.5Z" fill="#6b6f7a"/><rect x="8.8" y="11.5" width="4" height="5" fill="#e8c0a8"/><ellipse cx="10.8" cy="8.8" rx="5.0" ry="5.8" fill="#e8c0a8"/><path d="M5.6,7 C5.6,3 8,1.6 10.8,1.6 C13.8,1.6 16,3 16,7 C14.5,4.6 9,4.2 5.6,7Z" fill="#2a2a30"/><circle cx="8.8" cy="8.6" r="0.75" fill="#556"/><circle cx="12.8" cy="8.6" r="0.75" fill="#556"/></g>
<line x1="253.5" y1="465.5" x2="445.0" y2="465.5" stroke="#e7999a" stroke-width="1.0" opacity="0.55"/>
<path d="M288.5,441.1 L369,441.1 L369,441.1 L369,459.7 L369,459.7 L288.5,459.7Z" fill="#e7999a" opacity="0.13"/>
<path d="M289.2,442.8 L292.4,442.9 L295.6,442.8 L298.8,442.9 L302.0,442.3 L305.2,442.6 L308.4,442.9 L311.6,442.7 L314.8,442.9 L318.0,442.3 L321.2,442.6 L324.4,442.4 L327.6,442.6 L330.8,442.7 L334.0,442.3 L337.2,442.4 L340.4,442.4 L343.6,442.9 L346.8,442.8 L350.0,442.4 L353.2,442.8 L356.4,442.3 L359.6,442.7 L362.8,442.3 L366.0,442.3 L367.1,442.6" fill="none" stroke="#e7999a" stroke-width="3.4" opacity="0.3" stroke-linejoin="round"/>
<path d="M289.2,442.8 L292.4,442.9 L295.6,442.8 L298.8,442.9 L302.0,442.3 L305.2,442.6 L308.4,442.9 L311.6,442.7 L314.8,442.9 L318.0,442.3 L321.2,442.6 L324.4,442.4 L327.6,442.6 L330.8,442.7 L334.0,442.3 L337.2,442.4 L340.4,442.4 L343.6,442.9 L346.8,442.8 L350.0,442.4 L353.2,442.8 L356.4,442.3 L359.6,442.7 L362.8,442.3 L366.0,442.3 L367.1,442.6" fill="none" stroke="#e7999a" stroke-width="2.2" opacity="0.95" stroke-linejoin="round"/>
<path d="M289.7,449.7 L292.9,450.2 L296.1,450.2 L299.3,449.8 L302.5,450.2 L305.7,449.9 L308.9,450.0 L312.1,449.7 L315.3,450.2 L318.5,450.0 L321.7,450.2 L324.9,450.2 L328.1,449.8 L331.3,449.8 L334.5,449.7 L337.7,449.7 L340.9,449.6 L344.1,449.8 L347.3,450.0 L350.5,449.6 L353.7,450.0 L356.9,449.8 L360.1,449.8 L363.3,450.1 L366.5,449.9 L368.5,449.9" fill="none" stroke="#e7999a" stroke-width="4.2" opacity="0.3" stroke-linejoin="round"/>
<path d="M289.7,449.7 L292.9,450.2 L296.1,450.2 L299.3,449.8 L302.5,450.2 L305.7,449.9 L308.9,450.0 L312.1,449.7 L315.3,450.2 L318.5,450.0 L321.7,450.2 L324.9,450.2 L328.1,449.8 L331.3,449.8 L334.5,449.7 L337.7,449.7 L340.9,449.6 L344.1,449.8 L347.3,450.0 L350.5,449.6 L353.7,450.0 L356.9,449.8 L360.1,449.8 L363.3,450.1 L366.5,449.9 L368.5,449.9" fill="none" stroke="#e7999a" stroke-width="3.0" opacity="0.95" stroke-linejoin="round"/>
<path d="M288.6,458.3 L291.8,457.9 L295.0,458.5 L298.2,457.9 L301.4,458.4 L304.6,458.4 L307.8,457.9 L311.0,458.4 L314.2,458.1 L317.4,458.3 L320.6,457.9 L323.8,457.9 L327.0,458.0 L330.2,458.5 L333.4,458.0 L336.6,458.4 L339.8,458.5 L343.0,458.5 L346.2,458.1 L349.4,458.1 L352.6,458.2 L355.8,458.4 L359.0,457.9 L362.2,458.4 L365.4,458.4 L367.8,458.2" fill="none" stroke="#e7999a" stroke-width="4.2" opacity="0.3" stroke-linejoin="round"/>
<path d="M288.6,458.3 L291.8,457.9 L295.0,458.5 L298.2,457.9 L301.4,458.4 L304.6,458.4 L307.8,457.9 L311.0,458.4 L314.2,458.1 L317.4,458.3 L320.6,457.9 L323.8,457.9 L327.0,458.0 L330.2,458.5 L333.4,458.0 L336.6,458.4 L339.8,458.5 L343.0,458.5 L346.2,458.1 L349.4,458.1 L352.6,458.2 L355.8,458.4 L359.0,457.9 L362.2,458.4 L365.4,458.4 L367.8,458.2" fill="none" stroke="#e7999a" stroke-width="3.0" opacity="0.95" stroke-linejoin="round"/>
<path d="M381.4,439.3 L393,439.3 L434,448.5 L434,461.9 L393,460.3 L381.4,460.3Z" fill="#e7999a" opacity="0.13"/>
<path d="M382.6,441.1 L385.8,440.5 L389.0,440.7 L392.2,440.9 L395.4,441.6 L398.6,441.9 L401.8,443.1 L405.0,443.5 L408.2,444.1 L411.4,444.8 L414.6,445.4 L417.8,446.1 L421.0,446.8 L424.2,447.9 L427.4,448.9 L430.6,449.0 L433.8,449.6 L433.9,450.0" fill="none" stroke="#e7999a" stroke-width="3.6" opacity="0.3" stroke-linejoin="round"/>
<path d="M382.6,441.1 L385.8,440.5 L389.0,440.7 L392.2,440.9 L395.4,441.6 L398.6,441.9 L401.8,443.1 L405.0,443.5 L408.2,444.1 L411.4,444.8 L414.6,445.4 L417.8,446.1 L421.0,446.8 L424.2,447.9 L427.4,448.9 L430.6,449.0 L433.8,449.6 L433.9,450.0" fill="none" stroke="#e7999a" stroke-width="2.4" opacity="0.95" stroke-linejoin="round"/>
<path d="M382.9,446.7 L386.1,446.6 L389.3,446.9 L392.5,447.0 L395.7,447.2 L398.9,447.7 L402.1,447.9 L405.3,449.1 L408.5,449.0 L411.7,449.8 L414.9,450.6 L418.1,450.6 L421.3,451.5 L424.5,452.2 L427.7,452.5 L430.9,453.1 L432.7,453.2" fill="none" stroke="#e7999a" stroke-width="3.6" opacity="0.3" stroke-linejoin="round"/>
<path d="M382.9,446.7 L386.1,446.6 L389.3,446.9 L392.5,447.0 L395.7,447.2 L398.9,447.7 L402.1,447.9 L405.3,449.1 L408.5,449.0 L411.7,449.8 L414.9,450.6 L418.1,450.6 L421.3,451.5 L424.5,452.2 L427.7,452.5 L430.9,453.1 L432.7,453.2" fill="none" stroke="#e7999a" stroke-width="2.4" opacity="0.95" stroke-linejoin="round"/>
<path d="M381.1,452.6 L384.3,453.0 L387.5,452.7 L390.7,452.8 L393.9,453.2 L397.1,453.4 L400.3,453.8 L403.5,453.8 L406.7,454.1 L409.9,454.6 L413.1,454.7 L416.3,454.9 L419.5,455.3 L422.7,455.5 L425.9,455.9 L429.1,456.7 L432.3,457.0 L432.9,456.7" fill="none" stroke="#e7999a" stroke-width="3.6" opacity="0.3" stroke-linejoin="round"/>
<path d="M381.1,452.6 L384.3,453.0 L387.5,452.7 L390.7,452.8 L393.9,453.2 L397.1,453.4 L400.3,453.8 L403.5,453.8 L406.7,454.1 L409.9,454.6 L413.1,454.7 L416.3,454.9 L419.5,455.3 L422.7,455.5 L425.9,455.9 L429.1,456.7 L432.3,457.0 L432.9,456.7" fill="none" stroke="#e7999a" stroke-width="2.4" opacity="0.95" stroke-linejoin="round"/>
<path d="M382.2,458.7 L385.4,458.5 L388.6,458.6 L391.8,459.0 L395.0,459.1 L398.2,458.9 L401.4,459.3 L404.6,459.4 L407.8,459.5 L411.0,459.6 L414.2,459.8 L417.4,459.7 L420.6,460.0 L423.8,459.8 L427.0,460.1 L430.2,460.4 L432.8,460.4" fill="none" stroke="#e7999a" stroke-width="3.6" opacity="0.3" stroke-linejoin="round"/>
<path d="M382.2,458.7 L385.4,458.5 L388.6,458.6 L391.8,459.0 L395.0,459.1 L398.2,458.9 L401.4,459.3 L404.6,459.4 L407.8,459.5 L411.0,459.6 L414.2,459.8 L417.4,459.7 L420.6,460.0 L423.8,459.8 L427.0,460.1 L430.2,460.4 L432.8,460.4" fill="none" stroke="#e7999a" stroke-width="2.4" opacity="0.95" stroke-linejoin="round"/>
<line x1="253.5" y1="495.5" x2="445.0" y2="495.5" stroke="#e9b983" stroke-width="1.0" opacity="0.55"/>
<path d="M296,470.1 L358,470.1 L358,470.1 L358,492.7 L358,492.7 L296,492.7Z" fill="#e9b983" opacity="0.13"/>
<path d="M296.9,471.9 L300.1,471.7 L303.3,471.7 L306.5,471.3 L309.7,471.6 L312.9,471.4 L316.1,471.7 L319.3,471.6 L322.5,471.8 L325.7,471.7 L328.9,471.8 L332.1,471.5 L335.3,471.7 L338.5,471.8 L341.7,471.8 L344.9,471.5 L348.1,471.8 L351.3,471.9 L354.5,471.7 L357.3,471.6" fill="none" stroke="#e9b983" stroke-width="3.5" opacity="0.3" stroke-linejoin="round"/>
<path d="M296.9,471.9 L300.1,471.7 L303.3,471.7 L306.5,471.3 L309.7,471.6 L312.9,471.4 L316.1,471.7 L319.3,471.6 L322.5,471.8 L325.7,471.7 L328.9,471.8 L332.1,471.5 L335.3,471.7 L338.5,471.8 L341.7,471.8 L344.9,471.5 L348.1,471.8 L351.3,471.9 L354.5,471.7 L357.3,471.6" fill="none" stroke="#e9b983" stroke-width="2.3" opacity="0.95" stroke-linejoin="round"/>
<path d="M297.5,476.6 L300.7,476.6 L303.9,476.4 L307.1,476.8 L310.3,476.9 L313.5,476.6 L316.7,476.7 L319.9,476.8 L323.1,476.8 L326.3,476.4 L329.5,476.8 L332.7,476.7 L335.9,476.7 L339.1,476.5 L342.3,476.7 L345.5,476.8 L348.7,476.7 L351.9,476.8 L355.1,476.3 L355.6,476.6" fill="none" stroke="#e9b983" stroke-width="3.5" opacity="0.3" stroke-linejoin="round"/>
<path d="M297.5,476.6 L300.7,476.6 L303.9,476.4 L307.1,476.8 L310.3,476.9 L313.5,476.6 L316.7,476.7 L319.9,476.8 L323.1,476.8 L326.3,476.4 L329.5,476.8 L332.7,476.7 L335.9,476.7 L339.1,476.5 L342.3,476.7 L345.5,476.8 L348.7,476.7 L351.9,476.8 L355.1,476.3 L355.6,476.6" fill="none" stroke="#e9b983" stroke-width="2.3" opacity="0.95" stroke-linejoin="round"/>
<path d="M295.8,481.7 L299.0,481.4 L302.2,481.7 L305.4,481.7 L308.6,481.3 L311.8,481.6 L315.0,481.4 L318.2,481.3 L321.4,481.3 L324.6,481.5 L327.8,481.4 L331.0,481.4 L334.2,481.3 L337.4,481.6 L340.6,481.5 L343.8,481.7 L347.0,481.7 L350.2,481.4 L353.4,481.9 L356.6,481.3 L356.9,481.6" fill="none" stroke="#e9b983" stroke-width="3.5" opacity="0.3" stroke-linejoin="round"/>
<path d="M295.8,481.7 L299.0,481.4 L302.2,481.7 L305.4,481.7 L308.6,481.3 L311.8,481.6 L315.0,481.4 L318.2,481.3 L321.4,481.3 L324.6,481.5 L327.8,481.4 L331.0,481.4 L334.2,481.3 L337.4,481.6 L340.6,481.5 L343.8,481.7 L347.0,481.7 L350.2,481.4 L353.4,481.9 L356.6,481.3 L356.9,481.6" fill="none" stroke="#e9b983" stroke-width="2.3" opacity="0.95" stroke-linejoin="round"/>
<path d="M296.3,486.5 L299.5,486.3 L302.7,486.8 L305.9,486.5 L309.1,486.3 L312.3,486.7 L315.5,486.3 L318.7,486.6 L321.9,486.5 L325.1,486.7 L328.3,486.9 L331.5,486.8 L334.7,486.5 L337.9,486.8 L341.1,486.7 L344.3,486.5 L347.5,486.3 L350.7,486.7 L353.9,486.6 L357.1,486.9 L357.3,486.6" fill="none" stroke="#e9b983" stroke-width="3.5" opacity="0.3" stroke-linejoin="round"/>
<path d="M296.3,486.5 L299.5,486.3 L302.7,486.8 L305.9,486.5 L309.1,486.3 L312.3,486.7 L315.5,486.3 L318.7,486.6 L321.9,486.5 L325.1,486.7 L328.3,486.9 L331.5,486.8 L334.7,486.5 L337.9,486.8 L341.1,486.7 L344.3,486.5 L347.5,486.3 L350.7,486.7 L353.9,486.6 L357.1,486.9 L357.3,486.6" fill="none" stroke="#e9b983" stroke-width="2.3" opacity="0.95" stroke-linejoin="round"/>
<path d="M297.4,491.1 L300.6,491.5 L303.8,490.9 L307.0,490.9 L310.2,491.2 L313.4,491.3 L316.6,490.9 L319.8,491.3 L323.0,491.5 L326.2,491.1 L329.4,491.2 L332.6,491.0 L335.8,491.1 L339.0,491.5 L342.2,491.1 L345.4,491.5 L348.6,491.5 L351.8,491.3 L355.0,491.0 L356.5,491.2" fill="none" stroke="#e9b983" stroke-width="3.5" opacity="0.3" stroke-linejoin="round"/>
<path d="M297.4,491.1 L300.6,491.5 L303.8,490.9 L307.0,490.9 L310.2,491.2 L313.4,491.3 L316.6,490.9 L319.8,491.3 L323.0,491.5 L326.2,491.1 L329.4,491.2 L332.6,491.0 L335.8,491.1 L339.0,491.5 L342.2,491.1 L345.4,491.5 L348.6,491.5 L351.8,491.3 L355.0,491.0 L356.5,491.2" fill="none" stroke="#e9b983" stroke-width="2.3" opacity="0.95" stroke-linejoin="round"/>
<path d="M370.3,469.5 L402,469.5 L441,475.5 L441,493.5 L402,492.5 L370.3,492.5Z" fill="#e9b983" opacity="0.13"/>
<path d="M371.8,470.9 L375.0,470.9 L378.2,471.3 L381.4,471.0 L384.6,470.9 L387.8,471.0 L391.0,470.7 L394.2,471.1 L397.4,471.0 L400.6,470.9 L403.8,471.5 L407.0,472.0 L410.2,471.9 L413.4,472.8 L416.6,473.1 L419.8,474.0 L423.0,474.4 L426.2,474.5 L429.4,475.0 L432.6,475.5 L435.8,476.5 L439.0,476.5 L439.8,476.8" fill="none" stroke="#e9b983" stroke-width="3.5" opacity="0.3" stroke-linejoin="round"/>
<path d="M371.8,470.9 L375.0,470.9 L378.2,471.3 L381.4,471.0 L384.6,470.9 L387.8,471.0 L391.0,470.7 L394.2,471.1 L397.4,471.0 L400.6,470.9 L403.8,471.5 L407.0,472.0 L410.2,471.9 L413.4,472.8 L416.6,473.1 L419.8,474.0 L423.0,474.4 L426.2,474.5 L429.4,475.0 L432.6,475.5 L435.8,476.5 L439.0,476.5 L439.8,476.8" fill="none" stroke="#e9b983" stroke-width="2.3" opacity="0.95" stroke-linejoin="round"/>
<path d="M371.0,476.1 L374.2,476.1 L377.4,476.2 L380.6,475.7 L383.8,476.2 L387.0,475.9 L390.2,476.0 L393.4,475.9 L396.6,475.9 L399.8,476.0 L403.0,476.1 L406.2,476.4 L409.4,477.0 L412.6,477.3 L415.8,477.3 L419.0,477.8 L422.2,478.4 L425.4,479.1 L428.6,479.4 L431.8,479.5 L435.0,479.6 L438.2,480.5 L439.8,480.5" fill="none" stroke="#e9b983" stroke-width="3.5" opacity="0.3" stroke-linejoin="round"/>
<path d="M371.0,476.1 L374.2,476.1 L377.4,476.2 L380.6,475.7 L383.8,476.2 L387.0,475.9 L390.2,476.0 L393.4,475.9 L396.6,475.9 L399.8,476.0 L403.0,476.1 L406.2,476.4 L409.4,477.0 L412.6,477.3 L415.8,477.3 L419.0,477.8 L422.2,478.4 L425.4,479.1 L428.6,479.4 L431.8,479.5 L435.0,479.6 L438.2,480.5 L439.8,480.5" fill="none" stroke="#e9b983" stroke-width="2.3" opacity="0.95" stroke-linejoin="round"/>
<path d="M370.7,481.1 L373.9,481.1 L377.1,481.0 L380.3,481.3 L383.5,480.9 L386.7,480.9 L389.9,481.2 L393.1,480.8 L396.3,480.9 L399.5,481.2 L402.7,480.8 L405.9,481.6 L409.1,481.8 L412.3,481.8 L415.5,482.0 L418.7,482.6 L421.9,483.0 L425.1,482.8 L428.3,483.3 L431.5,483.6 L434.7,483.8 L437.9,484.0 L439.6,484.3" fill="none" stroke="#e9b983" stroke-width="3.5" opacity="0.3" stroke-linejoin="round"/>
<path d="M370.7,481.1 L373.9,481.1 L377.1,481.0 L380.3,481.3 L383.5,480.9 L386.7,480.9 L389.9,481.2 L393.1,480.8 L396.3,480.9 L399.5,481.2 L402.7,480.8 L405.9,481.6 L409.1,481.8 L412.3,481.8 L415.5,482.0 L418.7,482.6 L421.9,483.0 L425.1,482.8 L428.3,483.3 L431.5,483.6 L434.7,483.8 L437.9,484.0 L439.6,484.3" fill="none" stroke="#e9b983" stroke-width="2.3" opacity="0.95" stroke-linejoin="round"/>
<path d="M370.1,486.2 L373.3,485.7 L376.5,485.8 L379.7,486.2 L382.9,486.2 L386.1,486.1 L389.3,485.7 L392.5,486.2 L395.7,486.3 L398.9,486.3 L402.1,486.1 L405.3,485.9 L408.5,486.6 L411.7,486.4 L414.9,486.9 L418.1,487.3 L421.3,487.3 L424.5,487.1 L427.7,487.4 L430.9,488.0 L434.1,487.6 L437.3,488.2 L439.5,488.2" fill="none" stroke="#e9b983" stroke-width="3.5" opacity="0.3" stroke-linejoin="round"/>
<path d="M370.1,486.2 L373.3,485.7 L376.5,485.8 L379.7,486.2 L382.9,486.2 L386.1,486.1 L389.3,485.7 L392.5,486.2 L395.7,486.3 L398.9,486.3 L402.1,486.1 L405.3,485.9 L408.5,486.6 L411.7,486.4 L414.9,486.9 L418.1,487.3 L421.3,487.3 L424.5,487.1 L427.7,487.4 L430.9,488.0 L434.1,487.6 L437.3,488.2 L439.5,488.2" fill="none" stroke="#e9b983" stroke-width="2.3" opacity="0.95" stroke-linejoin="round"/>
<path d="M370.6,491.1 L373.8,490.7 L377.0,490.7 L380.2,490.9 L383.4,490.7 L386.6,490.7 L389.8,491.1 L393.0,491.2 L396.2,491.3 L399.4,490.7 L402.6,491.0 L405.8,491.0 L409.0,491.3 L412.2,491.3 L415.4,491.7 L418.6,491.3 L421.8,491.2 L425.0,491.7 L428.2,491.4 L431.4,491.8 L434.6,491.8 L437.8,492.2 L440.6,492.0" fill="none" stroke="#e9b983" stroke-width="3.5" opacity="0.3" stroke-linejoin="round"/>
<path d="M370.6,491.1 L373.8,490.7 L377.0,490.7 L380.2,490.9 L383.4,490.7 L386.6,490.7 L389.8,491.1 L393.0,491.2 L396.2,491.3 L399.4,490.7 L402.6,491.0 L405.8,491.0 L409.0,491.3 L412.2,491.3 L415.4,491.7 L418.6,491.3 L421.8,491.2 L425.0,491.7 L428.2,491.4 L431.4,491.8 L434.6,491.8 L437.8,492.2 L440.6,492.0" fill="none" stroke="#e9b983" stroke-width="2.3" opacity="0.95" stroke-linejoin="round"/>
<line x1="253.5" y1="524.5" x2="445.0" y2="524.5" stroke="#dbbf5c" stroke-width="1.0" opacity="0.55"/>
<path d="M287.4,500.3 L334.7,500.3 L334.7,500.3 L334.7,520.9 L334.7,520.9 L287.4,520.9Z" fill="#dbbf5c" opacity="0.13"/>
<path d="M288.0,501.6 L291.2,501.8 L294.4,501.6 L297.6,502.0 L300.8,501.8 L304.0,501.5 L307.2,501.6 L310.4,501.7 L313.6,502.0 L316.8,501.6 L320.0,501.9 L323.2,501.9 L326.4,501.5 L329.6,501.9 L332.8,501.5 L333.1,501.8" fill="none" stroke="#dbbf5c" stroke-width="3.4" opacity="0.3" stroke-linejoin="round"/>
<path d="M288.0,501.6 L291.2,501.8 L294.4,501.6 L297.6,502.0 L300.8,501.8 L304.0,501.5 L307.2,501.6 L310.4,501.7 L313.6,502.0 L316.8,501.6 L320.0,501.9 L323.2,501.9 L326.4,501.5 L329.6,501.9 L332.8,501.5 L333.1,501.8" fill="none" stroke="#dbbf5c" stroke-width="2.2" opacity="0.95" stroke-linejoin="round"/>
<path d="M287.1,505.6 L290.3,506.1 L293.5,505.8 L296.7,505.7 L299.9,506.0 L303.1,505.5 L306.3,506.0 L309.5,505.5 L312.7,505.6 L315.9,506.1 L319.1,505.9 L322.3,505.6 L325.5,505.5 L328.7,506.1 L331.9,505.9 L333.2,505.8" fill="none" stroke="#dbbf5c" stroke-width="3.4" opacity="0.3" stroke-linejoin="round"/>
<path d="M287.1,505.6 L290.3,506.1 L293.5,505.8 L296.7,505.7 L299.9,506.0 L303.1,505.5 L306.3,506.0 L309.5,505.5 L312.7,505.6 L315.9,506.1 L319.1,505.9 L322.3,505.6 L325.5,505.5 L328.7,506.1 L331.9,505.9 L333.2,505.8" fill="none" stroke="#dbbf5c" stroke-width="2.2" opacity="0.95" stroke-linejoin="round"/>
<path d="M288.5,510.3 L291.7,510.1 L294.9,510.0 L298.1,510.1 L301.3,510.3 L304.5,510.1 L307.7,510.1 L310.9,509.9 L314.1,510.4 L317.3,510.3 L320.5,510.4 L323.7,510.2 L326.9,510.4 L330.1,510.2 L333.3,510.3 L334.4,510.2" fill="none" stroke="#dbbf5c" stroke-width="3.4" opacity="0.3" stroke-linejoin="round"/>
<path d="M288.5,510.3 L291.7,510.1 L294.9,510.0 L298.1,510.1 L301.3,510.3 L304.5,510.1 L307.7,510.1 L310.9,509.9 L314.1,510.4 L317.3,510.3 L320.5,510.4 L323.7,510.2 L326.9,510.4 L330.1,510.2 L333.3,510.3 L334.4,510.2" fill="none" stroke="#dbbf5c" stroke-width="2.2" opacity="0.95" stroke-linejoin="round"/>
<path d="M288.0,514.3 L291.2,514.1 L294.4,514.1 L297.6,514.2 L300.8,514.1 L304.0,514.7 L307.2,514.4 L310.4,514.6 L313.6,514.1 L316.8,514.4 L320.0,514.7 L323.2,514.5 L326.4,514.4 L329.6,514.4 L332.8,514.1 L332.8,514.4" fill="none" stroke="#dbbf5c" stroke-width="3.4" opacity="0.3" stroke-linejoin="round"/>
<path d="M288.0,514.3 L291.2,514.1 L294.4,514.1 L297.6,514.2 L300.8,514.1 L304.0,514.7 L307.2,514.4 L310.4,514.6 L313.6,514.1 L316.8,514.4 L320.0,514.7 L323.2,514.5 L326.4,514.4 L329.6,514.4 L332.8,514.1 L332.8,514.4" fill="none" stroke="#dbbf5c" stroke-width="2.2" opacity="0.95" stroke-linejoin="round"/>
<path d="M287.2,519.3 L290.4,519.3 L293.6,519.7 L296.8,519.2 L300.0,519.2 L303.2,519.2 L306.4,519.2 L309.6,519.3 L312.8,519.2 L316.0,519.4 L319.2,519.1 L322.4,519.7 L325.6,519.3 L328.8,519.7 L332.0,519.5 L334.3,519.4" fill="none" stroke="#dbbf5c" stroke-width="3.4" opacity="0.3" stroke-linejoin="round"/>
<path d="M287.2,519.3 L290.4,519.3 L293.6,519.7 L296.8,519.2 L300.0,519.2 L303.2,519.2 L306.4,519.2 L309.6,519.3 L312.8,519.2 L316.0,519.4 L319.2,519.1 L322.4,519.7 L325.6,519.3 L328.8,519.7 L332.0,519.5 L334.3,519.4" fill="none" stroke="#dbbf5c" stroke-width="2.2" opacity="0.95" stroke-linejoin="round"/>
<path d="M396,501.7 L412,501.7 L432.5,504.0 L432.5,522.1 L412,521.5 L396,521.5Z" fill="#dbbf5c" opacity="0.13"/>
<path d="M396.8,503.5 L400.0,502.9 L403.2,503.3 L406.4,503.1 L409.6,503.3 L412.8,503.5 L416.0,503.4 L419.2,503.8 L422.4,504.0 L425.6,504.5 L428.8,504.8 L431.3,505.4" fill="none" stroke="#dbbf5c" stroke-width="3.5" opacity="0.3" stroke-linejoin="round"/>
<path d="M396.8,503.5 L400.0,502.9 L403.2,503.3 L406.4,503.1 L409.6,503.3 L412.8,503.5 L416.0,503.4 L419.2,503.8 L422.4,504.0 L425.6,504.5 L428.8,504.8 L431.3,505.4" fill="none" stroke="#dbbf5c" stroke-width="2.3" opacity="0.95" stroke-linejoin="round"/>
<path d="M396.3,507.3 L399.5,507.3 L402.7,507.4 L405.9,507.2 L409.1,507.6 L412.3,507.6 L415.5,507.5 L418.7,507.8 L421.9,508.4 L425.1,508.9 L428.3,509.0 L430.1,509.1" fill="none" stroke="#dbbf5c" stroke-width="3.5" opacity="0.3" stroke-linejoin="round"/>
<path d="M396.3,507.3 L399.5,507.3 L402.7,507.4 L405.9,507.2 L409.1,507.6 L412.3,507.6 L415.5,507.5 L418.7,507.8 L421.9,508.4 L425.1,508.9 L428.3,509.0 L430.1,509.1" fill="none" stroke="#dbbf5c" stroke-width="2.3" opacity="0.95" stroke-linejoin="round"/>
<path d="M396.4,511.3 L399.6,511.3 L402.8,511.8 L406.0,511.5 L409.2,511.3 L412.4,511.7 L415.6,512.2 L418.8,512.1 L422.0,512.3 L425.2,512.3 L428.4,512.6 L430.1,513.0" fill="none" stroke="#dbbf5c" stroke-width="3.5" opacity="0.3" stroke-linejoin="round"/>
<path d="M396.4,511.3 L399.6,511.3 L402.8,511.8 L406.0,511.5 L409.2,511.3 L412.4,511.7 L415.6,512.2 L418.8,512.1 L422.0,512.3 L425.2,512.3 L428.4,512.6 L430.1,513.0" fill="none" stroke="#dbbf5c" stroke-width="2.3" opacity="0.95" stroke-linejoin="round"/>
<path d="M397.3,516.1 L400.5,515.5 L403.7,515.6 L406.9,515.5 L410.1,515.7 L413.3,515.6 L416.5,515.9 L419.7,516.2 L422.9,516.3 L426.1,516.3 L429.3,516.5 L431.3,516.9" fill="none" stroke="#dbbf5c" stroke-width="3.5" opacity="0.3" stroke-linejoin="round"/>
<path d="M397.3,516.1 L400.5,515.5 L403.7,515.6 L406.9,515.5 L410.1,515.7 L413.3,515.6 L416.5,515.9 L419.7,516.2 L422.9,516.3 L426.1,516.3 L429.3,516.5 L431.3,516.9" fill="none" stroke="#dbbf5c" stroke-width="2.3" opacity="0.95" stroke-linejoin="round"/>
<path d="M397.4,520.0 L400.6,519.9 L403.8,520.0 L407.0,519.7 L410.2,519.9 L413.4,519.8 L416.6,520.2 L419.8,520.5 L423.0,520.4 L426.2,520.7 L429.4,520.3 L432.1,520.6" fill="none" stroke="#dbbf5c" stroke-width="3.5" opacity="0.3" stroke-linejoin="round"/>
<path d="M397.4,520.0 L400.6,519.9 L403.8,520.0 L407.0,519.7 L410.2,519.9 L413.4,519.8 L416.6,520.2 L419.8,520.5 L423.0,520.4 L426.2,520.7 L429.4,520.3 L432.1,520.6" fill="none" stroke="#dbbf5c" stroke-width="2.3" opacity="0.95" stroke-linejoin="round"/>
<line x1="253.5" y1="553.5" x2="445.0" y2="553.5" stroke="#a4af60" stroke-width="1.0" opacity="0.55"/>
<path d="M285,531.1 L363.3,531.1 L363.3,531.1 L363.3,548.2 L363.3,548.2 L285,548.2Z" fill="#a4af60" opacity="0.13"/>
<path d="M284.5,532.6 L287.7,532.6 L290.9,532.5 L294.1,532.7 L297.3,532.8 L300.5,532.9 L303.7,532.5 L306.9,532.6 L310.1,532.8 L313.3,532.4 L316.5,532.3 L319.7,532.5 L322.9,532.3 L326.1,532.8 L329.3,532.8 L332.5,532.5 L335.7,532.3 L338.9,532.3 L342.1,532.4 L345.3,532.3 L348.5,532.6 L351.7,532.7 L354.9,532.4 L358.1,532.3 L361.3,532.7 L362.0,532.6" fill="none" stroke="#a4af60" stroke-width="3.6" opacity="0.3" stroke-linejoin="round"/>
<path d="M284.5,532.6 L287.7,532.6 L290.9,532.5 L294.1,532.7 L297.3,532.8 L300.5,532.9 L303.7,532.5 L306.9,532.6 L310.1,532.8 L313.3,532.4 L316.5,532.3 L319.7,532.5 L322.9,532.3 L326.1,532.8 L329.3,532.8 L332.5,532.5 L335.7,532.3 L338.9,532.3 L342.1,532.4 L345.3,532.3 L348.5,532.6 L351.7,532.7 L354.9,532.4 L358.1,532.3 L361.3,532.7 L362.0,532.6" fill="none" stroke="#a4af60" stroke-width="2.4" opacity="0.95" stroke-linejoin="round"/>
<path d="M284.6,539.8 L287.8,539.8 L291.0,539.6 L294.2,539.8 L297.4,539.8 L300.6,540.1 L303.8,539.9 L307.0,540.2 L310.2,540.0 L313.4,540.1 L316.6,540.0 L319.8,539.9 L323.0,540.1 L326.2,540.0 L329.4,540.2 L332.6,540.1 L335.8,540.0 L339.0,539.7 L342.2,540.1 L345.4,539.8 L348.6,539.6 L351.8,539.6 L355.0,539.7 L358.2,539.7 L361.4,540.0 L362.8,539.9" fill="none" stroke="#a4af60" stroke-width="4.2" opacity="0.3" stroke-linejoin="round"/>
<path d="M284.6,539.8 L287.8,539.8 L291.0,539.6 L294.2,539.8 L297.4,539.8 L300.6,540.1 L303.8,539.9 L307.0,540.2 L310.2,540.0 L313.4,540.1 L316.6,540.0 L319.8,539.9 L323.0,540.1 L326.2,540.0 L329.4,540.2 L332.6,540.1 L335.8,540.0 L339.0,539.7 L342.2,540.1 L345.4,539.8 L348.6,539.6 L351.8,539.6 L355.0,539.7 L358.2,539.7 L361.4,540.0 L362.8,539.9" fill="none" stroke="#a4af60" stroke-width="3.0" opacity="0.95" stroke-linejoin="round"/>
<path d="M285.1,546.9 L288.3,546.7 L291.5,546.4 L294.7,546.4 L297.9,546.4 L301.1,546.6 L304.3,547.0 L307.5,547.0 L310.7,546.8 L313.9,546.5 L317.1,546.7 L320.3,546.6 L323.5,546.6 L326.7,546.4 L329.9,546.8 L333.1,546.9 L336.3,546.9 L339.5,546.4 L342.7,546.7 L345.9,546.5 L349.1,546.8 L352.3,546.7 L355.5,547.0 L358.7,546.9 L361.9,546.4 L363.1,546.7" fill="none" stroke="#a4af60" stroke-width="4.2" opacity="0.3" stroke-linejoin="round"/>
<path d="M285.1,546.9 L288.3,546.7 L291.5,546.4 L294.7,546.4 L297.9,546.4 L301.1,546.6 L304.3,547.0 L307.5,547.0 L310.7,546.8 L313.9,546.5 L317.1,546.7 L320.3,546.6 L323.5,546.6 L326.7,546.4 L329.9,546.8 L333.1,546.9 L336.3,546.9 L339.5,546.4 L342.7,546.7 L345.9,546.5 L349.1,546.8 L352.3,546.7 L355.5,547.0 L358.7,546.9 L361.9,546.4 L363.1,546.7" fill="none" stroke="#a4af60" stroke-width="3.0" opacity="0.95" stroke-linejoin="round"/>
<path d="M381.4,530.5 L400,530.5 L429.6,532.5 L429.6,552.9 L400,552.5 L381.4,552.5Z" fill="#a4af60" opacity="0.13"/>
<path d="M381.5,532.0 L384.7,532.0 L387.9,532.0 L391.1,532.2 L394.3,532.3 L397.5,532.0 L400.7,532.4 L403.9,532.3 L407.1,532.2 L410.3,532.9 L413.5,532.9 L416.7,532.8 L419.9,533.7 L423.1,533.2 L426.3,533.8 L427.3,533.8" fill="none" stroke="#a4af60" stroke-width="4.5" opacity="0.3" stroke-linejoin="round"/>
<path d="M381.5,532.0 L384.7,532.0 L387.9,532.0 L391.1,532.2 L394.3,532.3 L397.5,532.0 L400.7,532.4 L403.9,532.3 L407.1,532.2 L410.3,532.9 L413.5,532.9 L416.7,532.8 L419.9,533.7 L423.1,533.2 L426.3,533.8 L427.3,533.8" fill="none" stroke="#a4af60" stroke-width="3.3" opacity="0.95" stroke-linejoin="round"/>
<path d="M381.9,536.7 L385.1,536.6 L388.3,536.6 L391.5,536.6 L394.7,536.8 L397.9,536.7 L401.1,537.0 L404.3,536.9 L407.5,537.1 L410.7,537.2 L413.9,537.9 L417.1,538.0 L420.3,538.2 L423.5,538.2 L426.7,538.3 L427.4,538.4" fill="none" stroke="#a4af60" stroke-width="4.5" opacity="0.3" stroke-linejoin="round"/>
<path d="M381.9,536.7 L385.1,536.6 L388.3,536.6 L391.5,536.6 L394.7,536.8 L397.9,536.7 L401.1,537.0 L404.3,536.9 L407.5,537.1 L410.7,537.2 L413.9,537.9 L417.1,538.0 L420.3,538.2 L423.5,538.2 L426.7,538.3 L427.4,538.4" fill="none" stroke="#a4af60" stroke-width="3.3" opacity="0.95" stroke-linejoin="round"/>
<path d="M381.2,541.6 L384.4,541.3 L387.6,541.4 L390.8,541.3 L394.0,541.8 L397.2,541.9 L400.4,541.4 L403.6,542.0 L406.8,541.8 L410.0,542.2 L413.2,542.5 L416.4,542.5 L419.6,542.7 L422.8,542.6 L426.0,542.5 L427.5,542.9" fill="none" stroke="#a4af60" stroke-width="4.5" opacity="0.3" stroke-linejoin="round"/>
<path d="M381.2,541.6 L384.4,541.3 L387.6,541.4 L390.8,541.3 L394.0,541.8 L397.2,541.9 L400.4,541.4 L403.6,542.0 L406.8,541.8 L410.0,542.2 L413.2,542.5 L416.4,542.5 L419.6,542.7 L422.8,542.6 L426.0,542.5 L427.5,542.9" fill="none" stroke="#a4af60" stroke-width="3.3" opacity="0.95" stroke-linejoin="round"/>
<path d="M381.9,546.2 L385.1,546.3 L388.3,546.3 L391.5,546.1 L394.7,546.3 L397.9,546.3 L401.1,546.4 L404.3,546.7 L407.5,546.6 L410.7,547.1 L413.9,547.1 L417.1,547.3 L420.3,547.2 L423.5,547.3 L426.7,547.3 L428.1,547.4" fill="none" stroke="#a4af60" stroke-width="4.5" opacity="0.3" stroke-linejoin="round"/>
<path d="M381.9,546.2 L385.1,546.3 L388.3,546.3 L391.5,546.1 L394.7,546.3 L397.9,546.3 L401.1,546.4 L404.3,546.7 L407.5,546.6 L410.7,547.1 L413.9,547.1 L417.1,547.3 L420.3,547.2 L423.5,547.3 L426.7,547.3 L428.1,547.4" fill="none" stroke="#a4af60" stroke-width="3.3" opacity="0.95" stroke-linejoin="round"/>
<path d="M382.5,551.1 L385.7,551.1 L388.9,551.0 L392.1,550.8 L395.3,550.7 L398.5,550.7 L401.7,550.9 L404.9,551.1 L408.1,551.3 L411.3,551.3 L414.5,551.1 L417.7,551.5 L420.9,551.1 L424.1,551.5 L427.3,551.1 L428.7,551.4" fill="none" stroke="#a4af60" stroke-width="4.5" opacity="0.3" stroke-linejoin="round"/>
<path d="M382.5,551.1 L385.7,551.1 L388.9,551.0 L392.1,550.8 L395.3,550.7 L398.5,550.7 L401.7,550.9 L404.9,551.1 L408.1,551.3 L411.3,551.3 L414.5,551.1 L417.7,551.5 L420.9,551.1 L424.1,551.5 L427.3,551.1 L428.7,551.4" fill="none" stroke="#a4af60" stroke-width="3.3" opacity="0.95" stroke-linejoin="round"/>
<line x1="253.5" y1="583.5" x2="445.0" y2="583.5" stroke="#7a9833" stroke-width="1.0" opacity="0.55"/>
<path d="M269,555.9 L343.4,555.9 L343.4,555.9 L343.4,578.3 L343.4,578.3 L269,578.3Z" fill="#7a9833" opacity="0.13"/>
<path d="M270.0,557.7 L273.2,557.7 L276.4,557.5 L279.6,557.6 L282.8,557.6 L286.0,557.5 L289.2,557.2 L292.4,557.4 L295.6,557.7 L298.8,557.2 L302.0,557.7 L305.2,557.4 L308.4,557.3 L311.6,557.1 L314.8,557.3 L318.0,557.2 L321.2,557.5 L324.4,557.7 L327.6,557.7 L330.8,557.5 L334.0,557.3 L337.2,557.1 L340.4,557.5 L341.7,557.4" fill="none" stroke="#7a9833" stroke-width="3.8" opacity="0.3" stroke-linejoin="round"/>
<path d="M270.0,557.7 L273.2,557.7 L276.4,557.5 L279.6,557.6 L282.8,557.6 L286.0,557.5 L289.2,557.2 L292.4,557.4 L295.6,557.7 L298.8,557.2 L302.0,557.7 L305.2,557.4 L308.4,557.3 L311.6,557.1 L314.8,557.3 L318.0,557.2 L321.2,557.5 L324.4,557.7 L327.6,557.7 L330.8,557.5 L334.0,557.3 L337.2,557.1 L340.4,557.5 L341.7,557.4" fill="none" stroke="#7a9833" stroke-width="2.6" opacity="0.95" stroke-linejoin="round"/>
<path d="M269.6,561.7 L272.8,562.1 L276.0,561.6 L279.2,561.7 L282.4,561.6 L285.6,561.9 L288.8,562.1 L292.0,561.6 L295.2,561.9 L298.4,562.0 L301.6,561.6 L304.8,561.5 L308.0,561.8 L311.2,562.0 L314.4,562.1 L317.6,562.0 L320.8,561.7 L324.0,561.7 L327.2,561.8 L330.4,562.1 L333.6,561.7 L336.8,561.6 L340.0,561.9 L341.6,561.8" fill="none" stroke="#7a9833" stroke-width="3.8" opacity="0.3" stroke-linejoin="round"/>
<path d="M269.6,561.7 L272.8,562.1 L276.0,561.6 L279.2,561.7 L282.4,561.6 L285.6,561.9 L288.8,562.1 L292.0,561.6 L295.2,561.9 L298.4,562.0 L301.6,561.6 L304.8,561.5 L308.0,561.8 L311.2,562.0 L314.4,562.1 L317.6,562.0 L320.8,561.7 L324.0,561.7 L327.2,561.8 L330.4,562.1 L333.6,561.7 L336.8,561.6 L340.0,561.9 L341.6,561.8" fill="none" stroke="#7a9833" stroke-width="2.6" opacity="0.95" stroke-linejoin="round"/>
<path d="M270.4,566.3 L273.6,566.3 L276.8,566.6 L280.0,566.7 L283.2,566.4 L286.4,566.4 L289.6,566.7 L292.8,566.7 L296.0,566.7 L299.2,566.8 L302.4,566.3 L305.6,566.6 L308.8,566.8 L312.0,566.9 L315.2,566.5 L318.4,566.8 L321.6,566.7 L324.8,566.9 L328.0,566.4 L331.2,566.7 L334.4,566.8 L337.6,566.6 L340.8,566.3 L342.9,566.6" fill="none" stroke="#7a9833" stroke-width="3.8" opacity="0.3" stroke-linejoin="round"/>
<path d="M270.4,566.3 L273.6,566.3 L276.8,566.6 L280.0,566.7 L283.2,566.4 L286.4,566.4 L289.6,566.7 L292.8,566.7 L296.0,566.7 L299.2,566.8 L302.4,566.3 L305.6,566.6 L308.8,566.8 L312.0,566.9 L315.2,566.5 L318.4,566.8 L321.6,566.7 L324.8,566.9 L328.0,566.4 L331.2,566.7 L334.4,566.8 L337.6,566.6 L340.8,566.3 L342.9,566.6" fill="none" stroke="#7a9833" stroke-width="2.6" opacity="0.95" stroke-linejoin="round"/>
<path d="M268.9,571.3 L272.1,571.4 L275.3,571.7 L278.5,571.3 L281.7,571.8 L284.9,571.8 L288.1,571.8 L291.3,571.8 L294.5,571.7 L297.7,571.9 L300.9,571.9 L304.1,571.7 L307.3,571.9 L310.5,571.3 L313.7,571.3 L316.9,571.3 L320.1,571.4 L323.3,571.5 L326.5,571.6 L329.7,571.7 L332.9,571.8 L336.1,571.3 L339.3,571.5 L342.5,571.6 L343.0,571.6" fill="none" stroke="#7a9833" stroke-width="3.8" opacity="0.3" stroke-linejoin="round"/>
<path d="M268.9,571.3 L272.1,571.4 L275.3,571.7 L278.5,571.3 L281.7,571.8 L284.9,571.8 L288.1,571.8 L291.3,571.8 L294.5,571.7 L297.7,571.9 L300.9,571.9 L304.1,571.7 L307.3,571.9 L310.5,571.3 L313.7,571.3 L316.9,571.3 L320.1,571.4 L323.3,571.5 L326.5,571.6 L329.7,571.7 L332.9,571.8 L336.1,571.3 L339.3,571.5 L342.5,571.6 L343.0,571.6" fill="none" stroke="#7a9833" stroke-width="2.6" opacity="0.95" stroke-linejoin="round"/>
<path d="M269.3,576.9 L272.5,576.7 L275.7,576.9 L278.9,576.8 L282.1,577.1 L285.3,577.1 L288.5,576.5 L291.7,577.0 L294.9,577.0 L298.1,576.7 L301.3,576.5 L304.5,576.8 L307.7,576.7 L310.9,577.0 L314.1,577.1 L317.3,576.7 L320.5,576.7 L323.7,576.8 L326.9,576.9 L330.1,577.0 L333.3,576.9 L336.5,576.7 L339.7,576.7 L342.9,577.0 L343.1,576.8" fill="none" stroke="#7a9833" stroke-width="3.8" opacity="0.3" stroke-linejoin="round"/>
<path d="M269.3,576.9 L272.5,576.7 L275.7,576.9 L278.9,576.8 L282.1,577.1 L285.3,577.1 L288.5,576.5 L291.7,577.0 L294.9,577.0 L298.1,576.7 L301.3,576.5 L304.5,576.8 L307.7,576.7 L310.9,577.0 L314.1,577.1 L317.3,576.7 L320.5,576.7 L323.7,576.8 L326.9,576.9 L330.1,577.0 L333.3,576.9 L336.5,576.7 L339.7,576.7 L342.9,577.0 L343.1,576.8" fill="none" stroke="#7a9833" stroke-width="2.6" opacity="0.95" stroke-linejoin="round"/>
<path d="M386.6,556.5 L400,556.5 L432.5,562.0 L432.5,579.5 L400,578.5 L386.6,578.5Z" fill="#7a9833" opacity="0.13"/>
<path d="M387.1,557.9 L390.3,557.8 L393.5,558.1 L396.7,557.7 L399.9,557.8 L403.1,558.2 L406.3,559.1 L409.5,560.0 L412.7,560.2 L415.9,560.6 L419.1,561.5 L422.3,561.5 L425.5,562.2 L428.7,563.1 L431.9,563.1 L432.4,563.5" fill="none" stroke="#7a9833" stroke-width="4.3" opacity="0.3" stroke-linejoin="round"/>
<path d="M387.1,557.9 L390.3,557.8 L393.5,558.1 L396.7,557.7 L399.9,557.8 L403.1,558.2 L406.3,559.1 L409.5,560.0 L412.7,560.2 L415.9,560.6 L419.1,561.5 L422.3,561.5 L425.5,562.2 L428.7,563.1 L431.9,563.1 L432.4,563.5" fill="none" stroke="#7a9833" stroke-width="3.1" opacity="0.95" stroke-linejoin="round"/>
<path d="M387.6,562.3 L390.8,562.4 L394.0,562.6 L397.2,562.5 L400.4,562.7 L403.6,562.8 L406.8,563.3 L410.0,564.3 L413.2,564.4 L416.4,564.8 L419.6,565.0 L422.8,565.5 L426.0,566.4 L429.2,566.7 L431.6,566.9" fill="none" stroke="#7a9833" stroke-width="4.3" opacity="0.3" stroke-linejoin="round"/>
<path d="M387.6,562.3 L390.8,562.4 L394.0,562.6 L397.2,562.5 L400.4,562.7 L403.6,562.8 L406.8,563.3 L410.0,564.3 L413.2,564.4 L416.4,564.8 L419.6,565.0 L422.8,565.5 L426.0,566.4 L429.2,566.7 L431.6,566.9" fill="none" stroke="#7a9833" stroke-width="3.1" opacity="0.95" stroke-linejoin="round"/>
<path d="M387.1,567.3 L390.3,567.6 L393.5,567.4 L396.7,567.5 L399.9,567.7 L403.1,567.8 L406.3,568.1 L409.5,568.0 L412.7,568.3 L415.9,569.1 L419.1,569.2 L422.3,569.8 L425.5,570.1 L428.7,570.4 L431.9,570.4 L432.4,570.5" fill="none" stroke="#7a9833" stroke-width="4.3" opacity="0.3" stroke-linejoin="round"/>
<path d="M387.1,567.3 L390.3,567.6 L393.5,567.4 L396.7,567.5 L399.9,567.7 L403.1,567.8 L406.3,568.1 L409.5,568.0 L412.7,568.3 L415.9,569.1 L419.1,569.2 L422.3,569.8 L425.5,570.1 L428.7,570.4 L431.9,570.4 L432.4,570.5" fill="none" stroke="#7a9833" stroke-width="3.1" opacity="0.95" stroke-linejoin="round"/>
<path d="M388.1,572.5 L391.3,572.0 L394.5,572.4 L397.7,572.1 L400.9,572.6 L404.1,572.8 L407.3,572.5 L410.5,572.8 L413.7,572.9 L416.9,573.2 L420.1,573.3 L423.3,573.8 L426.5,573.6 L429.7,573.8 L430.6,574.1" fill="none" stroke="#7a9833" stroke-width="4.3" opacity="0.3" stroke-linejoin="round"/>
<path d="M388.1,572.5 L391.3,572.0 L394.5,572.4 L397.7,572.1 L400.9,572.6 L404.1,572.8 L407.3,572.5 L410.5,572.8 L413.7,572.9 L416.9,573.2 L420.1,573.3 L423.3,573.8 L426.5,573.6 L429.7,573.8 L430.6,574.1" fill="none" stroke="#7a9833" stroke-width="3.1" opacity="0.95" stroke-linejoin="round"/>
<path d="M387.0,576.9 L390.2,577.3 L393.4,577.3 L396.6,576.8 L399.8,576.7 L403.0,577.3 L406.2,577.5 L409.4,577.4 L412.6,577.1 L415.8,577.3 L419.0,577.9 L422.2,578.0 L425.4,577.5 L428.6,577.7 L431.8,577.9 L432.3,578.0" fill="none" stroke="#7a9833" stroke-width="4.3" opacity="0.3" stroke-linejoin="round"/>
<path d="M387.0,576.9 L390.2,577.3 L393.4,577.3 L396.6,576.8 L399.8,576.7 L403.0,577.3 L406.2,577.5 L409.4,577.4 L412.6,577.1 L415.8,577.3 L419.0,577.9 L422.2,578.0 L425.4,577.5 L428.6,577.7 L431.8,577.9 L432.3,578.0" fill="none" stroke="#7a9833" stroke-width="3.1" opacity="0.95" stroke-linejoin="round"/>
<line x1="253.5" y1="612.5" x2="445.0" y2="612.5" stroke="#7a9230" stroke-width="1.0" opacity="0.55"/>
<path d="M308.4,589.5 L382,589.5 L417.9,595.5 L417.9,610.1 L382,606.7 L308.4,606.7Z" fill="#7a9230" opacity="0.13"/>
<path d="M308.4,590.9 L311.6,591.2 L314.8,590.8 L318.0,591.0 L321.2,591.3 L324.4,591.1 L327.6,590.7 L330.8,590.7 L334.0,591.1 L337.2,590.9 L340.4,590.9 L343.6,591.0 L346.8,591.1 L350.0,591.3 L353.2,590.8 L356.4,591.0 L359.6,590.8 L362.8,591.0 L366.0,591.2 L369.2,590.7 L372.4,591.0 L375.6,591.1 L378.8,590.7 L382.0,591.2 L385.2,591.5 L388.4,592.1 L391.6,592.7 L394.8,593.3 L398.0,593.4 L401.2,594.2 L404.4,594.4 L407.6,595.2 L410.8,595.7 L414.0,596.0 L416.0,596.7" fill="none" stroke="#7a9230" stroke-width="3.6" opacity="0.3" stroke-linejoin="round"/>
<path d="M308.4,590.9 L311.6,591.2 L314.8,590.8 L318.0,591.0 L321.2,591.3 L324.4,591.1 L327.6,590.7 L330.8,590.7 L334.0,591.1 L337.2,590.9 L340.4,590.9 L343.6,591.0 L346.8,591.1 L350.0,591.3 L353.2,590.8 L356.4,591.0 L359.6,590.8 L362.8,591.0 L366.0,591.2 L369.2,590.7 L372.4,591.0 L375.6,591.1 L378.8,590.7 L382.0,591.2 L385.2,591.5 L388.4,592.1 L391.6,592.7 L394.8,593.3 L398.0,593.4 L401.2,594.2 L404.4,594.4 L407.6,595.2 L410.8,595.7 L414.0,596.0 L416.0,596.7" fill="none" stroke="#7a9230" stroke-width="2.4" opacity="0.95" stroke-linejoin="round"/>
<path d="M308.5,595.5 L311.7,595.7 L314.9,595.3 L318.1,595.4 L321.3,595.5 L324.5,595.7 L327.7,595.7 L330.9,595.7 L334.1,595.3 L337.3,595.2 L340.5,595.7 L343.7,595.1 L346.9,595.4 L350.1,595.6 L353.3,595.4 L356.5,595.3 L359.7,595.7 L362.9,595.3 L366.1,595.4 L369.3,595.6 L372.5,595.1 L375.7,595.3 L378.9,595.4 L382.1,595.5 L385.3,595.7 L388.5,596.3 L391.7,596.5 L394.9,596.9 L398.1,597.6 L401.3,597.9 L404.5,598.9 L407.7,598.9 L410.9,599.3 L414.1,600.2 L416.8,600.3" fill="none" stroke="#7a9230" stroke-width="3.6" opacity="0.3" stroke-linejoin="round"/>
<path d="M308.5,595.5 L311.7,595.7 L314.9,595.3 L318.1,595.4 L321.3,595.5 L324.5,595.7 L327.7,595.7 L330.9,595.7 L334.1,595.3 L337.3,595.2 L340.5,595.7 L343.7,595.1 L346.9,595.4 L350.1,595.6 L353.3,595.4 L356.5,595.3 L359.7,595.7 L362.9,595.3 L366.1,595.4 L369.3,595.6 L372.5,595.1 L375.7,595.3 L378.9,595.4 L382.1,595.5 L385.3,595.7 L388.5,596.3 L391.7,596.5 L394.9,596.9 L398.1,597.6 L401.3,597.9 L404.5,598.9 L407.7,598.9 L410.9,599.3 L414.1,600.2 L416.8,600.3" fill="none" stroke="#7a9230" stroke-width="2.4" opacity="0.95" stroke-linejoin="round"/>
<path d="M309.4,600.4 L312.6,600.3 L315.8,600.1 L319.0,600.3 L322.2,600.0 L325.4,600.0 L328.6,600.5 L331.8,600.2 L335.0,600.5 L338.2,600.0 L341.4,599.9 L344.6,599.9 L347.8,600.4 L351.0,600.2 L354.2,599.9 L357.4,599.9 L360.6,600.4 L363.8,600.2 L367.0,600.5 L370.2,599.9 L373.4,600.3 L376.6,599.9 L379.8,600.4 L383.0,600.4 L386.2,600.8 L389.4,600.9 L392.6,601.8 L395.8,601.5 L399.0,601.9 L402.2,602.7 L405.4,602.7 L408.6,603.0 L411.8,603.7 L415.0,604.2 L417.2,604.3" fill="none" stroke="#7a9230" stroke-width="3.6" opacity="0.3" stroke-linejoin="round"/>
<path d="M309.4,600.4 L312.6,600.3 L315.8,600.1 L319.0,600.3 L322.2,600.0 L325.4,600.0 L328.6,600.5 L331.8,600.2 L335.0,600.5 L338.2,600.0 L341.4,599.9 L344.6,599.9 L347.8,600.4 L351.0,600.2 L354.2,599.9 L357.4,599.9 L360.6,600.4 L363.8,600.2 L367.0,600.5 L370.2,599.9 L373.4,600.3 L376.6,599.9 L379.8,600.4 L383.0,600.4 L386.2,600.8 L389.4,600.9 L392.6,601.8 L395.8,601.5 L399.0,601.9 L402.2,602.7 L405.4,602.7 L408.6,603.0 L411.8,603.7 L415.0,604.2 L417.2,604.3" fill="none" stroke="#7a9230" stroke-width="2.4" opacity="0.95" stroke-linejoin="round"/>
<path d="M309.7,604.9 L312.9,605.3 L316.1,605.4 L319.3,604.9 L322.5,605.4 L325.7,605.0 L328.9,605.1 L332.1,604.9 L335.3,605.4 L338.5,605.2 L341.7,605.5 L344.9,605.2 L348.1,605.0 L351.3,605.0 L354.5,605.0 L357.7,605.5 L360.9,605.0 L364.1,604.9 L367.3,605.1 L370.5,604.9 L373.7,605.1 L376.9,605.3 L380.1,605.3 L383.3,605.1 L386.5,605.4 L389.7,605.9 L392.9,606.4 L396.1,606.5 L399.3,606.9 L402.5,607.4 L405.7,607.2 L408.9,607.6 L412.1,608.0 L415.3,608.4 L416.1,608.4" fill="none" stroke="#7a9230" stroke-width="3.6" opacity="0.3" stroke-linejoin="round"/>
<path d="M309.7,604.9 L312.9,605.3 L316.1,605.4 L319.3,604.9 L322.5,605.4 L325.7,605.0 L328.9,605.1 L332.1,604.9 L335.3,605.4 L338.5,605.2 L341.7,605.5 L344.9,605.2 L348.1,605.0 L351.3,605.0 L354.5,605.0 L357.7,605.5 L360.9,605.0 L364.1,604.9 L367.3,605.1 L370.5,604.9 L373.7,605.1 L376.9,605.3 L380.1,605.3 L383.3,605.1 L386.5,605.4 L389.7,605.9 L392.9,606.4 L396.1,606.5 L399.3,606.9 L402.5,607.4 L405.7,607.2 L408.9,607.6 L412.1,608.0 L415.3,608.4 L416.1,608.4" fill="none" stroke="#7a9230" stroke-width="2.4" opacity="0.95" stroke-linejoin="round"/>
<rect x="37.5" y="437.5" width="191.0" height="176.0" fill="none" stroke="#111" stroke-width="1.0"/>
<line x1="37.5" y1="466.5" x2="228.5" y2="466.5" stroke="#111" stroke-width="1.0"/>
<line x1="37.5" y1="496.5" x2="228.5" y2="496.5" stroke="#111" stroke-width="1.0"/>
<line x1="37.5" y1="525.5" x2="228.5" y2="525.5" stroke="#111" stroke-width="1.0"/>
<line x1="37.5" y1="554.5" x2="228.5" y2="554.5" stroke="#111" stroke-width="1.0"/>
<line x1="37.5" y1="584.5" x2="228.5" y2="584.5" stroke="#111" stroke-width="1.0"/>
<line x1="37.5" y1="613.5" x2="37.5" y2="617.7" stroke="#111" stroke-width="1"/>
<text x="37.50" y="630.80" font-size="10.4" text-anchor="middle" fill="#222" textLength="18.5" lengthAdjust="spacingAndGlyphs">0.00</text>
<line x1="133.0" y1="613.5" x2="133.0" y2="617.7" stroke="#111" stroke-width="1"/>
<text x="133.00" y="630.80" font-size="10.4" text-anchor="middle" fill="#222" textLength="18.5" lengthAdjust="spacingAndGlyphs">0.75</text>
<line x1="228.5" y1="613.5" x2="228.5" y2="617.7" stroke="#111" stroke-width="1"/>
<text x="228.50" y="630.80" font-size="10.4" text-anchor="middle" fill="#222" textLength="18.5" lengthAdjust="spacingAndGlyphs">1.50</text>
<text x="133.00" y="644.50" font-size="12.6" text-anchor="middle" fill="#1a1a1a" >Time (s)</text>
<rect x="253.5" y="437.5" width="191.5" height="176.0" fill="none" stroke="#111" stroke-width="1.0"/>
<line x1="253.5" y1="466.5" x2="445.0" y2="466.5" stroke="#111" stroke-width="1.0"/>
<line x1="253.5" y1="496.5" x2="445.0" y2="496.5" stroke="#111" stroke-width="1.0"/>
<line x1="253.5" y1="525.5" x2="445.0" y2="525.5" stroke="#111" stroke-width="1.0"/>
<line x1="253.5" y1="554.5" x2="445.0" y2="554.5" stroke="#111" stroke-width="1.0"/>
<line x1="253.5" y1="584.5" x2="445.0" y2="584.5" stroke="#111" stroke-width="1.0"/>
<line x1="253.5" y1="613.5" x2="253.5" y2="617.7" stroke="#111" stroke-width="1"/>
<text x="253.50" y="630.80" font-size="10.4" text-anchor="middle" fill="#222" textLength="18.5" lengthAdjust="spacingAndGlyphs">0.00</text>
<line x1="349.2" y1="613.5" x2="349.2" y2="617.7" stroke="#111" stroke-width="1"/>
<text x="349.25" y="630.80" font-size="10.4" text-anchor="middle" fill="#222" textLength="18.5" lengthAdjust="spacingAndGlyphs">0.75</text>
<line x1="445.0" y1="613.5" x2="445.0" y2="617.7" stroke="#111" stroke-width="1"/>
<text x="445.00" y="630.80" font-size="10.4" text-anchor="middle" fill="#222" textLength="18.5" lengthAdjust="spacingAndGlyphs">1.50</text>
<text x="349.25" y="644.50" font-size="12.6" text-anchor="middle" fill="#1a1a1a" >Time (s)</text>
<line x1="253.5" y1="437.5" x2="445.0" y2="437.5" stroke="#8a8a8a" stroke-width="1.1"/>
</svg>
</body></html>
